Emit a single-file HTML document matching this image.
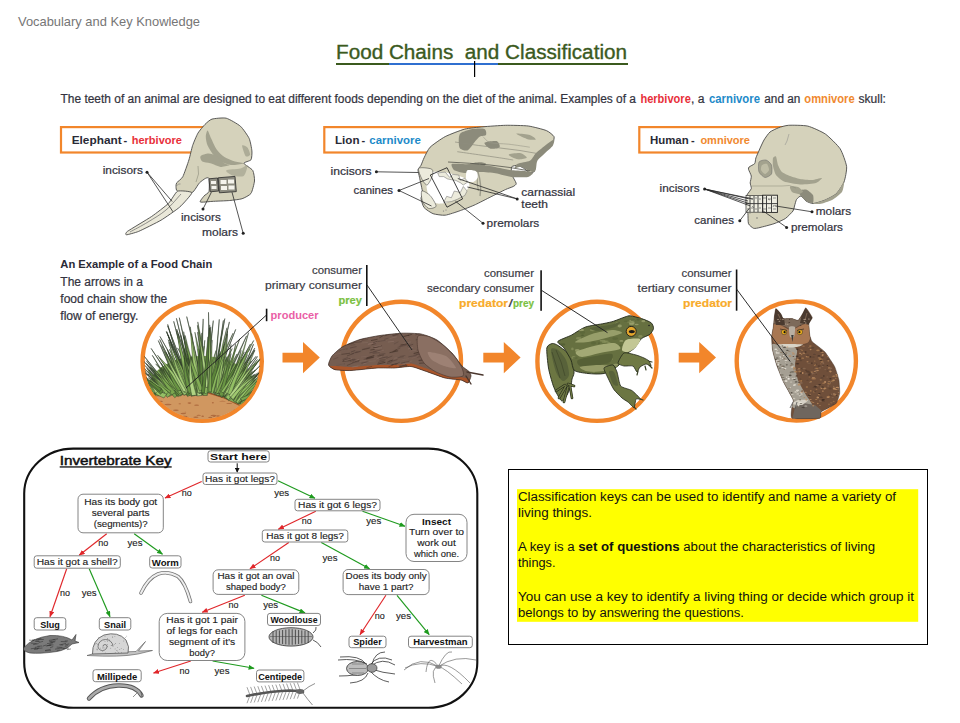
<!DOCTYPE html>
<html><head><meta charset="utf-8">
<style>
html,body{margin:0;padding:0;background:#fff;width:960px;height:723px;overflow:hidden}
svg{display:block}
text{font-family:"Liberation Sans",sans-serif}
.tw{fill:#333340;stroke:#333340;stroke-width:0.22}
.b{font-weight:bold}
.lab{font-size:11.5px;fill:#3a3a44}
.kb{fill:#fff;stroke:#777;stroke-width:0.9}
.kt{font-size:8.6px;fill:#222;stroke:#222;stroke-width:0.12}
.ktb{font-size:9.2px;fill:#111;font-weight:bold}
.red{stroke:#e0262a;stroke-width:1.15;fill:none}
.grn{stroke:#1e9a1e;stroke-width:1.15;fill:none}
.blk{stroke:#111;stroke-width:1;fill:none}
.ring{fill:none;stroke:#f2862b;stroke-width:4.4}
</style></head><body>
<svg width="960" height="723" viewBox="0 0 960 723">
<defs>
<marker id="ar" markerWidth="6" markerHeight="5" refX="5.5" refY="2.5" orient="auto" markerUnits="userSpaceOnUse"><path d="M0,0 L6,2.5 L0,5z" fill="#e0262a"/></marker>
<marker id="ag" markerWidth="6" markerHeight="5" refX="5.5" refY="2.5" orient="auto" markerUnits="userSpaceOnUse"><path d="M0,0 L6,2.5 L0,5z" fill="#1e9a1e"/></marker>
<marker id="ak" markerWidth="5" markerHeight="5" refX="4" refY="2.5" orient="auto" markerUnits="userSpaceOnUse"><path d="M0,0 L5,2.5 L0,5z" fill="#111"/></marker>
</defs>

<!-- header -->
<text x="18" y="25.5" font-size="13" fill="#767676" textLength="182" lengthAdjust="spacingAndGlyphs">Vocabulary and Key Knowledge</text>

<!-- title -->
<text x="336" y="59.2" font-size="20" fill="#3b5a1e" stroke="#3b5a1e" stroke-width="0.35" textLength="291" lengthAdjust="spacingAndGlyphs" xml:space="preserve">Food Chains  and Classification</text>
<rect x="336" y="63" width="292" height="2" fill="#3b5a1e"/>
<rect x="389" y="63" width="109" height="2" fill="#2f6fd0"/>
<rect x="474" y="61" width="1.2" height="16" fill="#000"/>

<!-- intro -->
<g font-size="12">
<text class="tw" x="60.5" y="102.5" textLength="575.5" lengthAdjust="spacingAndGlyphs">The teeth of an animal are designed to eat different foods depending on the diet of the animal. Examples of a</text>
<text class="b" fill="#e8303a" x="640.4" y="102.5" textLength="50.4" lengthAdjust="spacingAndGlyphs">herbivore</text>
<text class="tw" x="691" y="102.5" textLength="13.5" lengthAdjust="spacingAndGlyphs">, a</text>
<text class="b" fill="#1d8ac9" x="709" y="102.5" textLength="51" lengthAdjust="spacingAndGlyphs">carnivore</text>
<text class="tw" x="764.3" y="102.5" textLength="36" lengthAdjust="spacingAndGlyphs">and an</text>
<text class="b" fill="#f0892f" x="804.3" y="102.5" textLength="50.4" lengthAdjust="spacingAndGlyphs">omnivore</text>
<text class="tw" x="858.5" y="102.5" textLength="27.4" lengthAdjust="spacingAndGlyphs">skull:</text>
</g>

<!-- label boxes -->
<g fill="none" stroke="#f2862b" stroke-width="2.2">
<rect x="61" y="127.1" width="160" height="25.4"/>
<rect x="324.3" y="127.1" width="160" height="25.4"/>
<rect x="639.3" y="127.1" width="160" height="25.4"/>
</g>
<g font-size="11" font-weight="bold">
<text x="71.7" y="143.7" fill="#2a2a36" textLength="50" lengthAdjust="spacingAndGlyphs">Elephant</text>
<text x="123.5" y="143.7" fill="#2a2a36">-</text>
<text x="131.7" y="143.7" fill="#e8303a" textLength="50.3" lengthAdjust="spacingAndGlyphs">herbivore</text>
<text x="335" y="143.5" fill="#2a2a36" textLength="24.5" lengthAdjust="spacingAndGlyphs">Lion</text>
<text x="361.5" y="143.5" fill="#2a2a36">-</text>
<text x="369.3" y="143.5" fill="#1d8ac9" textLength="51.5" lengthAdjust="spacingAndGlyphs">carnivore</text>
<text x="650" y="143.7" fill="#2a2a36" textLength="38.7" lengthAdjust="spacingAndGlyphs">Human</text>
<text x="691" y="143.7" fill="#2a2a36">-</text>
<text x="700.4" y="143.7" fill="#f0892f" textLength="49.6" lengthAdjust="spacingAndGlyphs">omnivore</text>
</g>

<!-- SKULLS -->
<g id="skullsg"><path d="M212.0,119.1 C214.1,118.5 223.4,117.5 226.2,118.2 C229.0,118.9 238.1,124.2 240.4,126.2 C242.7,128.2 248.0,136.0 249.2,138.5 C250.3,141.0 251.7,148.8 251.9,150.9 C252.1,153.0 251.8,158.6 251.0,159.8 C250.2,161.0 243.7,162.2 243.9,163.3 C244.1,164.4 251.6,168.6 252.7,170.4 C253.8,172.2 254.7,178.7 254.5,181.0 C254.3,183.3 252.2,191.6 251.0,193.4 C249.8,195.2 244.2,198.0 242.1,198.7 C240.0,199.4 232.7,200.2 229.7,200.5 C226.7,200.8 214.9,201.2 212.0,201.4 C209.1,201.6 201.1,202.5 200.3,202.0 C199.5,201.5 203.1,197.1 204.0,196.0 C204.9,194.9 208.5,193.2 209.0,191.5 C209.5,189.8 209.3,179.8 209.0,178.5 C208.7,177.2 206.5,177.9 205.6,178.3 C204.7,178.7 200.9,181.4 199.5,182.8 C198.1,184.2 194.1,191.9 191.9,192.7 C189.7,193.5 179.1,191.8 177.5,191.2 C175.9,190.6 176.1,187.4 176.0,186.6 C175.9,185.8 176.0,183.8 176.7,182.8 C177.4,181.8 181.6,179.0 182.8,176.7 C184.0,174.4 187.9,163.1 188.9,160.0 C189.9,156.9 191.7,148.3 192.6,145.6 C193.5,142.9 196.7,135.3 197.9,133.2 C199.1,131.1 203.6,125.8 205.0,124.4 C206.4,123.0 209.9,119.7 212.0,119.1Z" fill="#d5d2bb" stroke="#4a4a48" stroke-width="0.9"/>
<path d="M207.6,130.6 C208.3,130.8 210.0,136.1 211.2,138.5 C212.3,141.0 214.7,146.7 216.5,149.2 C218.2,151.6 221.9,155.5 224.4,157.1 C226.9,158.8 232.4,160.7 235.0,161.6 C237.6,162.4 244.1,162.9 243.9,163.3 C243.7,163.8 236.1,165.2 233.3,165.1 C230.4,165.0 225.3,163.7 222.7,162.4 C220.1,161.1 215.8,157.6 213.8,155.4 C211.8,153.1 208.7,148.1 207.6,145.6 C206.5,143.2 205.8,138.8 205.8,136.8 C205.8,134.8 206.9,130.3 207.6,130.6Z" fill="#a3a28e"/>
<path d="M200.5,156.2 C201.4,155.2 206.4,153.6 208.5,153.6 C210.6,153.6 214.3,154.9 216.5,156.2 C218.6,157.5 222.7,162.1 224.4,163.3 C226.2,164.5 230.2,164.6 229.7,165.1 C229.3,165.6 223.5,167.1 220.9,166.9 C218.3,166.6 212.7,164.0 210.3,163.3 C207.8,162.6 203.6,162.5 202.3,161.6 C201.0,160.6 199.7,157.3 200.5,156.2Z" fill="#a3a28e"/>
<path d="M226.2,170.4 C227.1,169.5 237.5,169.3 240.4,168.6 C243.2,167.9 247.0,164.2 247.4,165.1 C247.9,166.0 245.8,174.3 243.9,175.7 C242.0,177.1 235.6,176.4 233.3,175.7 C230.9,175.0 225.3,171.4 226.2,170.4Z" fill="#a3a28e" opacity="0.7"/>
<path d="M242.1,145.6 C242.4,144.4 246.4,146.2 247.4,147.4 C248.5,148.6 250.3,153.3 250.1,154.5 C249.9,155.7 246.7,157.4 245.7,156.2 C244.6,155.1 241.9,146.8 242.1,145.6Z" fill="#a3a28e" opacity="0.8"/>
<path d="M177.5,191.2 C175.6,192.1 170.7,201.3 168.5,203.4 C166.3,205.5 155.0,214.2 151.6,216.5 C148.2,218.8 129.5,229.9 127.4,231.4 C125.3,232.9 125.5,234.8 126.4,234.8 C127.3,234.8 135.7,232.6 138.6,231.4 C141.5,230.2 157.6,222.2 161.0,220.2 C164.4,218.2 177.1,209.4 179.7,207.1 C182.3,204.8 192.1,194.0 191.9,192.7 C191.7,191.4 179.4,190.3 177.5,191.2Z" fill="#eae8d9" stroke="#4a4a48" stroke-width="0.9"/>
<path d="M181.0,194.0 C178.5,196.7 171.5,205.3 166.0,210.0 C160.5,214.7 154.0,218.3 148.0,222.0 C142.0,225.7 133.0,230.3 130.0,232.0" fill="none" stroke="#666" stroke-width="0.7"/>
<path d="M176.5,186 q2,-3 4,-2" fill="none" stroke="#777" stroke-width="0.6"/>
<path d="M198,166 q2,8 -2,16" fill="none" stroke="#8a8978" stroke-width="0.6"/>
<path d="M209,178.8 L217.5,178 L218.8,191 L210.2,191.8Z" fill="#8d8c80" stroke="#2a2a2a" stroke-width="0.8"/>
<path d="M218.2,177.8 L235,176.4 L236.3,191.6 L219.4,192.8Z" fill="#8d8c80" stroke="#2a2a2a" stroke-width="0.8"/>
<path d="M211,181 h5 v3 h-5z M211.5,186 h5 v3 h-5z M220.5,180 h6 v4 h-6z M228,179.5 h6 v4 h-6z M221,186 h6 v4 h-6z M228.5,185.5 h6 v4 h-6z" fill="#f4f3ec"/>
<path d="M430.1,147.2 C432.2,145.1 441.7,138.4 445.2,136.6 C448.7,134.8 461.1,130.0 464.8,129.1 C468.6,128.1 478.9,127.2 483.0,126.8 C487.1,126.4 501.1,125.4 505.6,125.3 C510.2,125.2 524.2,125.5 528.3,126.0 C532.4,126.6 543.9,129.5 546.4,130.6 C549.0,131.6 553.4,135.4 554.0,136.6 C554.6,137.8 553.5,141.5 552.5,142.7 C551.4,143.9 545.1,147.5 543.4,148.7 C541.7,149.9 536.9,153.4 535.8,154.7 C534.8,156.1 533.0,160.6 532.8,162.3 C532.7,164.0 534.6,170.3 534.3,171.4 C534.0,172.4 530.9,173.2 529.8,172.9 C528.7,172.6 525.0,169.1 523.8,168.3 C522.6,167.6 518.9,165.5 517.7,165.3 C516.5,165.2 512.3,165.9 511.7,166.8 C511.1,167.7 511.2,172.7 511.7,174.4 C512.1,176.0 516.1,182.2 516.2,183.4 C516.4,184.7 514.2,185.9 513.2,186.5 C512.1,187.1 507.9,188.4 505.6,189.5 C503.4,190.5 493.5,195.5 490.5,197.0 C487.5,198.5 478.4,203.2 475.4,204.6 C472.4,206.0 463.3,209.6 460.3,210.6 C457.3,211.7 447.9,214.9 445.2,215.2 C442.5,215.5 435.2,214.4 433.1,213.7 C431.0,212.9 425.3,209.1 424.1,207.6 C422.9,206.1 421.2,200.1 421.0,198.5 C420.9,197.0 422.7,194.6 422.6,192.5 C422.4,190.4 420.0,179.7 419.5,177.4 C419.1,175.1 417.9,171.1 418.0,169.8 C418.2,168.6 420.4,166.5 421.0,165.3 C421.6,164.1 423.2,159.6 424.1,157.8 C425.0,156.0 428.0,149.3 430.1,147.2Z" fill="#d5d2bb" stroke="#4a4a48" stroke-width="0.9"/>
<path d="M460.3,133.6 C462.1,131.8 469.2,129.7 472.4,129.1 C475.6,128.5 482.7,128.3 484.5,129.1 C486.3,129.9 486.6,134.1 486.0,135.1 C485.4,136.1 481.4,135.8 480.0,136.6 C478.5,137.4 477.0,139.3 475.4,141.1 C473.8,143.0 469.9,149.2 467.9,150.2 C465.9,151.2 461.5,149.7 460.3,148.7 C459.1,147.7 458.8,144.7 458.8,142.7 C458.8,140.6 458.5,135.4 460.3,133.6Z" fill="#8c8b7b"/>
<path d="M484.5,142.7 C485.3,141.7 494.6,140.5 496.6,141.1 C498.6,141.8 500.4,146.2 499.6,147.2 C498.8,148.2 492.5,149.3 490.5,148.7 C488.5,148.1 483.7,143.7 484.5,142.7Z" fill="#8c8b7b"/>
<path d="M554.0,139.6 C554.9,139.6 553.8,144.1 552.8,145.7 C551.7,147.3 546.7,151.5 544.9,153.2 C543.1,155.0 538.4,158.8 537.4,160.8 C536.3,162.7 536.4,168.5 535.8,169.8 C535.3,171.2 533.9,172.1 532.8,172.1 C531.8,172.1 528.2,170.5 526.8,169.8 C525.4,169.2 522.2,167.0 520.7,166.8 C519.3,166.7 515.1,168.7 514.7,168.3 C514.3,168.0 516.0,164.7 517.7,163.8 C519.5,162.9 527.7,162.0 529.8,160.8 C531.9,159.6 534.1,155.0 535.8,153.2 C537.6,151.5 542.8,147.3 544.9,145.7 C547.0,144.1 553.1,139.6 554.0,139.6Z" fill="#8c8b7b"/>
<path d="M516.2,133.6 C516.6,133.1 527.2,134.3 529.8,135.1 C532.4,135.9 536.2,139.1 535.8,139.6 C535.4,140.1 529.4,139.7 526.8,138.9 C524.2,138.1 515.8,134.1 516.2,133.6Z" fill="#a3a28e"/>
<path d="M508.7,154.7 C509.1,153.9 518.3,152.8 520.7,153.2 C523.2,153.6 527.2,157.0 526.8,157.8 C526.4,158.6 520.1,159.7 517.7,159.3 C515.3,158.9 508.3,155.5 508.7,154.7Z" fill="#a3a28e"/>
<path d="M466.4,165.3 C467.2,163.9 475.8,162.5 478.4,162.3 C481.1,162.1 485.8,162.8 486.0,163.8 C486.2,164.8 481.8,168.6 480.0,169.8 C478.1,171.1 474.2,173.5 472.4,172.9 C470.6,172.3 465.6,166.7 466.4,165.3Z" fill="#8c8b7b"/>
<path d="M480.0,163.8 Q475.4,177.4 478.4,191.0" fill="none" stroke="#a3a28e" stroke-width="1.2"/>
<path d="M452.0,164.0 C453.6,163.4 466.2,164.3 470.0,164.5 C473.8,164.7 486.0,165.4 490.0,166.0 C494.0,166.6 506.5,169.5 510.0,170.0 C513.5,170.5 522.7,170.7 525.0,171.0 C527.3,171.3 532.7,172.4 533.0,173.0 C533.3,173.6 530.1,176.6 528.0,177.0 C525.9,177.4 515.4,177.4 512.0,177.0 C508.6,176.6 497.4,173.5 494.0,173.0 C490.6,172.5 481.0,172.0 478.0,172.0 C475.0,172.0 466.4,173.2 464.0,173.0 C461.6,172.8 455.2,170.9 454.0,170.0 C452.8,169.1 450.4,164.6 452.0,164.0Z" fill="#8c8b7b"/>
<path d="M448,162 Q470,163 490,165 Q510,167 530,171" fill="none" stroke="#55554c" stroke-width="0.8"/>
<path d="M455,142 Q480,146 500,148 Q520,150 540,154" fill="none" stroke="#8e8d7e" stroke-width="0.7"/>
<path d="M478,172 Q482,185 480,196" fill="none" stroke="#9c9b8b" stroke-width="1.4"/>
<path d="M467.1,170.6 C468.4,169.4 474.8,170.5 476.2,171.4 C477.6,172.3 478.1,176.0 477.7,177.4 C477.3,178.8 474.7,181.5 473.2,181.9 C471.6,182.3 467.2,181.9 466.4,180.4 C465.6,178.9 465.8,171.8 467.1,170.6Z" fill="#fff"/>
<path d="M428.6,172.9 C430.7,171.4 438.8,171.9 442.2,172.1 C445.6,172.3 451.3,173.6 454.3,174.4 C457.3,175.2 462.8,176.7 464.8,178.2 C466.9,179.6 469.4,183.0 469.4,185.0 C469.4,186.9 466.7,190.7 464.8,192.5 C463.0,194.3 458.4,197.1 455.8,198.5 C453.2,200.0 448.0,202.5 445.2,203.1 C442.4,203.7 436.9,204.1 434.6,203.1 C432.4,202.1 429.7,198.1 428.6,195.5 C427.5,192.9 426.3,186.5 426.3,183.4 C426.3,180.4 426.5,174.4 428.6,172.9Z" fill="#fff"/>
<path d="M418.8,168.3 C420.1,167.0 429.8,168.1 431.6,169.1 C433.4,170.1 433.0,173.8 432.4,175.9 C431.8,178.0 428.5,184.6 427.1,185.0 C425.7,185.4 422.9,181.1 421.8,178.9 C420.7,176.7 417.5,169.6 418.8,168.3Z" fill="#ecebdc" stroke="#4a4a48" stroke-width="0.6"/>
<path d="M421.8,191.0 C422.8,190.2 428.2,193.5 430.1,195.5 C432.0,197.5 436.3,204.4 436.1,206.1 C435.9,207.8 430.4,209.0 428.6,208.4 C426.8,207.8 423.5,203.9 422.6,201.6 C421.6,199.3 420.8,191.8 421.8,191.0Z" fill="#ecebdc" stroke="#4a4a48" stroke-width="0.6"/>
<path d="M437.7,172.9 L445.2,172.1 L449.7,177.4 L452.8,174.4 L458.8,175.1 L460.3,180.4 L464.8,178.2 L467.9,181.9 L463.3,185.0 L460.3,182.7 L455.8,180.4 L451.3,179.7 L447.5,178.9 L443.7,176.6 L439.2,176.6Z" fill="#ecebdc" stroke="#666" stroke-width="0.5"/>
<path d="M443.7,202.3 L446.7,196.3 L451.3,197.8 L454.3,191.0 L460.3,192.5 L463.3,186.5 L467.1,191.0 L464.8,195.5 L457.3,199.3 L451.3,201.6Z" fill="#ecebdc" stroke="#666" stroke-width="0.5"/>
<path d="M457.3,151.7 C460.8,152.2 471.4,153.7 478.4,154.7 C485.5,155.8 493.8,156.9 499.6,157.8 C505.4,158.6 510.9,159.7 513.2,160.0" fill="none" stroke="#8e8d7e" stroke-width="0.7"/>
<path d="M483.0,136.6 C484.2,137.6 486.2,141.4 490.5,142.7 C494.8,143.9 502.1,143.4 508.7,144.2 C515.2,144.9 526.3,146.7 529.8,147.2" fill="none" stroke="#9a998a" stroke-width="0.6"/>
<circle cx="443.5" cy="211" r="0.6" fill="#777"/><circle cx="446" cy="210" r="0.6" fill="#777"/>
<path d="M430.3,175 L447,167.7 L462.6,198.9 L447,207.2 Z" fill="none" stroke="#2a2a2a" stroke-width="0.9"/>
<path d="M788.4,125.3 C791.3,125.1 804.1,125.2 807.8,126.1 C811.5,127.0 822.4,131.9 825.6,134.2 C828.8,136.5 838.0,145.5 840.1,148.7 C842.2,151.9 846.2,163.2 846.6,166.5 C847.0,169.8 845.1,179.2 844.0,182.0 C842.9,184.8 838.0,192.2 836.0,194.0 C834.0,195.8 826.3,199.6 824.0,200.5 C821.7,201.4 815.0,203.4 813.2,203.5 C811.4,203.6 807.2,201.8 806.0,201.0 C804.8,200.2 802.0,196.2 801.0,196.0 C800.0,195.8 797.1,198.5 796.5,199.5 C795.9,200.5 794.9,204.8 794.5,206.0 C794.1,207.2 793.9,209.8 793.0,211.0 C792.1,212.2 787.3,217.2 785.4,218.5 C783.5,219.8 776.5,222.8 774.0,223.7 C771.5,224.6 762.0,227.0 760.0,227.5 C758.0,228.0 754.8,228.7 753.6,228.3 C752.5,227.9 749.1,225.2 748.5,223.7 C747.9,222.2 748.1,215.4 747.9,213.5 C747.7,211.6 746.3,206.2 746.2,204.4 C746.1,202.6 746.3,197.0 746.8,195.4 C747.3,193.8 751.0,189.8 751.3,188.6 C751.6,187.3 750.2,184.2 750.2,182.9 C750.2,181.7 751.5,177.5 751.3,176.1 C751.1,174.7 748.7,170.2 748.5,169.3 C748.3,168.4 748.5,167.6 749.1,167.0 C749.7,166.4 754.0,164.5 754.7,163.6 C755.4,162.7 755.4,159.3 755.9,157.9 C756.4,156.5 758.5,151.8 759.3,150.0 C760.1,148.2 762.9,141.8 764.0,140.0 C765.1,138.2 768.5,133.2 770.0,132.0 C771.5,130.8 776.9,128.4 778.7,127.7 C780.5,127.0 785.5,125.5 788.4,125.3Z" fill="#d5d2bb" stroke="#4a4a48" stroke-width="0.9"/>
<path d="M759.0,162.0 C759.8,160.6 764.5,159.7 766.0,160.0 C767.5,160.3 770.9,163.4 771.5,165.0 C772.1,166.6 772.3,172.5 771.5,174.0 C770.7,175.5 766.5,177.7 765.0,177.5 C763.5,177.3 759.7,173.8 759.0,172.0 C758.3,170.2 758.2,163.4 759.0,162.0Z" fill="#a3a28e" stroke="#666" stroke-width="0.5"/>
<path d="M762.0,165.0 C762.7,164.3 766.2,163.4 767.0,164.0 C767.8,164.6 769.2,168.8 769.0,170.0 C768.8,171.2 765.9,174.0 765.0,174.0 C764.1,174.0 761.4,171.1 761.0,170.0 C760.6,168.9 761.3,165.7 762.0,165.0Z" fill="#bfbda6"/>
<path d="M773.0,158.0 C773.3,157.1 775.5,155.8 776.0,156.5 C776.5,157.2 777.4,163.4 778.0,165.0 C778.6,166.6 780.8,170.9 782.0,172.0 C783.2,173.1 788.2,175.3 790.0,176.0 C791.8,176.7 797.8,178.6 800.0,179.0 C802.2,179.4 809.8,180.1 812.0,180.0 C814.2,179.9 821.6,177.7 822.0,178.0 C822.4,178.3 818.2,182.3 816.0,183.0 C813.8,183.7 803.2,184.7 800.0,184.5 C796.8,184.3 786.4,182.4 784.0,181.5 C781.6,180.6 777.1,176.6 776.0,175.0 C774.9,173.4 773.3,167.7 773.0,166.0 C772.7,164.3 772.7,158.9 773.0,158.0Z" fill="#a3a28e"/>
<path d="M798.0,191.0 C798.5,190.3 804.5,189.1 806.0,189.5 C807.5,189.9 812.3,193.7 813.0,195.0 C813.7,196.3 813.7,202.4 813.0,203.0 C812.3,203.6 807.2,201.7 806.0,201.0 C804.8,200.3 801.8,197.0 801.0,196.0 C800.2,195.0 797.5,191.7 798.0,191.0Z" fill="#8c8b7b"/>
<path d="M790.0,186.5 C790.6,186.0 796.7,186.5 798.0,187.0 C799.3,187.5 802.9,190.8 803.0,191.5 C803.1,192.2 800.1,193.9 799.0,194.0 C797.9,194.1 792.9,192.8 792.0,192.0 C791.1,191.2 789.4,187.0 790.0,186.5Z" fill="#a3a28e"/>
<path d="M813.0,203.5 C813.4,203.2 821.7,201.4 824.0,200.5 C826.3,199.6 834.0,195.8 836.0,194.0 C838.0,192.2 843.4,182.2 844.0,182.0 C844.6,181.8 843.2,190.2 842.0,192.0 C840.8,193.8 834.2,198.8 832.0,200.0 C829.8,201.2 821.9,203.7 820.0,204.0 C818.1,204.3 812.6,203.8 813.0,203.5Z" fill="#a3a28e"/>
<path d="M789,134 l-2,7 -2,4" fill="none" stroke="#888" stroke-width="0.5"/>
<path d="M752,186 h30 M782,186 q8,-2 14,2" fill="none" stroke="#8a8a7a" stroke-width="0.5"/>
<rect x="746" y="195.6" width="31.4" height="16.6" fill="#efeee2"/>
<path d="M746,203.6h31.4 M750,196v16 M754,196v16 M758,196v16 M766.5,196v16 M771.5,196v16" fill="none" stroke="#333" stroke-width="0.9"/>
<path d="M747,198 h2 M751,199 h2 M755,198 h2 M759,199 h2 M763,198 h3 M768,199 h3 M773,198 h3 M747,209 h2 M751,208 h2 M755,209 h2 M759,208 h2 M763,209 h3 M768,208 h3 M773,209 h3" fill="none" stroke="#666" stroke-width="0.7"/>
<path d="M748,199 l2,-1 M752,206 l2,2 M768,199 l2,1 M773,207 l1,-2" stroke="#555" stroke-width="0.6"/>
<rect x="746" y="195.6" width="16.7" height="16.6" fill="none" stroke="#333" stroke-width="0.7"/>
<rect x="762.7" y="195.2" width="14.7" height="17.2" fill="none" stroke="#222" stroke-width="0.9"/>
<circle cx="757" cy="218" r="0.7" fill="#666"/><circle cx="750" cy="213" r="0.5" fill="#666"/>
<path d="M147,172.2 L172.2,201.5" stroke="#2a2a2a" stroke-width="0.8" fill="none"/>
<path d="M147,172.2 L173,211.8" stroke="#2a2a2a" stroke-width="0.8" fill="none"/>
<path d="M203,209 L211.4,192.2" stroke="#2a2a2a" stroke-width="0.8" fill="none"/>
<path d="M243.2,233.3 L232,192.2" stroke="#2a2a2a" stroke-width="0.8" fill="none"/>
<path d="M376.4,171.8 L418.3,172.5" stroke="#2a2a2a" stroke-width="0.8" fill="none"/>
<path d="M399,190.5 L429,178.5" stroke="#2a2a2a" stroke-width="0.8" fill="none"/>
<path d="M399,190.5 L431.5,206" stroke="#2a2a2a" stroke-width="0.8" fill="none"/>
<path d="M517.2,198.9 L457.8,178.5" stroke="#2a2a2a" stroke-width="0.8" fill="none"/>
<path d="M517.2,198.9 L467.4,187" stroke="#2a2a2a" stroke-width="0.8" fill="none"/>
<path d="M483,223.3 L455.4,201.2" stroke="#2a2a2a" stroke-width="0.8" fill="none"/>
<path d="M704.6,189 L748,198.6" stroke="#2a2a2a" stroke-width="0.8" fill="none"/>
<path d="M704.6,189 L748,201" stroke="#2a2a2a" stroke-width="0.8" fill="none"/>
<path d="M704.6,189 L749,203.5" stroke="#2a2a2a" stroke-width="0.8" fill="none"/>
<path d="M704.6,189 L750,205.8" stroke="#2a2a2a" stroke-width="0.8" fill="none"/>
<path d="M704.6,189 L753,199" stroke="#2a2a2a" stroke-width="0.8" fill="none"/>
<path d="M739.8,220.7 L749.4,208.2" stroke="#2a2a2a" stroke-width="0.8" fill="none"/>
<path d="M812,211.8 L774.6,205.8" stroke="#2a2a2a" stroke-width="0.8" fill="none"/>
<path d="M786.6,227.4 L762.6,210.6" stroke="#2a2a2a" stroke-width="0.8" fill="none"/>
<circle cx="147" cy="172.2" r="1.5" fill="#222"/>
<circle cx="203" cy="209" r="1.5" fill="#222"/>
<circle cx="243.2" cy="233.3" r="1.5" fill="#222"/>
<circle cx="376.4" cy="171.8" r="1.5" fill="#222"/>
<circle cx="399" cy="190.5" r="1.5" fill="#222"/>
<circle cx="517.2" cy="198.9" r="1.5" fill="#222"/>
<circle cx="483" cy="223.3" r="1.5" fill="#222"/>
<circle cx="704.6" cy="189" r="1.5" fill="#222"/>
<circle cx="739.8" cy="220.7" r="1.5" fill="#222"/>
<circle cx="812" cy="211.8" r="1.5" fill="#222"/>
<circle cx="786.6" cy="227.4" r="1.5" fill="#222"/>
<text class="tw" x="102.7" y="174.3" font-size="11.5" textLength="40.2" lengthAdjust="spacingAndGlyphs">incisors</text>
<text class="tw" x="181" y="220.5" font-size="11.5" textLength="39.8" lengthAdjust="spacingAndGlyphs">incisors</text>
<text class="tw" x="202" y="236.0" font-size="11.5" textLength="36.0" lengthAdjust="spacingAndGlyphs">molars</text>
<text class="tw" x="330.5" y="175.4" font-size="11.5" textLength="41.1" lengthAdjust="spacingAndGlyphs">incisors</text>
<text class="tw" x="353.6" y="194.1" font-size="11.5" textLength="39.4" lengthAdjust="spacingAndGlyphs">canines</text>
<text class="tw" x="521.3" y="195.6" font-size="11.5" textLength="53.9" lengthAdjust="spacingAndGlyphs">carnassial</text>
<text class="tw" x="521.3" y="208.4" font-size="11.5" textLength="26.7" lengthAdjust="spacingAndGlyphs">teeth</text>
<text class="tw" x="486.6" y="226.9" font-size="11.5" textLength="52.7" lengthAdjust="spacingAndGlyphs">premolars</text>
<text class="tw" x="659.6" y="191.5" font-size="11.5" textLength="40.0" lengthAdjust="spacingAndGlyphs">incisors</text>
<text class="tw" x="694.3" y="223.8" font-size="11.5" textLength="39.6" lengthAdjust="spacingAndGlyphs">canines</text>
<text class="tw" x="815.8" y="215.4" font-size="11.5" textLength="35.4" lengthAdjust="spacingAndGlyphs">molars</text>
<text class="tw" x="790.9" y="231.0" font-size="11.5" textLength="52.0" lengthAdjust="spacingAndGlyphs">premolars</text></g>

<!-- food chain text -->
<text class="b" x="60.3" y="268.2" font-size="11.5" fill="#2a2a36" textLength="152" lengthAdjust="spacingAndGlyphs">An Example of a Food Chain</text>
<g font-size="12" class="tw">
<text x="60.3" y="285.6" textLength="82.7" lengthAdjust="spacingAndGlyphs">The arrows in a</text>
<text x="60.3" y="302.6" textLength="107" lengthAdjust="spacingAndGlyphs">food chain show the</text>
<text x="60.3" y="319.6" textLength="78" lengthAdjust="spacingAndGlyphs">flow of energy.</text>
</g>

<!-- rings -->
<circle class="ring" cx="202.2" cy="361.2" r="59.6"/>
<circle class="ring" cx="401.4" cy="361.3" r="59.6"/>
<circle class="ring" cx="597" cy="361.3" r="59.6"/>
<circle class="ring" cx="796.3" cy="361" r="59.6"/>

<!-- arrows -->
<g fill="#f2862b">
<path d="M282.5,352.8H303V341.9L319.8,357.6L303,373.2V362.4H282.5Z"/>
<path d="M283,352.8H303.5V341.9L320.3,357.6L303.5,373.2V362.4H283Z" transform="translate(200.3,0)"/>
<path d="M282.5,352.8H303V341.9L319.8,357.6L303,373.2V362.4H282.5Z" transform="translate(396.2,0)"/>
</g>

<!-- ANIMALS -->
<g id="animalsg"><clipPath id="c1"><circle cx="202.2" cy="361.2" r="58"/></clipPath>
<g clip-path="url(#c1)">
<path d="M140.0,396.0 L157.6,395.5 L180.0,394.0 L206.7,392.3 L225.0,398.0 L238.3,404.5 L255.0,410.0 L265.0,414.0 L265.0,430.0 L140.0,430.0Z" fill="#d09760"/>
<ellipse cx="213.5" cy="415.6" rx="3.0" ry="0.8" fill="#a9643a" opacity="0.85"/>
<ellipse cx="226.4" cy="419.4" rx="1.1" ry="0.6" fill="#a9643a" opacity="0.85"/>
<ellipse cx="248.8" cy="413.6" rx="3.3" ry="0.4" fill="#a9643a" opacity="0.85"/>
<ellipse cx="196.6" cy="405.2" rx="2.4" ry="0.6" fill="#a9643a" opacity="0.85"/>
<ellipse cx="146.4" cy="404.6" rx="1.7" ry="0.8" fill="#a9643a" opacity="0.85"/>
<ellipse cx="229.2" cy="403.4" rx="3.0" ry="0.5" fill="#a9643a" opacity="0.85"/>
<ellipse cx="212.9" cy="402.7" rx="1.0" ry="0.7" fill="#a9643a" opacity="0.85"/>
<ellipse cx="168.0" cy="404.5" rx="3.5" ry="0.7" fill="#a9643a" opacity="0.85"/>
<ellipse cx="176.8" cy="420.2" rx="2.3" ry="0.7" fill="#a9643a" opacity="0.85"/>
<ellipse cx="167.5" cy="419.8" rx="2.7" ry="0.8" fill="#a9643a" opacity="0.85"/>
<ellipse cx="243.3" cy="406.3" rx="1.9" ry="0.5" fill="#a9643a" opacity="0.85"/>
<ellipse cx="161.0" cy="401.4" rx="1.8" ry="0.6" fill="#a9643a" opacity="0.85"/>
<ellipse cx="145.4" cy="414.2" rx="1.8" ry="0.5" fill="#a9643a" opacity="0.85"/>
<ellipse cx="235.0" cy="410.1" rx="1.8" ry="0.6" fill="#a9643a" opacity="0.85"/>
<ellipse cx="222.5" cy="401.2" rx="3.4" ry="0.4" fill="#a9643a" opacity="0.85"/>
<ellipse cx="227.5" cy="417.7" rx="1.0" ry="0.7" fill="#a9643a" opacity="0.85"/>
<ellipse cx="185.3" cy="412.1" rx="1.0" ry="0.4" fill="#a9643a" opacity="0.85"/>
<ellipse cx="164.9" cy="420.1" rx="1.5" ry="0.7" fill="#a9643a" opacity="0.85"/>
<ellipse cx="247.3" cy="419.8" rx="1.9" ry="0.5" fill="#a9643a" opacity="0.85"/>
<ellipse cx="202.7" cy="416.3" rx="1.3" ry="0.7" fill="#a9643a" opacity="0.85"/>
<ellipse cx="232.7" cy="418.1" rx="1.1" ry="0.8" fill="#a9643a" opacity="0.85"/>
<ellipse cx="155.0" cy="407.2" rx="2.5" ry="0.8" fill="#a9643a" opacity="0.85"/>
<ellipse cx="182.4" cy="419.4" rx="2.4" ry="0.5" fill="#a9643a" opacity="0.85"/>
<ellipse cx="179.8" cy="403.7" rx="1.2" ry="0.5" fill="#a9643a" opacity="0.85"/>
<ellipse cx="220.8" cy="420.9" rx="1.4" ry="0.4" fill="#a9643a" opacity="0.85"/>
<ellipse cx="253.5" cy="411.2" rx="2.0" ry="0.5" fill="#a9643a" opacity="0.85"/>
<ellipse cx="210.3" cy="417.4" rx="2.1" ry="0.6" fill="#a9643a" opacity="0.85"/>
<ellipse cx="151.1" cy="419.2" rx="1.1" ry="0.6" fill="#a9643a" opacity="0.85"/>
<ellipse cx="237.2" cy="402.7" rx="2.8" ry="0.8" fill="#a9643a" opacity="0.85"/>
<ellipse cx="214.3" cy="416.5" rx="1.3" ry="0.6" fill="#a9643a" opacity="0.85"/>
<ellipse cx="161.4" cy="417.7" rx="1.7" ry="0.6" fill="#a9643a" opacity="0.85"/>
<ellipse cx="254.9" cy="417.9" rx="3.4" ry="0.6" fill="#a9643a" opacity="0.85"/>
<ellipse cx="198.7" cy="415.3" rx="2.2" ry="0.5" fill="#a9643a" opacity="0.85"/>
<ellipse cx="189.4" cy="403.1" rx="1.9" ry="0.8" fill="#a9643a" opacity="0.85"/>
<ellipse cx="250.6" cy="413.2" rx="2.2" ry="0.5" fill="#a9643a" opacity="0.85"/>
<ellipse cx="154.8" cy="405.7" rx="3.0" ry="0.7" fill="#a9643a" opacity="0.85"/>
<ellipse cx="184.7" cy="416.5" rx="2.9" ry="0.7" fill="#a9643a" opacity="0.85"/>
<ellipse cx="218.0" cy="416.0" rx="1.9" ry="0.7" fill="#a9643a" opacity="0.85"/>
<ellipse cx="175.9" cy="410.2" rx="2.9" ry="0.7" fill="#a9643a" opacity="0.85"/>
<ellipse cx="177.3" cy="419.9" rx="2.6" ry="0.6" fill="#a9643a" opacity="0.85"/>
<ellipse cx="146.3" cy="411.5" rx="1.6" ry="0.7" fill="#a9643a" opacity="0.85"/>
<ellipse cx="195.9" cy="417.2" rx="2.6" ry="0.7" fill="#a9643a" opacity="0.85"/>
<ellipse cx="183.3" cy="413.5" rx="2.8" ry="0.7" fill="#a9643a" opacity="0.85"/>
<ellipse cx="183.5" cy="417.7" rx="3.2" ry="0.7" fill="#a9643a" opacity="0.85"/>
<ellipse cx="252.4" cy="420.1" rx="2.3" ry="0.6" fill="#a9643a" opacity="0.85"/>
<path d="M140,396 L157.6,395.5 L180,394 L206.7,392.3 L225,398 L238.3,404.5 L255,410 L265,414" fill="none" stroke="#9a5428" stroke-width="1.6"/>
<path d="M145.0,398.0 C143.0,396.2 145.8,388.7 148.0,384.0 C150.2,379.3 153.3,374.0 158.0,370.0 C162.7,366.0 168.2,362.3 176.0,360.0 C183.8,357.7 195.7,355.7 205.0,356.0 C214.3,356.3 224.5,359.0 232.0,362.0 C239.5,365.0 245.5,369.3 250.0,374.0 C254.5,378.7 256.8,383.7 259.0,390.0 C261.2,396.3 266.5,409.7 263.0,412.0 C259.5,414.3 247.3,407.3 238.0,404.0 C228.7,400.7 220.0,393.5 207.0,392.0 C194.0,390.5 170.3,394.0 160.0,395.0 C149.7,396.0 147.0,399.8 145.0,398.0Z" fill="#7da653"/>
<path d="M190.5,392.2 Q175.4,364.3 160.0,336.5 Q175.9,364.0 191.3,391.8Z" fill="#6b8a55" stroke="#2b3626" stroke-width="0.5"/>
<path d="M211.2,391.8 Q222.9,360.4 235.7,329.4 Q223.5,360.6 212.0,392.2Z" fill="#55704a" stroke="#2b3626" stroke-width="0.5"/>
<path d="M171.9,392.3 Q156.6,378.0 143.8,361.2 Q157.1,377.5 172.6,391.7Z" fill="#4a5e40" stroke="#2b3626" stroke-width="0.5"/>
<path d="M211.2,392.0 Q208.1,352.3 208.5,312.3 Q208.7,352.2 212.1,392.0Z" fill="#4a5e40" stroke="#2b3626" stroke-width="0.5"/>
<path d="M233.3,391.7 Q244.4,373.5 257.5,356.5 Q244.9,373.8 234.1,392.3Z" fill="#4a5e40" stroke="#2b3626" stroke-width="0.5"/>
<path d="M179.0,392.3 Q165.2,370.3 151.1,348.4 Q165.9,369.8 179.9,391.7Z" fill="#55704a" stroke="#2b3626" stroke-width="0.5"/>
<path d="M209.5,391.9 Q218.6,355.5 224.8,318.6 Q219.5,355.7 210.8,392.1Z" fill="#6b8a55" stroke="#2b3626" stroke-width="0.5"/>
<path d="M211.1,391.9 Q218.3,356.3 223.4,320.4 Q219.4,356.5 212.6,392.1Z" fill="#55704a" stroke="#2b3626" stroke-width="0.5"/>
<path d="M171.1,392.4 Q157.6,379.1 144.7,365.3 Q158.2,378.6 172.0,391.6Z" fill="#4a5e40" stroke="#2b3626" stroke-width="0.5"/>
<path d="M242.8,391.5 Q251.5,378.5 263.5,368.3 Q252.3,379.2 244.0,392.5Z" fill="#6b8a55" stroke="#2b3626" stroke-width="0.5"/>
<path d="M198.1,392.0 Q202.2,355.5 203.2,318.9 Q203.2,355.6 199.4,392.0Z" fill="#6b8a55" stroke="#2b3626" stroke-width="0.5"/>
<path d="M191.5,392.3 Q176.6,363.0 166.7,331.5 Q177.6,362.5 192.9,391.7Z" fill="#55704a" stroke="#2b3626" stroke-width="0.5"/>
<path d="M240.3,391.7 Q253.0,380.2 264.1,367.2 Q253.4,380.7 240.9,392.3Z" fill="#4a5e40" stroke="#2b3626" stroke-width="0.5"/>
<path d="M210.5,391.8 Q222.1,357.4 229.4,321.9 Q223.1,357.7 212.0,392.2Z" fill="#6b8a55" stroke="#2b3626" stroke-width="0.5"/>
<path d="M166.5,392.3 Q153.3,383.3 144.0,370.3 Q153.8,382.8 167.1,391.7Z" fill="#6b8a55" stroke="#2b3626" stroke-width="0.5"/>
<path d="M174.7,392.6 Q158.5,378.5 146.3,360.7 Q159.4,377.7 176.0,391.4Z" fill="#6b8a55" stroke="#2b3626" stroke-width="0.5"/>
<path d="M196.5,392.2 Q186.8,360.6 176.7,329.1 Q187.6,360.3 197.7,391.8Z" fill="#4a5e40" stroke="#2b3626" stroke-width="0.5"/>
<path d="M197.4,392.2 Q186.2,355.5 179.3,317.7 Q187.4,355.2 199.1,391.8Z" fill="#55704a" stroke="#2b3626" stroke-width="0.5"/>
<path d="M176.4,392.5 Q162.6,375.0 152.3,355.3 Q163.6,374.4 177.8,391.5Z" fill="#6b8a55" stroke="#2b3626" stroke-width="0.5"/>
<path d="M164.9,392.5 Q155.4,380.1 142.4,371.4 Q156.0,379.3 165.8,391.5Z" fill="#4a5e40" stroke="#2b3626" stroke-width="0.5"/>
<path d="M233.2,391.5 Q247.6,377.0 262.6,363.2 Q248.4,377.8 234.3,392.5Z" fill="#4a5e40" stroke="#2b3626" stroke-width="0.5"/>
<path d="M228.4,391.8 Q242.2,370.3 254.8,348.1 Q242.8,370.6 229.2,392.2Z" fill="#55704a" stroke="#2b3626" stroke-width="0.5"/>
<path d="M179.8,392.2 Q169.5,366.2 158.3,340.6 Q170.1,365.9 180.7,391.8Z" fill="#55704a" stroke="#2b3626" stroke-width="0.5"/>
<path d="M164.7,392.5 Q151.8,385.7 142.7,374.2 Q152.3,385.0 165.4,391.5Z" fill="#55704a" stroke="#2b3626" stroke-width="0.5"/>
<path d="M213.6,392.0 Q215.5,355.6 219.3,319.4 Q216.3,355.7 214.7,392.0Z" fill="#55704a" stroke="#2b3626" stroke-width="0.5"/>
<path d="M173.7,392.4 Q158.0,375.1 144.1,356.1 Q158.6,374.5 174.7,391.6Z" fill="#55704a" stroke="#2b3626" stroke-width="0.5"/>
<path d="M172.6,392.6 Q157.9,379.5 146.4,363.5 Q158.7,378.7 173.8,391.4Z" fill="#55704a" stroke="#2b3626" stroke-width="0.5"/>
<path d="M180.7,392.3 Q172.4,364.9 159.7,339.3 Q173.3,364.5 182.1,391.7Z" fill="#4a5e40" stroke="#2b3626" stroke-width="0.5"/>
<path d="M188.1,392.3 Q178.0,363.8 168.1,335.2 Q179.1,363.4 189.6,391.7Z" fill="#55704a" stroke="#2b3626" stroke-width="0.5"/>
<path d="M192.9,392.3 Q180.2,361.7 166.3,331.7 Q181.0,361.3 194.0,391.7Z" fill="#4a5e40" stroke="#2b3626" stroke-width="0.5"/>
<path d="M229.3,391.5 Q247.1,375.3 262.3,356.7 Q247.9,376.0 230.5,392.5Z" fill="#4a5e40" stroke="#2b3626" stroke-width="0.5"/>
<path d="M228.6,391.7 Q243.5,369.2 253.5,344.2 Q244.5,369.7 229.9,392.3Z" fill="#6b8a55" stroke="#2b3626" stroke-width="0.5"/>
<path d="M202.2,392.1 Q196.2,354.0 186.7,316.6 Q196.9,353.8 203.3,391.9Z" fill="#4a5e40" stroke="#2b3626" stroke-width="0.5"/>
<path d="M243.7,391.6 Q253.5,382.1 265.5,375.3 Q254.0,382.7 244.4,392.4Z" fill="#55704a" stroke="#2b3626" stroke-width="0.5"/>
<path d="M191.4,392.2 Q176.6,359.4 167.7,324.4 Q177.5,359.1 192.7,391.8Z" fill="#4a5e40" stroke="#2b3626" stroke-width="0.5"/>
<path d="M192.1,392.1 Q182.1,356.9 173.7,321.3 Q182.8,356.8 193.0,391.9Z" fill="#4a5e40" stroke="#2b3626" stroke-width="0.5"/>
<path d="M224.3,391.6 Q236.4,367.3 250.5,344.0 Q237.4,367.8 225.7,392.4Z" fill="#4a5e40" stroke="#2b3626" stroke-width="0.5"/>
<path d="M195.9,392.2 Q184.1,355.8 176.4,318.3 Q185.1,355.6 197.4,391.8Z" fill="#55704a" stroke="#2b3626" stroke-width="0.5"/>
<path d="M166.7,392.5 Q155.4,379.7 143.4,367.7 Q156.1,379.0 167.7,391.5Z" fill="#4a5e40" stroke="#2b3626" stroke-width="0.5"/>
<path d="M243.0,391.5 Q252.4,380.4 265.0,372.8 Q253.0,381.1 243.9,392.5Z" fill="#55704a" stroke="#2b3626" stroke-width="0.5"/>
<path d="M228.3,391.5 Q240.4,372.5 256.2,356.2 Q241.3,373.1 229.6,392.5Z" fill="#55704a" stroke="#2b3626" stroke-width="0.5"/>
<path d="M230.6,391.7 Q241.1,370.2 254.6,350.2 Q241.8,370.5 231.6,392.3Z" fill="#4a5e40" stroke="#2b3626" stroke-width="0.5"/>
<path d="M190.7,392.1 Q180.4,358.5 167.6,325.8 Q181.0,358.3 191.5,391.9Z" fill="#6b8a55" stroke="#2b3626" stroke-width="0.5"/>
<path d="M217.3,391.6 Q233.8,364.7 246.6,335.8 Q234.8,365.2 218.7,392.4Z" fill="#55704a" stroke="#2b3626" stroke-width="0.5"/>
<path d="M206.9,392.0 Q208.1,356.1 213.3,320.6 Q209.0,356.2 208.2,392.0Z" fill="#55704a" stroke="#2b3626" stroke-width="0.5"/>
<path d="M233.5,400.3 Q240.7,384.3 255.2,373.9 Q242.0,385.3 235.4,401.8Z" fill="#94c065" stroke="#2b3626" stroke-width="0.45"/>
<path d="M234.4,400.6 Q245.4,394.6 253.1,385.1 Q246.8,396.1 236.4,402.7Z" fill="#94c065" stroke="#2b3626" stroke-width="0.45"/>
<path d="M208.2,388.2 Q216.0,366.1 224.4,344.1 Q218.6,366.9 211.9,389.5Z" fill="#6a9644" stroke="#2b3626" stroke-width="0.45"/>
<path d="M222.8,394.6 Q235.5,379.1 245.6,361.9 Q238.5,380.9 227.1,397.2Z" fill="#b0d483" stroke="#2b3626" stroke-width="0.45"/>
<path d="M250.2,401.1 Q255.0,397.0 261.5,395.2 Q256.4,398.9 252.2,403.8Z" fill="#82ad55" stroke="#2b3626" stroke-width="0.45"/>
<path d="M153.1,396.5 Q149.9,389.2 143.2,387.9 Q151.6,386.5 155.4,392.6Z" fill="#9fc870" stroke="#2b3626" stroke-width="0.45"/>
<path d="M252.5,403.6 Q256.5,401.2 261.2,399.8 Q257.4,402.7 253.7,405.7Z" fill="#8ab85c" stroke="#2b3626" stroke-width="0.45"/>
<path d="M190.2,393.2 Q186.0,362.6 183.7,331.7 Q187.7,362.4 192.6,392.9Z" fill="#5c853a" stroke="#2b3626" stroke-width="0.45"/>
<path d="M183.8,395.4 Q171.8,376.3 159.3,357.6 Q173.0,375.5 185.5,394.2Z" fill="#94c065" stroke="#2b3626" stroke-width="0.45"/>
<path d="M224.0,395.4 Q230.7,379.4 244.7,368.1 Q233.6,381.3 228.3,398.1Z" fill="#6a9644" stroke="#2b3626" stroke-width="0.45"/>
<path d="M255.8,407.1 Q257.5,404.4 261.8,406.6 Q258.9,407.2 257.8,411.2Z" fill="#9fc870" stroke="#2b3626" stroke-width="0.45"/>
<path d="M238.4,397.4 Q250.7,388.1 262.9,378.8 Q252.1,389.9 240.5,399.9Z" fill="#94c065" stroke="#2b3626" stroke-width="0.45"/>
<path d="M224.3,397.8 Q230.0,373.1 244.3,351.9 Q232.2,374.0 227.4,399.0Z" fill="#7aa64e" stroke="#2b3626" stroke-width="0.45"/>
<path d="M217.2,391.3 Q225.7,361.8 227.5,331.2 Q227.2,362.0 219.4,391.7Z" fill="#94c065" stroke="#2b3626" stroke-width="0.45"/>
<path d="M146.2,391.7 Q140.3,392.6 139.8,385.1 Q141.8,390.2 148.4,388.4Z" fill="#6a9644" stroke="#2b3626" stroke-width="0.45"/>
<path d="M251.6,400.5 Q256.6,399.6 260.8,397.4 Q258.5,402.6 254.3,404.7Z" fill="#6a9644" stroke="#2b3626" stroke-width="0.45"/>
<path d="M178.3,393.7 Q166.5,383.6 158.8,370.0 Q167.6,382.7 179.8,392.3Z" fill="#7aa64e" stroke="#2b3626" stroke-width="0.45"/>
<path d="M147.3,394.1 Q144.1,391.8 141.8,388.2 Q145.2,390.2 148.9,391.9Z" fill="#5c853a" stroke="#2b3626" stroke-width="0.45"/>
<path d="M219.6,393.1 Q232.2,369.3 250.1,348.9 Q233.9,370.4 222.1,394.7Z" fill="#6a9644" stroke="#2b3626" stroke-width="0.45"/>
<path d="M183.6,391.7 Q173.7,371.3 167.3,349.6 Q175.9,370.4 186.6,390.4Z" fill="#7aa64e" stroke="#2b3626" stroke-width="0.45"/>
<path d="M240.4,402.9 Q248.6,392.3 262.4,389.5 Q250.0,394.2 242.4,405.7Z" fill="#5c853a" stroke="#2b3626" stroke-width="0.45"/>
<path d="M244.3,400.6 Q250.5,395.6 257.5,391.7 Q251.8,397.2 246.2,402.9Z" fill="#9fc870" stroke="#2b3626" stroke-width="0.45"/>
<path d="M174.8,397.7 Q164.2,387.6 157.1,374.5 Q166.9,385.2 178.6,394.2Z" fill="#7aa64e" stroke="#2b3626" stroke-width="0.45"/>
<path d="M255.4,406.2 Q258.1,405.1 261.3,405.0 Q259.1,407.1 256.8,409.1Z" fill="#6a9644" stroke="#2b3626" stroke-width="0.45"/>
<path d="M173.4,392.2 Q162.1,379.4 149.9,367.4 Q163.3,378.2 175.2,390.5Z" fill="#5c853a" stroke="#2b3626" stroke-width="0.45"/>
<path d="M147.6,395.8 Q145.6,391.1 141.4,390.1 Q146.9,388.8 149.5,392.6Z" fill="#5c853a" stroke="#2b3626" stroke-width="0.45"/>
<path d="M231.6,395.9 Q238.1,383.7 250.7,376.6 Q240.3,385.5 234.6,398.5Z" fill="#5c853a" stroke="#2b3626" stroke-width="0.45"/>
<path d="M228.1,394.6 Q240.5,379.1 247.7,361.0 Q242.8,380.3 231.3,396.2Z" fill="#7aa64e" stroke="#2b3626" stroke-width="0.45"/>
<path d="M239.0,398.8 Q247.8,389.9 260.2,386.2 Q249.5,392.3 241.4,402.2Z" fill="#7aa64e" stroke="#2b3626" stroke-width="0.45"/>
<path d="M149.7,393.5 Q143.5,393.6 143.3,386.2 Q145.0,391.7 151.9,390.8Z" fill="#7aa64e" stroke="#2b3626" stroke-width="0.45"/>
<path d="M215.2,391.2 Q223.4,376.5 227.7,360.6 Q226.4,377.5 219.6,392.6Z" fill="#8ab85c" stroke="#2b3626" stroke-width="0.45"/>
<path d="M220.2,396.3 Q228.1,379.8 240.3,366.0 Q229.4,380.6 222.1,397.5Z" fill="#6a9644" stroke="#2b3626" stroke-width="0.45"/>
<path d="M171.5,392.9 Q163.4,377.3 149.5,367.0 Q164.5,376.3 173.1,391.3Z" fill="#b0d483" stroke="#2b3626" stroke-width="0.45"/>
<path d="M232.5,397.0 Q238.7,387.6 248.8,381.9 Q239.9,388.8 234.3,398.8Z" fill="#b0d483" stroke="#2b3626" stroke-width="0.45"/>
<path d="M214.4,394.2 Q219.0,369.9 232.2,348.5 Q222.4,371.0 219.2,395.8Z" fill="#6a9644" stroke="#2b3626" stroke-width="0.45"/>
<path d="M221.5,395.4 Q228.6,375.4 243.1,359.4 Q230.8,376.5 224.6,397.1Z" fill="#6a9644" stroke="#2b3626" stroke-width="0.45"/>
<path d="M180.6,396.1 Q171.5,382.5 162.7,368.6 Q172.8,381.6 182.5,394.8Z" fill="#94c065" stroke="#2b3626" stroke-width="0.45"/>
<path d="M258.9,407.3 Q261.0,402.4 266.2,405.6 Q261.5,403.9 259.7,409.4Z" fill="#b0d483" stroke="#2b3626" stroke-width="0.45"/>
<path d="M253.6,406.0 Q258.9,406.7 263.0,404.5 Q260.3,409.8 255.6,410.4Z" fill="#6a9644" stroke="#2b3626" stroke-width="0.45"/>
<path d="M200.3,391.0 Q200.5,369.8 198.1,348.9 Q204.0,369.4 205.3,390.5Z" fill="#5c853a" stroke="#2b3626" stroke-width="0.45"/>
<path d="M178.6,396.6 Q165.2,386.7 160.3,369.9 Q167.8,384.6 182.3,393.7Z" fill="#82ad55" stroke="#2b3626" stroke-width="0.45"/>
<path d="M240.4,401.7 Q249.3,394.5 261.0,391.7 Q251.1,397.4 243.0,405.8Z" fill="#82ad55" stroke="#2b3626" stroke-width="0.45"/>
<path d="M151.9,395.6 Q150.3,390.2 146.3,388.0 Q152.5,387.5 155.0,391.7Z" fill="#7aa64e" stroke="#2b3626" stroke-width="0.45"/>
<path d="M177.0,396.4 Q170.0,377.7 155.7,364.0 Q171.4,376.7 179.0,395.0Z" fill="#5c853a" stroke="#2b3626" stroke-width="0.45"/>
<path d="M201.8,395.1 Q202.4,358.2 197.8,321.9 Q205.8,358.0 206.7,394.6Z" fill="#5c853a" stroke="#2b3626" stroke-width="0.45"/>
<path d="M249.5,400.9 Q257.5,399.0 263.2,393.5 Q258.3,400.2 250.7,402.7Z" fill="#94c065" stroke="#2b3626" stroke-width="0.45"/>
<path d="M213.9,393.6 Q225.5,373.8 237.0,354.0 Q228.5,375.4 218.3,395.8Z" fill="#9fc870" stroke="#2b3626" stroke-width="0.45"/>
<path d="M197.3,394.6 Q188.4,365.7 185.1,335.4 Q191.9,364.8 202.3,393.3Z" fill="#6a9644" stroke="#2b3626" stroke-width="0.45"/>
<path d="M179.3,393.4 Q168.8,383.4 163.5,369.7 Q170.3,382.4 181.3,391.9Z" fill="#94c065" stroke="#2b3626" stroke-width="0.45"/>
<path d="M207.1,390.2 Q208.6,359.0 209.8,327.7 Q210.9,359.0 210.4,390.3Z" fill="#6a9644" stroke="#2b3626" stroke-width="0.45"/>
<path d="M155.6,395.1 Q151.3,391.1 146.6,387.8 Q152.4,389.5 157.1,392.8Z" fill="#7aa64e" stroke="#2b3626" stroke-width="0.45"/>
<path d="M230.2,397.5 Q239.8,383.2 252.5,371.4 Q241.6,384.6 232.7,399.4Z" fill="#7aa64e" stroke="#2b3626" stroke-width="0.45"/>
<path d="M201.0,392.8 Q200.4,362.2 194.9,332.2 Q203.0,361.8 204.6,392.3Z" fill="#6a9644" stroke="#2b3626" stroke-width="0.45"/>
<path d="M155.5,392.0 Q148.2,388.2 143.5,380.8 Q149.6,386.3 157.6,389.3Z" fill="#7aa64e" stroke="#2b3626" stroke-width="0.45"/>
<path d="M158.8,395.3 Q150.9,387.3 143.9,378.4 Q153.3,384.7 162.2,391.6Z" fill="#8ab85c" stroke="#2b3626" stroke-width="0.45"/>
<path d="M188.1,391.0 Q180.2,363.1 178.3,334.0 Q183.7,362.4 193.1,389.9Z" fill="#8ab85c" stroke="#2b3626" stroke-width="0.45"/>
<path d="M169.6,396.4 Q165.1,385.4 158.0,376.2 Q167.7,383.5 173.4,393.7Z" fill="#94c065" stroke="#2b3626" stroke-width="0.45"/>
<path d="M154.7,392.9 Q148.1,393.5 146.8,385.7 Q149.5,391.3 156.7,389.7Z" fill="#b0d483" stroke="#2b3626" stroke-width="0.45"/>
<path d="M254.7,403.7 Q256.8,398.8 262.9,401.9 Q258.2,401.6 256.7,407.6Z" fill="#b0d483" stroke="#2b3626" stroke-width="0.45"/>
<path d="M203.8,392.6 Q198.7,369.5 204.2,346.1 Q201.5,369.4 207.7,392.4Z" fill="#b0d483" stroke="#2b3626" stroke-width="0.45"/>
<path d="M259.0,407.8 Q262.5,407.0 266.0,406.1 Q263.3,408.7 260.2,410.3Z" fill="#6a9644" stroke="#2b3626" stroke-width="0.45"/>
<path d="M148.6,394.6 Q148.4,389.4 144.3,390.1 Q149.5,387.9 150.1,392.4Z" fill="#5c853a" stroke="#2b3626" stroke-width="0.45"/>
<path d="M154.2,396.1 Q150.7,390.7 145.4,387.9 Q152.1,388.6 156.3,393.2Z" fill="#5c853a" stroke="#2b3626" stroke-width="0.45"/>
<path d="M185.4,395.0 Q172.0,383.2 166.2,365.5 Q174.6,381.2 189.2,392.2Z" fill="#94c065" stroke="#2b3626" stroke-width="0.45"/>
<path d="M256.0,406.6 Q260.2,408.1 262.5,405.3 Q261.0,409.8 257.1,409.1Z" fill="#b0d483" stroke="#2b3626" stroke-width="0.45"/>
<path d="M157.3,393.6 Q152.1,383.4 142.2,378.9 Q153.7,381.4 159.6,390.9Z" fill="#7aa64e" stroke="#2b3626" stroke-width="0.45"/>
<path d="M253.0,405.7 Q255.2,401.4 261.3,404.3 Q256.9,404.5 255.3,410.2Z" fill="#7aa64e" stroke="#2b3626" stroke-width="0.45"/>
<path d="M225.7,397.4 Q234.9,377.1 251.0,361.3 Q236.6,378.2 228.2,399.0Z" fill="#8ab85c" stroke="#2b3626" stroke-width="0.45"/>
<path d="M251.0,404.3 Q255.2,397.0 264.8,398.3 Q256.8,399.6 253.4,408.1Z" fill="#5c853a" stroke="#2b3626" stroke-width="0.45"/>
<path d="M240.9,397.7 Q244.8,389.1 254.5,387.0 Q245.8,390.3 242.4,399.4Z" fill="#5c853a" stroke="#2b3626" stroke-width="0.45"/>
<path d="M254.3,406.9 Q259.2,408.9 261.8,405.5 Q260.0,410.9 255.5,409.8Z" fill="#5c853a" stroke="#2b3626" stroke-width="0.45"/>
<path d="M155.0,393.2 Q148.5,390.3 144.4,383.9 Q149.9,388.3 157.0,390.4Z" fill="#94c065" stroke="#2b3626" stroke-width="0.45"/>
<path d="M148.8,394.4 Q142.0,394.8 140.8,387.4 Q142.9,393.6 150.1,392.7Z" fill="#8ab85c" stroke="#2b3626" stroke-width="0.45"/>
<path d="M236.1,401.3 Q242.6,393.4 251.6,387.8 Q244.6,395.2 239.0,404.0Z" fill="#82ad55" stroke="#2b3626" stroke-width="0.45"/>
<path d="M254.4,404.2 Q258.0,400.1 264.1,400.3 Q259.0,401.9 255.9,406.8Z" fill="#7aa64e" stroke="#2b3626" stroke-width="0.45"/>
<path d="M227.4,395.5 Q244.4,381.2 256.9,362.9 Q245.6,382.2 229.1,396.9Z" fill="#8ab85c" stroke="#2b3626" stroke-width="0.45"/>
<path d="M198.8,390.1 Q200.8,365.1 204.8,340.3 Q202.8,365.3 201.6,390.4Z" fill="#94c065" stroke="#2b3626" stroke-width="0.45"/>
<path d="M160.3,394.2 Q152.1,385.8 142.1,380.0 Q153.3,384.1 162.0,391.8Z" fill="#9fc870" stroke="#2b3626" stroke-width="0.45"/>
<path d="M213.0,392.8 Q214.0,368.8 224.2,346.5 Q217.1,369.4 217.4,393.7Z" fill="#6a9644" stroke="#2b3626" stroke-width="0.45"/>
<path d="M189.0,395.8 Q179.3,372.5 169.4,349.3 Q181.6,371.5 192.3,394.3Z" fill="#9fc870" stroke="#2b3626" stroke-width="0.45"/>
<path d="M257.3,403.8 Q258.6,399.2 263.4,402.4 Q259.2,400.6 258.2,405.9Z" fill="#94c065" stroke="#2b3626" stroke-width="0.45"/>
<path d="M257.8,403.1 Q262.2,405.7 263.1,402.1 Q263.4,407.8 259.5,406.1Z" fill="#6a9644" stroke="#2b3626" stroke-width="0.45"/>
<path d="M229.5,394.2 Q236.4,384.1 247.2,377.3 Q238.9,386.2 233.0,397.3Z" fill="#b0d483" stroke="#2b3626" stroke-width="0.45"/>
<path d="M187.3,392.3 Q175.6,378.5 170.4,360.9 Q177.3,377.5 189.7,390.9Z" fill="#6a9644" stroke="#2b3626" stroke-width="0.45"/>
<path d="M181.9,394.1 Q177.9,372.3 168.5,352.4 Q179.7,371.7 184.5,393.2Z" fill="#94c065" stroke="#2b3626" stroke-width="0.45"/>
<path d="M258.0,407.8 Q263.2,410.8 265.4,407.1 Q264.5,413.8 259.9,412.1Z" fill="#7aa64e" stroke="#2b3626" stroke-width="0.45"/>
<path d="M244.5,402.8 Q250.4,394.8 260.8,392.2 Q252.5,397.3 247.5,406.4Z" fill="#8ab85c" stroke="#2b3626" stroke-width="0.45"/>
<path d="M186.4,391.7 Q183.4,373.0 173.1,357.6 Q186.2,371.7 190.5,389.9Z" fill="#8ab85c" stroke="#2b3626" stroke-width="0.45"/>
<path d="M217.2,391.7 Q218.1,374.3 228.3,359.6 Q220.2,374.9 220.2,392.6Z" fill="#b0d483" stroke="#2b3626" stroke-width="0.45"/>
<path d="M148.9,393.4 Q144.2,390.0 141.2,384.4 Q146.2,387.4 151.8,389.8Z" fill="#82ad55" stroke="#2b3626" stroke-width="0.45"/>
<path d="M165.9,395.6 Q152.8,389.8 145.7,376.7 Q154.5,387.8 168.3,392.7Z" fill="#8ab85c" stroke="#2b3626" stroke-width="0.45"/>
<path d="M235.1,397.5 Q244.1,385.6 255.4,375.4 Q246.4,387.4 238.3,400.0Z" fill="#b0d483" stroke="#2b3626" stroke-width="0.45"/>
<path d="M191.3,394.9 Q180.1,367.2 168.1,339.7 Q182.0,366.3 194.1,393.7Z" fill="#82ad55" stroke="#2b3626" stroke-width="0.45"/>
<path d="M191.2,396.3 Q184.6,366.2 181.0,335.4 Q187.4,365.6 195.2,395.5Z" fill="#5c853a" stroke="#2b3626" stroke-width="0.45"/>
<path d="M167.4,397.4 Q158.9,387.6 152.5,376.0 Q161.4,385.6 171.0,394.5Z" fill="#82ad55" stroke="#2b3626" stroke-width="0.45"/>
<path d="M196.7,395.8 Q190.5,370.3 177.5,347.9 Q193.1,369.2 200.4,394.2Z" fill="#8ab85c" stroke="#2b3626" stroke-width="0.45"/>
<path d="M209.8,387.9 Q212.0,368.3 221.4,350.7 Q214.1,368.9 212.8,388.7Z" fill="#9fc870" stroke="#2b3626" stroke-width="0.45"/>
<path d="M250.3,405.0 Q255.3,399.7 263.7,400.6 Q257.0,402.9 252.7,409.5Z" fill="#9fc870" stroke="#2b3626" stroke-width="0.45"/>
<path d="M240.4,402.5 Q249.0,399.4 256.6,394.7 Q250.5,401.7 242.5,405.8Z" fill="#8ab85c" stroke="#2b3626" stroke-width="0.45"/>
<path d="M248.0,401.4 Q251.6,396.9 258.5,398.1 Q253.2,399.7 250.2,405.3Z" fill="#5c853a" stroke="#2b3626" stroke-width="0.45"/>
<path d="M215.1,394.0 Q227.1,370.5 231.1,344.5 Q228.5,370.9 217.1,394.7Z" fill="#9fc870" stroke="#2b3626" stroke-width="0.45"/>
<path d="M187.6,396.5 Q171.7,376.6 164.5,351.7 Q174.6,374.9 191.8,394.0Z" fill="#7aa64e" stroke="#2b3626" stroke-width="0.45"/>
<path d="M220.0,394.7 Q232.0,376.2 239.8,355.8 Q235.0,377.6 224.3,396.7Z" fill="#5c853a" stroke="#2b3626" stroke-width="0.45"/>
<path d="M179.7,395.6 Q167.4,383.5 160.9,367.2 Q169.4,382.0 182.6,393.4Z" fill="#7aa64e" stroke="#2b3626" stroke-width="0.45"/>
<path d="M214.3,392.4 Q220.0,363.0 227.3,334.1 Q223.1,363.6 218.8,393.2Z" fill="#9fc870" stroke="#2b3626" stroke-width="0.45"/>
<path d="M237.2,399.9 Q248.1,392.4 254.9,381.5 Q249.8,393.9 239.6,402.0Z" fill="#7aa64e" stroke="#2b3626" stroke-width="0.45"/>
<path d="M149.4,396.9 Q143.8,397.2 143.7,390.1 Q145.6,394.8 151.9,393.5Z" fill="#5c853a" stroke="#2b3626" stroke-width="0.45"/>
<path d="M218.5,392.0 Q224.2,374.6 226.9,356.7 Q226.9,375.1 222.4,392.7Z" fill="#8ab85c" stroke="#2b3626" stroke-width="0.45"/>
<path d="M166.3,391.8 Q153.7,382.6 146.7,368.0 Q156.2,380.2 169.9,388.4Z" fill="#6a9644" stroke="#2b3626" stroke-width="0.45"/>
<path d="M152.0,395.8 Q147.2,394.1 145.7,388.0 Q149.3,391.4 154.9,392.0Z" fill="#94c065" stroke="#2b3626" stroke-width="0.45"/>
<path d="M161.3,394.0 Q155.8,387.5 150.5,380.7 Q157.2,386.1 163.4,392.0Z" fill="#82ad55" stroke="#2b3626" stroke-width="0.45"/>
<path d="M187.2,395.5 Q174.8,374.9 166.1,352.4 Q176.6,373.9 189.7,394.1Z" fill="#5c853a" stroke="#2b3626" stroke-width="0.45"/>
<path d="M164.0,392.9 Q154.9,386.7 148.2,377.6 Q156.7,384.5 166.5,389.7Z" fill="#94c065" stroke="#2b3626" stroke-width="0.45"/>
<path d="M206.8,388.9 Q214.1,371.4 219.9,353.3 Q217.6,372.4 211.8,390.4Z" fill="#5c853a" stroke="#2b3626" stroke-width="0.45"/>
<path d="M229.1,397.5 Q237.6,383.3 249.2,371.4 Q239.0,384.3 231.1,398.9Z" fill="#8ab85c" stroke="#2b3626" stroke-width="0.45"/>
<path d="M194.1,395.2 Q190.1,375.8 191.8,355.8 Q193.3,375.5 198.7,394.7Z" fill="#82ad55" stroke="#2b3626" stroke-width="0.45"/>
<path d="M227.8,394.8 Q235.8,380.4 245.9,367.2 Q238.2,381.8 231.3,396.8Z" fill="#82ad55" stroke="#2b3626" stroke-width="0.45"/>
<path d="M247.5,405.1 Q251.9,396.4 262.2,396.3 Q252.7,397.6 248.7,406.8Z" fill="#82ad55" stroke="#2b3626" stroke-width="0.45"/>
<path d="M179.4,393.7 Q167.1,380.8 161.4,363.5 Q168.8,379.6 181.9,392.0Z" fill="#82ad55" stroke="#2b3626" stroke-width="0.45"/>
<path d="M215.8,392.8 Q217.6,359.8 226.9,327.8 Q219.5,360.0 218.5,393.3Z" fill="#8ab85c" stroke="#2b3626" stroke-width="0.45"/>
<path d="M151.9,397.0 Q150.9,389.7 145.1,389.3 Q152.8,387.1 154.6,393.3Z" fill="#7aa64e" stroke="#2b3626" stroke-width="0.45"/>
<path d="M217.9,392.8 Q230.6,369.8 235.6,344.2 Q232.9,370.5 221.1,393.9Z" fill="#94c065" stroke="#2b3626" stroke-width="0.45"/>
<path d="M173.2,391.8 Q161.2,383.1 153.4,370.3 Q162.9,381.5 175.5,389.4Z" fill="#7aa64e" stroke="#2b3626" stroke-width="0.45"/>
<path d="M249.3,405.6 Q255.3,401.8 262.5,399.9 Q256.2,403.4 250.6,407.9Z" fill="#5c853a" stroke="#2b3626" stroke-width="0.45"/>
<path d="M238.0,401.6 Q249.1,396.8 255.2,386.6 Q250.2,397.9 239.5,403.2Z" fill="#94c065" stroke="#2b3626" stroke-width="0.45"/>
<path d="M226.3,398.3 Q242.2,385.5 255.0,369.9 Q244.0,387.2 228.8,400.7Z" fill="#94c065" stroke="#2b3626" stroke-width="0.45"/>
<path d="M165.2,390.9 Q159.0,379.7 148.0,374.1 Q160.1,378.5 166.8,389.1Z" fill="#b0d483" stroke="#2b3626" stroke-width="0.45"/>
<path d="M225.3,396.5 Q236.5,382.3 248.1,368.3 Q239.1,384.1 229.0,399.1Z" fill="#b0d483" stroke="#2b3626" stroke-width="0.45"/>
<path d="M178.1,391.2 Q169.5,379.5 167.5,364.6 Q171.8,378.4 181.3,389.7Z" fill="#6a9644" stroke="#2b3626" stroke-width="0.45"/>
<path d="M241.1,402.4 Q251.1,392.2 263.0,384.0 Q252.3,393.6 242.8,404.3Z" fill="#6a9644" stroke="#2b3626" stroke-width="0.45"/>
<path d="M187.0,391.4 Q181.7,361.1 176.6,330.7 Q184.9,360.4 191.6,390.4Z" fill="#94c065" stroke="#2b3626" stroke-width="0.45"/>
<path d="M240.5,398.6 Q249.4,393.9 258.1,388.8 Q251.2,396.4 243.0,402.1Z" fill="#b0d483" stroke="#2b3626" stroke-width="0.45"/>
<path d="M235.1,399.2 Q242.7,386.1 257.1,380.2 Q244.0,387.4 236.8,401.1Z" fill="#8ab85c" stroke="#2b3626" stroke-width="0.45"/>
<path d="M157.5,391.3 Q149.9,390.8 148.1,382.7 Q150.8,389.6 158.8,389.6Z" fill="#7aa64e" stroke="#2b3626" stroke-width="0.45"/>
<path d="M224.0,393.9 Q235.2,373.1 241.1,350.4 Q237.3,373.8 226.9,394.9Z" fill="#8ab85c" stroke="#2b3626" stroke-width="0.45"/>
<path d="M245.5,400.4 Q250.4,394.1 258.9,393.3 Q251.5,395.8 247.1,402.7Z" fill="#7aa64e" stroke="#2b3626" stroke-width="0.45"/>
<path d="M148.5,392.8 Q145.5,388.0 141.5,384.5 Q147.5,385.4 151.3,389.1Z" fill="#b0d483" stroke="#2b3626" stroke-width="0.45"/>
<path d="M198.9,395.2 Q198.4,364.0 201.8,332.9 Q200.5,364.0 201.9,395.2Z" fill="#b0d483" stroke="#2b3626" stroke-width="0.45"/>
<path d="M147.6,395.8 Q143.4,394.9 141.4,390.4 Q144.5,393.0 149.2,393.1Z" fill="#94c065" stroke="#2b3626" stroke-width="0.45"/>
<path d="M241.8,400.1 Q251.7,394.7 258.2,385.9 Q253.4,396.3 244.3,402.5Z" fill="#82ad55" stroke="#2b3626" stroke-width="0.45"/>
<path d="M197.2,396.0 Q194.7,364.8 191.6,333.7 Q197.9,364.4 201.8,395.4Z" fill="#b0d483" stroke="#2b3626" stroke-width="0.45"/>
<path d="M163.9,398.0 Q151.1,393.7 144.9,380.6 Q153.3,390.8 167.0,393.9Z" fill="#94c065" stroke="#2b3626" stroke-width="0.45"/>
<path d="M155.6,393.3 Q151.5,382.8 141.8,378.6 Q153.3,380.7 158.2,390.4Z" fill="#b0d483" stroke="#2b3626" stroke-width="0.45"/>
<path d="M210.6,392.7 Q218.4,361.7 233.0,333.2 Q220.2,362.3 213.2,393.6Z" fill="#8ab85c" stroke="#2b3626" stroke-width="0.45"/>
<path d="M200.4,390.1 Q195.7,369.9 199.8,349.3 Q197.9,369.8 203.4,390.0Z" fill="#5c853a" stroke="#2b3626" stroke-width="0.45"/>
<path d="M246.7,400.8 Q252.8,394.7 261.6,392.3 Q254.1,396.5 248.6,403.4Z" fill="#5c853a" stroke="#2b3626" stroke-width="0.45"/>
<path d="M248.0,402.8 Q255.7,397.7 264.1,393.7 Q256.7,399.3 249.5,405.1Z" fill="#7aa64e" stroke="#2b3626" stroke-width="0.45"/>
<path d="M184.1,395.2 Q172.4,374.0 157.5,355.2 Q174.8,372.3 187.4,392.8Z" fill="#9fc870" stroke="#2b3626" stroke-width="0.45"/>
<path d="M197.3,392.3 Q193.3,371.4 187.1,351.2 Q195.3,370.8 200.3,391.4Z" fill="#6a9644" stroke="#2b3626" stroke-width="0.45"/>
<path d="M201.9,394.2 Q208.2,360.7 210.8,326.8 Q210.9,361.0 205.9,394.6Z" fill="#6a9644" stroke="#2b3626" stroke-width="0.45"/>
<path d="M226.3,394.9 Q233.1,380.6 245.0,369.3 Q236.1,382.4 230.6,397.6Z" fill="#8ab85c" stroke="#2b3626" stroke-width="0.45"/>
<path d="M164.0,393.0 Q156.6,389.2 152.0,381.8 Q157.7,387.8 165.5,391.1Z" fill="#b0d483" stroke="#2b3626" stroke-width="0.45"/>
<path d="M194.3,395.1 Q189.7,375.6 187.8,355.7 Q191.5,375.3 196.9,394.6Z" fill="#7aa64e" stroke="#2b3626" stroke-width="0.45"/>
<path d="M146.0,393.0 Q142.9,392.5 142.5,387.7 Q144.8,389.5 148.8,388.7Z" fill="#7aa64e" stroke="#2b3626" stroke-width="0.45"/>
<path d="M160.6,394.3 Q152.0,387.1 144.9,378.2 Q154.2,384.5 163.7,390.5Z" fill="#5c853a" stroke="#2b3626" stroke-width="0.45"/>
<path d="M241.2,399.1 Q252.0,392.8 262.3,385.8 Q253.7,395.1 243.7,402.4Z" fill="#6a9644" stroke="#2b3626" stroke-width="0.45"/>
<path d="M221.7,393.4 Q227.0,375.1 240.2,360.8 Q229.5,376.4 225.3,395.2Z" fill="#5c853a" stroke="#2b3626" stroke-width="0.45"/>
<path d="M171.8,395.0 Q164.7,385.0 158.6,374.1 Q167.3,382.9 175.5,392.2Z" fill="#7aa64e" stroke="#2b3626" stroke-width="0.45"/>
<path d="M215.7,392.8 Q228.9,366.3 239.8,338.8 Q230.6,367.0 218.1,393.8Z" fill="#7aa64e" stroke="#2b3626" stroke-width="0.45"/>
<path d="M188.5,393.4 Q182.8,376.1 184.5,357.7 Q185.4,375.7 192.2,392.8Z" fill="#6a9644" stroke="#2b3626" stroke-width="0.45"/>
<path d="M203.0,395.3 Q205.1,366.0 207.9,336.8 Q208.2,366.2 207.3,395.5Z" fill="#82ad55" stroke="#2b3626" stroke-width="0.45"/>
<path d="M203.4,393.0 Q208.3,371.4 216.0,350.5 Q211.1,372.1 207.5,394.0Z" fill="#8ab85c" stroke="#2b3626" stroke-width="0.45"/>
<path d="M227.9,395.4 Q233.9,381.5 247.3,373.5 Q235.7,383.0 230.4,397.4Z" fill="#8ab85c" stroke="#2b3626" stroke-width="0.45"/>
<path d="M192.3,393.8 Q185.2,371.7 184.1,348.4 Q187.2,371.3 195.1,393.2Z" fill="#5c853a" stroke="#2b3626" stroke-width="0.45"/>
<path d="M252.3,404.0 Q256.6,398.5 264.3,398.4 Q257.8,400.4 254.0,406.7Z" fill="#9fc870" stroke="#2b3626" stroke-width="0.45"/>
<path d="M251.1,405.8 Q256.3,406.5 260.1,403.8 Q257.6,409.0 252.8,409.5Z" fill="#9fc870" stroke="#2b3626" stroke-width="0.45"/>
<path d="M184.6,392.7 Q174.5,368.3 168.8,342.3 Q176.8,367.5 187.9,391.6Z" fill="#9fc870" stroke="#2b3626" stroke-width="0.45"/>
<path d="M233.5,397.7 Q243.9,391.8 252.3,383.8 Q245.8,394.1 236.3,400.9Z" fill="#5c853a" stroke="#2b3626" stroke-width="0.45"/>
<path d="M222.1,394.3 Q237.2,376.2 250.2,356.7 Q239.0,377.5 224.7,396.1Z" fill="#82ad55" stroke="#2b3626" stroke-width="0.45"/>
<path d="M199.1,393.5 Q202.3,362.6 197.6,332.1 Q204.5,362.5 202.2,393.3Z" fill="#5c853a" stroke="#2b3626" stroke-width="0.45"/>
<path d="M151.7,392.0 Q148.8,384.7 142.0,382.2 Q149.9,383.4 153.3,390.1Z" fill="#7aa64e" stroke="#2b3626" stroke-width="0.45"/>
<path d="M219.0,395.5 Q225.4,374.6 231.0,353.5 Q228.1,375.2 222.9,396.4Z" fill="#6a9644" stroke="#2b3626" stroke-width="0.45"/>
<path d="M165.9,394.4 Q159.8,386.3 153.6,378.3 Q161.5,384.8 168.4,392.2Z" fill="#8ab85c" stroke="#2b3626" stroke-width="0.45"/>
<path d="M221.1,391.6 Q235.8,372.1 247.7,350.8 Q237.4,373.0 223.3,393.0Z" fill="#8ab85c" stroke="#2b3626" stroke-width="0.45"/>
<path d="M229.6,397.0 Q239.7,383.8 254.0,374.8 Q241.1,385.2 231.6,399.0Z" fill="#9fc870" stroke="#2b3626" stroke-width="0.45"/>
<path d="M197.9,393.0 Q191.1,360.3 190.3,326.8 Q194.1,359.9 202.0,392.3Z" fill="#9fc870" stroke="#2b3626" stroke-width="0.45"/>
<path d="M205.8,387.6 Q201.9,356.4 197.4,325.3 Q204.3,356.0 209.2,387.1Z" fill="#b0d483" stroke="#2b3626" stroke-width="0.45"/>
<path d="M241.1,401.4 Q252.8,394.0 263.1,384.8 Q253.8,395.2 242.5,403.2Z" fill="#7aa64e" stroke="#2b3626" stroke-width="0.45"/>
<path d="M147.1,397.6 Q141.0,397.7 139.8,390.2 Q142.7,395.0 149.6,393.8Z" fill="#94c065" stroke="#2b3626" stroke-width="0.45"/>
<path d="M199.4,391.2 Q189.6,364.6 183.7,336.6 Q192.3,363.7 203.2,390.0Z" fill="#82ad55" stroke="#2b3626" stroke-width="0.45"/>
<path d="M183.6,392.0 Q170.9,369.6 161.6,345.6 Q172.7,368.7 186.2,390.7Z" fill="#b0d483" stroke="#2b3626" stroke-width="0.45"/>
<path d="M207.5,388.1 Q208.3,356.5 209.7,324.9 Q210.6,356.5 210.8,388.2Z" fill="#b0d483" stroke="#2b3626" stroke-width="0.45"/>
<path d="M244.8,402.8 Q250.2,395.1 259.7,392.5 Q251.2,396.4 246.3,404.7Z" fill="#b0d483" stroke="#2b3626" stroke-width="0.45"/>
<path d="M159.6,391.5 Q151.0,383.9 142.1,376.6 Q152.3,382.0 161.5,388.8Z" fill="#5c853a" stroke="#2b3626" stroke-width="0.45"/>
<path d="M206.9,392.5 Q211.2,373.2 207.6,354.0 Q213.0,373.2 209.5,392.4Z" fill="#7aa64e" stroke="#2b3626" stroke-width="0.45"/>
<path d="M234.5,395.6 Q246.9,386.8 257.1,375.8 Q248.9,388.8 237.4,398.4Z" fill="#8ab85c" stroke="#2b3626" stroke-width="0.45"/>
<path d="M169.4,392.8 Q156.9,383.9 149.3,370.2 Q158.0,382.8 171.1,391.2Z" fill="#7aa64e" stroke="#2b3626" stroke-width="0.45"/>
<path d="M191.7,395.6 Q187.1,376.8 190.7,357.3 Q190.5,376.5 196.4,395.2Z" fill="#b0d483" stroke="#2b3626" stroke-width="0.45"/>
<path d="M208.6,391.8 Q209.3,365.8 212.1,339.9 Q211.4,365.9 211.6,391.9Z" fill="#7aa64e" stroke="#2b3626" stroke-width="0.45"/>
<path d="M201.1,392.7 Q206.9,360.5 209.4,327.9 Q209.2,360.7 204.4,393.0Z" fill="#5c853a" stroke="#2b3626" stroke-width="0.45"/>
<path d="M240.1,402.5 Q254.8,397.8 264.2,386.3 Q256.9,400.4 243.0,406.2Z" fill="#94c065" stroke="#2b3626" stroke-width="0.45"/>
<path d="M252.3,403.4 Q259.3,401.2 265.5,397.5 Q261.0,403.8 254.7,407.2Z" fill="#5c853a" stroke="#2b3626" stroke-width="0.45"/>
<path d="M224.1,394.2 Q239.6,364.6 248.6,332.6 Q241.1,365.2 226.2,395.0Z" fill="#9fc870" stroke="#2b3626" stroke-width="0.45"/>
<path d="M241.3,401.5 Q254.6,397.7 263.4,387.8 Q256.3,400.0 243.7,404.8Z" fill="#82ad55" stroke="#2b3626" stroke-width="0.45"/>
<path d="M253.1,403.4 Q260.4,401.6 266.8,397.9 Q261.1,403.0 254.1,405.4Z" fill="#94c065" stroke="#2b3626" stroke-width="0.45"/>
<path d="M240.6,397.6 Q250.4,382.1 267.6,374.2 Q252.4,384.1 243.4,400.5Z" fill="#7aa64e" stroke="#2b3626" stroke-width="0.45"/>
<path d="M257.1,404.7 Q261.7,404.0 265.8,402.1 Q262.6,405.8 258.3,407.3Z" fill="#94c065" stroke="#2b3626" stroke-width="0.45"/>
<path d="M246.7,403.2 Q254.7,395.7 266.2,394.7 Q255.8,397.7 248.3,406.1Z" fill="#8ab85c" stroke="#2b3626" stroke-width="0.45"/>
<path d="M237.4,398.3 Q251.8,390.3 262.7,378.4 Q253.2,391.9 239.5,400.6Z" fill="#b0d483" stroke="#2b3626" stroke-width="0.45"/>
<path d="M252.8,403.4 Q259.2,402.8 263.9,399.6 Q260.9,405.7 255.2,407.4Z" fill="#82ad55" stroke="#2b3626" stroke-width="0.45"/>
<path d="M256.0,403.7 Q260.6,402.6 264.8,400.9 Q262.2,405.2 258.3,407.4Z" fill="#6a9644" stroke="#2b3626" stroke-width="0.45"/>
<path d="M237.5,397.8 Q250.4,384.6 266.7,375.2 Q252.4,386.8 240.3,401.0Z" fill="#7aa64e" stroke="#2b3626" stroke-width="0.45"/>
<path d="M235.3,399.9 Q252.2,385.4 265.5,367.8 Q254.4,387.3 238.5,402.6Z" fill="#b0d483" stroke="#2b3626" stroke-width="0.45"/>
<path d="M255.2,403.3 Q262.0,404.4 266.1,399.7 Q262.9,406.2 256.4,405.8Z" fill="#94c065" stroke="#2b3626" stroke-width="0.45"/>
<path d="M237.0,401.7 Q252.8,392.0 265.7,378.9 Q254.0,393.4 238.7,403.6Z" fill="#6a9644" stroke="#2b3626" stroke-width="0.45"/>
<path d="M234.8,400.7 Q250.3,387.7 265.1,374.2 Q252.5,390.0 238.1,404.0Z" fill="#7aa64e" stroke="#2b3626" stroke-width="0.45"/>
<path d="M253.2,404.4 Q258.5,398.6 267.1,398.2 Q260.0,401.1 255.4,407.9Z" fill="#b0d483" stroke="#2b3626" stroke-width="0.45"/>
<path d="M257.2,405.8 Q260.4,401.3 266.4,402.8 Q261.1,402.9 258.3,408.1Z" fill="#9fc870" stroke="#2b3626" stroke-width="0.45"/>
<path d="M253.9,405.5 Q260.8,406.7 265.0,402.4 Q262.1,409.4 255.7,409.2Z" fill="#6a9644" stroke="#2b3626" stroke-width="0.45"/>
<path d="M225.0,392.4 Q238.4,374.6 247.4,354.6 Q240.7,375.9 228.3,394.1Z" fill="#9fc870" stroke="#2b3626" stroke-width="0.45"/>
<path d="M235.9,401.8 Q247.4,386.0 263.6,374.5 Q248.6,387.1 237.5,403.3Z" fill="#94c065" stroke="#2b3626" stroke-width="0.45"/>
<path d="M246.2,404.0 Q254.3,399.3 263.2,396.0 Q255.1,400.7 247.3,406.0Z" fill="#9fc870" stroke="#2b3626" stroke-width="0.45"/>
<path d="M233.5,401.0 Q241.9,384.0 257.7,373.0 Q243.2,385.0 235.3,402.4Z" fill="#82ad55" stroke="#2b3626" stroke-width="0.45"/>
<path d="M256.8,406.2 Q262.2,405.3 267.1,403.1 Q262.8,406.7 257.6,408.2Z" fill="#5c853a" stroke="#2b3626" stroke-width="0.45"/>
<path d="M258.5,405.2 Q260.2,400.0 266.1,402.5 Q261.1,401.6 259.8,407.5Z" fill="#5c853a" stroke="#2b3626" stroke-width="0.45"/>
<path d="M230.1,394.7 Q239.6,376.9 255.1,363.4 Q241.9,378.6 233.4,397.1Z" fill="#b0d483" stroke="#2b3626" stroke-width="0.45"/>
<path d="M259.0,408.4 Q260.9,405.7 265.1,408.3 Q262.1,408.7 260.7,412.6Z" fill="#94c065" stroke="#2b3626" stroke-width="0.45"/>
<path d="M225.6,397.3 Q242.1,375.3 262.4,356.4 Q244.2,377.0 228.6,399.8Z" fill="#94c065" stroke="#2b3626" stroke-width="0.45"/>
<path d="M252.5,406.8 Q258.3,403.8 264.6,401.4 Q259.1,405.2 253.6,408.9Z" fill="#9fc870" stroke="#2b3626" stroke-width="0.45"/>
<path d="M240.4,398.2 Q255.7,393.0 266.6,381.6 Q257.0,394.9 242.3,400.9Z" fill="#7aa64e" stroke="#2b3626" stroke-width="0.45"/>
<path d="M229.5,395.0 Q244.1,373.6 254.8,350.3 Q246.0,374.6 232.2,396.4Z" fill="#94c065" stroke="#2b3626" stroke-width="0.45"/>
<path d="M260.0,404.5 Q264.7,407.8 265.5,403.0 Q265.4,409.2 260.9,406.5Z" fill="#82ad55" stroke="#2b3626" stroke-width="0.45"/>
<path d="M254.9,405.3 Q257.4,399.5 264.1,402.2 Q258.2,401.2 256.0,407.6Z" fill="#94c065" stroke="#2b3626" stroke-width="0.45"/>
<path d="M244.7,403.6 Q251.7,396.2 262.4,395.3 Q252.8,398.1 246.3,406.3Z" fill="#b0d483" stroke="#2b3626" stroke-width="0.45"/>
<path d="M245.5,403.3 Q253.9,398.3 262.9,394.4 Q254.7,399.7 246.7,405.3Z" fill="#94c065" stroke="#2b3626" stroke-width="0.45"/>
<path d="M227.5,393.5 Q237.6,365.6 253.7,340.5 Q240.1,366.7 231.0,395.1Z" fill="#94c065" stroke="#2b3626" stroke-width="0.45"/>
<path d="M255.3,407.3 Q260.4,403.0 267.7,403.6 Q261.3,405.0 256.5,410.2Z" fill="#6a9644" stroke="#2b3626" stroke-width="0.45"/>
<path d="M258.8,409.1 Q263.8,409.6 267.2,406.4 Q264.4,411.0 259.7,411.0Z" fill="#b0d483" stroke="#2b3626" stroke-width="0.45"/>
<path d="M229.0,395.7 Q242.5,377.0 257.4,359.5 Q244.4,378.5 231.7,397.7Z" fill="#b0d483" stroke="#2b3626" stroke-width="0.45"/>
<path d="M230.7,397.1 Q241.8,382.6 258.3,374.0 Q243.5,384.5 233.1,399.8Z" fill="#9fc870" stroke="#2b3626" stroke-width="0.45"/>
</g>
<clipPath id="slugc"><path d="M328.5,365.0 C328.2,363.6 330.6,357.9 332.0,356.0 C333.4,354.1 340.2,348.1 343.0,346.5 C345.8,344.9 356.3,340.6 360.0,339.5 C363.7,338.4 375.8,336.1 380.0,335.5 C384.2,334.9 397.9,333.3 402.0,333.2 C406.1,333.1 417.5,333.3 421.0,334.0 C424.5,334.7 433.9,338.1 437.0,340.0 C440.1,341.9 449.5,350.4 452.0,353.0 C454.5,355.6 460.3,364.1 462.0,366.0 C463.7,367.9 468.1,370.5 469.0,371.5 C469.9,372.5 471.1,374.9 471.0,376.0 C470.9,377.1 469.0,382.6 468.0,383.0 C467.0,383.4 463.3,380.5 461.0,380.0 C458.7,379.5 448.6,378.9 445.0,378.0 C441.4,377.1 428.4,372.1 425.0,371.0 C421.6,369.9 414.1,366.8 411.0,366.5 C407.9,366.2 397.4,367.9 394.0,368.0 C390.6,368.1 381.3,367.8 377.0,368.0 C372.7,368.2 355.2,370.3 351.0,370.5 C346.8,370.7 337.2,370.2 335.0,369.7 C332.8,369.1 328.8,366.4 328.5,365.0Z"/></clipPath>
<path d="M328.5,365.0 C328.2,363.6 330.6,357.9 332.0,356.0 C333.4,354.1 340.2,348.1 343.0,346.5 C345.8,344.9 356.3,340.6 360.0,339.5 C363.7,338.4 375.8,336.1 380.0,335.5 C384.2,334.9 397.9,333.3 402.0,333.2 C406.1,333.1 417.5,333.3 421.0,334.0 C424.5,334.7 433.9,338.1 437.0,340.0 C440.1,341.9 449.5,350.4 452.0,353.0 C454.5,355.6 460.3,364.1 462.0,366.0 C463.7,367.9 468.1,370.5 469.0,371.5 C469.9,372.5 471.1,374.9 471.0,376.0 C470.9,377.1 469.0,382.6 468.0,383.0 C467.0,383.4 463.3,380.5 461.0,380.0 C458.7,379.5 448.6,378.9 445.0,378.0 C441.4,377.1 428.4,372.1 425.0,371.0 C421.6,369.9 414.1,366.8 411.0,366.5 C407.9,366.2 397.4,367.9 394.0,368.0 C390.6,368.1 381.3,367.8 377.0,368.0 C372.7,368.2 355.2,370.3 351.0,370.5 C346.8,370.7 337.2,370.2 335.0,369.7 C332.8,369.1 328.8,366.4 328.5,365.0Z" fill="#765d50"/>
<g clip-path="url(#slugc)">
<path d="M326.0,368.0 C327.5,365.6 332.5,366.1 335.0,366.0 C337.5,365.9 346.8,367.1 351.0,367.0 C355.2,366.9 372.7,365.2 377.0,365.0 C381.3,364.8 390.6,365.1 394.0,365.0 C397.4,364.9 407.9,363.2 411.0,363.5 C414.1,363.8 421.6,366.9 425.0,368.0 C428.4,369.1 441.4,374.1 445.0,375.0 C448.6,375.9 458.3,376.5 461.0,377.0 C463.7,377.5 471.1,378.7 472.0,380.0 C472.9,381.3 485.2,389.0 470.0,390.0 C454.8,391.0 334.4,392.2 320.0,390.0 C305.6,387.8 324.5,370.4 326.0,368.0Z" fill="#a9552a"/>
<path d="M355.3,352.5 l5.8,-1.3" stroke="#54413a" stroke-width="0.6" opacity="0.9"/>
<path d="M391.3,364.9 l6.3,-1.4" stroke="#43322a" stroke-width="0.8" opacity="0.9"/>
<path d="M378.1,362.4 l6.4,-1.2" stroke="#43322a" stroke-width="0.5" opacity="0.9"/>
<path d="M346.9,365.5 l5.9,-2.5" stroke="#43322a" stroke-width="0.5" opacity="0.9"/>
<path d="M425.8,335.5 l7.9,-0.9" stroke="#8a7064" stroke-width="0.6" opacity="0.9"/>
<path d="M402.4,363.9 l7.6,-0.7" stroke="#8a7064" stroke-width="0.7" opacity="0.9"/>
<path d="M388.5,366.8 l4.7,-1.8" stroke="#43322a" stroke-width="0.5" opacity="0.9"/>
<path d="M353.3,366.8 l6.2,-1.2" stroke="#8a7064" stroke-width="0.6" opacity="0.9"/>
<path d="M413.7,353.5 l6.7,-1.7" stroke="#43322a" stroke-width="0.8" opacity="0.9"/>
<path d="M398.8,365.6 l8.3,-0.5" stroke="#54413a" stroke-width="0.7" opacity="0.9"/>
<path d="M400.5,345.1 l6.7,-1.4" stroke="#43322a" stroke-width="0.7" opacity="0.9"/>
<path d="M352.7,362.3 l6.9,-1.9" stroke="#43322a" stroke-width="0.6" opacity="0.9"/>
<path d="M394.6,350.4 l5.7,-2.4" stroke="#43322a" stroke-width="0.4" opacity="0.9"/>
<path d="M373.9,348.1 l4.6,-1.3" stroke="#43322a" stroke-width="0.6" opacity="0.9"/>
<path d="M389.5,352.7 l8.6,-1.9" stroke="#43322a" stroke-width="0.8" opacity="0.9"/>
<path d="M362.3,336.6 l7.0,-2.4" stroke="#43322a" stroke-width="0.8" opacity="0.9"/>
<path d="M360.6,343.0 l7.4,-0.5" stroke="#8a7064" stroke-width="0.5" opacity="0.9"/>
<path d="M425.9,364.5 l5.9,-1.6" stroke="#54413a" stroke-width="0.6" opacity="0.9"/>
<path d="M416.9,357.2 l4.5,-0.6" stroke="#54413a" stroke-width="0.5" opacity="0.9"/>
<path d="M394.2,358.3 l8.7,-1.6" stroke="#8a7064" stroke-width="0.6" opacity="0.9"/>
<path d="M385.7,334.4 l6.1,-1.3" stroke="#43322a" stroke-width="0.6" opacity="0.9"/>
<path d="M389.7,338.5 l7.2,-1.8" stroke="#8a7064" stroke-width="0.7" opacity="0.9"/>
<path d="M366.6,358.0 l7.7,-2.5" stroke="#43322a" stroke-width="0.8" opacity="0.9"/>
<path d="M334.1,346.6 l7.1,-1.9" stroke="#54413a" stroke-width="0.5" opacity="0.9"/>
<path d="M367.7,344.6 l5.8,-1.3" stroke="#8a7064" stroke-width="0.7" opacity="0.9"/>
<path d="M342.3,361.6 l8.9,-1.1" stroke="#43322a" stroke-width="0.5" opacity="0.9"/>
<path d="M353.8,361.3 l5.2,-2.1" stroke="#8a7064" stroke-width="0.7" opacity="0.9"/>
<path d="M341.5,354.4 l8.7,-1.2" stroke="#43322a" stroke-width="0.6" opacity="0.9"/>
<path d="M415.8,339.8 l5.7,-1.2" stroke="#54413a" stroke-width="0.6" opacity="0.9"/>
<path d="M354.1,338.1 l6.6,-2.1" stroke="#54413a" stroke-width="0.5" opacity="0.9"/>
<path d="M359.3,361.4 l7.2,-0.9" stroke="#8a7064" stroke-width="0.6" opacity="0.9"/>
<path d="M373.3,351.6 l8.2,-1.6" stroke="#54413a" stroke-width="0.6" opacity="0.9"/>
<path d="M373.1,347.9 l8.6,-2.2" stroke="#43322a" stroke-width="0.6" opacity="0.9"/>
<path d="M413.6,355.2 l6.6,-1.4" stroke="#54413a" stroke-width="0.5" opacity="0.9"/>
<path d="M405.1,362.4 l7.3,-1.5" stroke="#8a7064" stroke-width="0.6" opacity="0.9"/>
<path d="M419.2,363.3 l8.3,-0.6" stroke="#43322a" stroke-width="0.7" opacity="0.9"/>
<path d="M336.4,364.7 l7.5,-0.7" stroke="#8a7064" stroke-width="0.6" opacity="0.9"/>
<path d="M333.3,359.3 l4.9,-1.9" stroke="#54413a" stroke-width="0.4" opacity="0.9"/>
<path d="M384.6,335.8 l8.6,-2.3" stroke="#43322a" stroke-width="0.5" opacity="0.9"/>
<path d="M416.4,350.2 l7.9,-1.8" stroke="#43322a" stroke-width="0.4" opacity="0.9"/>
<path d="M419.0,338.1 l5.2,-2.0" stroke="#43322a" stroke-width="0.7" opacity="0.9"/>
<path d="M332.7,355.4 l8.3,-2.4" stroke="#8a7064" stroke-width="0.5" opacity="0.9"/>
<path d="M392.6,351.7 l4.3,-1.9" stroke="#43322a" stroke-width="0.7" opacity="0.9"/>
<path d="M408.0,335.6 l4.2,-1.5" stroke="#43322a" stroke-width="0.7" opacity="0.9"/>
<path d="M340.4,351.1 l5.6,-1.9" stroke="#8a7064" stroke-width="0.6" opacity="0.9"/>
<path d="M370.2,344.3 l5.3,-0.5" stroke="#8a7064" stroke-width="0.4" opacity="0.9"/>
<path d="M386.4,358.3 l5.9,-2.3" stroke="#43322a" stroke-width="0.4" opacity="0.9"/>
<path d="M377.2,356.1 l6.7,-1.2" stroke="#43322a" stroke-width="0.6" opacity="0.9"/>
<path d="M374.3,346.7 l6.5,-1.1" stroke="#8a7064" stroke-width="0.8" opacity="0.9"/>
<path d="M373.0,334.6 l5.1,-2.0" stroke="#54413a" stroke-width="0.4" opacity="0.9"/>
<path d="M373.6,348.5 l8.4,-0.6" stroke="#8a7064" stroke-width="0.8" opacity="0.9"/>
<path d="M386.8,363.6 l4.6,-1.1" stroke="#54413a" stroke-width="0.7" opacity="0.9"/>
<path d="M419.0,360.9 l7.3,-1.0" stroke="#54413a" stroke-width="0.6" opacity="0.9"/>
<path d="M411.5,358.4 l6.4,-2.0" stroke="#8a7064" stroke-width="0.4" opacity="0.9"/>
<path d="M341.0,337.4 l8.4,-2.1" stroke="#43322a" stroke-width="0.5" opacity="0.9"/>
<path d="M415.5,334.9 l4.6,-1.5" stroke="#54413a" stroke-width="0.8" opacity="0.9"/>
<path d="M388.7,361.2 l4.2,-1.0" stroke="#54413a" stroke-width="0.6" opacity="0.9"/>
<path d="M355.4,352.9 l4.5,-1.4" stroke="#54413a" stroke-width="0.5" opacity="0.9"/>
<path d="M387.3,362.2 l5.2,-2.1" stroke="#43322a" stroke-width="0.6" opacity="0.9"/>
<path d="M400.6,366.0 l5.3,-1.3" stroke="#8a7064" stroke-width="0.6" opacity="0.9"/>
<path d="M426.7,346.8 l5.2,-0.6" stroke="#54413a" stroke-width="0.8" opacity="0.9"/>
<path d="M372.7,353.3 l6.9,-0.7" stroke="#54413a" stroke-width="0.6" opacity="0.9"/>
<path d="M395.0,364.5 l4.7,-2.3" stroke="#54413a" stroke-width="0.6" opacity="0.9"/>
<path d="M400.5,366.3 l6.9,-0.8" stroke="#43322a" stroke-width="0.5" opacity="0.9"/>
<path d="M351.5,353.9 l5.6,-2.0" stroke="#54413a" stroke-width="0.6" opacity="0.9"/>
<path d="M408.4,356.8 l8.3,-1.3" stroke="#54413a" stroke-width="0.6" opacity="0.9"/>
<path d="M358.2,341.4 l4.1,-1.5" stroke="#8a7064" stroke-width="0.5" opacity="0.9"/>
<path d="M387.8,342.1 l6.4,-0.8" stroke="#8a7064" stroke-width="0.8" opacity="0.9"/>
<path d="M379.0,354.4 l6.3,-0.8" stroke="#54413a" stroke-width="0.6" opacity="0.9"/>
<path d="M379.2,358.5 l8.3,-1.7" stroke="#54413a" stroke-width="0.8" opacity="0.9"/>
<path d="M336.5,365.0 l8.5,-1.2" stroke="#54413a" stroke-width="0.4" opacity="0.9"/>
<path d="M353.3,342.6 l8.5,-0.9" stroke="#43322a" stroke-width="0.5" opacity="0.9"/>
<path d="M401.1,363.2 l8.5,-2.0" stroke="#43322a" stroke-width="0.5" opacity="0.9"/>
<path d="M373.5,358.8 l4.4,-2.3" stroke="#8a7064" stroke-width="0.4" opacity="0.9"/>
<path d="M376.3,359.0 l5.7,-2.4" stroke="#8a7064" stroke-width="0.6" opacity="0.9"/>
<path d="M379.6,341.1 l6.9,-0.6" stroke="#8a7064" stroke-width="0.5" opacity="0.9"/>
<path d="M363.2,364.0 l4.4,-1.6" stroke="#8a7064" stroke-width="0.8" opacity="0.9"/>
<path d="M421.1,337.3 l8.7,-1.8" stroke="#8a7064" stroke-width="0.7" opacity="0.9"/>
<path d="M361.0,357.0 l7.3,-0.9" stroke="#8a7064" stroke-width="0.4" opacity="0.9"/>
<path d="M424.6,345.5 l6.8,-1.4" stroke="#54413a" stroke-width="0.6" opacity="0.9"/>
<path d="M366.5,358.4 l7.4,-1.4" stroke="#43322a" stroke-width="0.7" opacity="0.9"/>
<path d="M403.6,339.1 l5.9,-0.7" stroke="#8a7064" stroke-width="0.4" opacity="0.9"/>
<path d="M423.3,338.8 l5.7,-1.1" stroke="#54413a" stroke-width="0.6" opacity="0.9"/>
<path d="M361.5,340.4 l6.4,-0.9" stroke="#54413a" stroke-width="0.4" opacity="0.9"/>
<path d="M402.2,359.7 l6.7,-1.0" stroke="#8a7064" stroke-width="0.4" opacity="0.9"/>
<path d="M358.5,335.8 l4.7,-1.5" stroke="#8a7064" stroke-width="0.5" opacity="0.9"/>
<path d="M407.4,346.0 l5.7,-1.7" stroke="#54413a" stroke-width="0.7" opacity="0.9"/>
<path d="M338.8,350.9 l9.0,-2.2" stroke="#54413a" stroke-width="0.4" opacity="0.9"/>
<path d="M343.0,360.5 l7.6,-2.1" stroke="#43322a" stroke-width="0.6" opacity="0.9"/>
<path d="M397.7,347.3 l8.9,-2.2" stroke="#54413a" stroke-width="0.5" opacity="0.9"/>
<path d="M371.0,340.6 l6.6,-1.4" stroke="#43322a" stroke-width="0.7" opacity="0.9"/>
<path d="M368.2,344.0 l8.2,-1.6" stroke="#8a7064" stroke-width="0.8" opacity="0.9"/>
<path d="M369.5,352.8 l6.9,-1.2" stroke="#54413a" stroke-width="0.7" opacity="0.9"/>
<path d="M361.3,363.2 l6.4,-1.3" stroke="#54413a" stroke-width="0.7" opacity="0.9"/>
<path d="M342.5,359.7 l5.2,-2.2" stroke="#54413a" stroke-width="0.6" opacity="0.9"/>
<path d="M351.0,352.0 l4.2,-1.5" stroke="#54413a" stroke-width="0.8" opacity="0.9"/>
<path d="M342.9,343.6 l7.3,-2.2" stroke="#8a7064" stroke-width="0.7" opacity="0.9"/>
<path d="M393.1,335.7 l5.8,-2.0" stroke="#43322a" stroke-width="0.6" opacity="0.9"/>
<path d="M333.9,345.5 l5.6,-1.8" stroke="#54413a" stroke-width="0.5" opacity="0.9"/>
<path d="M416.1,354.4 l8.6,-1.1" stroke="#54413a" stroke-width="0.8" opacity="0.9"/>
<path d="M429.8,341.0 l4.3,-2.1" stroke="#54413a" stroke-width="0.7" opacity="0.9"/>
<path d="M379.5,337.7 l4.2,-2.3" stroke="#43322a" stroke-width="0.7" opacity="0.9"/>
<path d="M370.4,350.1 l4.3,-0.8" stroke="#43322a" stroke-width="0.7" opacity="0.9"/>
<path d="M361.9,349.8 l7.8,-1.7" stroke="#43322a" stroke-width="0.6" opacity="0.9"/>
<path d="M335.6,342.7 l8.2,-1.6" stroke="#8a7064" stroke-width="0.6" opacity="0.9"/>
<path d="M353.9,334.1 l5.0,-0.9" stroke="#43322a" stroke-width="0.7" opacity="0.9"/>
<path d="M384.3,339.4 l4.1,-1.3" stroke="#54413a" stroke-width="0.5" opacity="0.9"/>
<path d="M334.7,337.7 l4.8,-1.5" stroke="#43322a" stroke-width="0.7" opacity="0.9"/>
<path d="M371.5,344.8 l4.2,-1.1" stroke="#43322a" stroke-width="0.6" opacity="0.9"/>
<path d="M370.9,334.9 l8.8,-2.1" stroke="#43322a" stroke-width="0.6" opacity="0.9"/>
<path d="M350.7,345.3 l4.6,-0.7" stroke="#54413a" stroke-width="0.4" opacity="0.9"/>
<path d="M403.3,343.4 l7.9,-1.6" stroke="#8a7064" stroke-width="0.6" opacity="0.9"/>
<path d="M387.0,335.0 l5.7,-0.5" stroke="#8a7064" stroke-width="0.4" opacity="0.9"/>
<path d="M398.9,367.0 l7.0,-2.5" stroke="#43322a" stroke-width="0.7" opacity="0.9"/>
<path d="M333.9,351.1 l6.4,-2.1" stroke="#54413a" stroke-width="0.8" opacity="0.9"/>
<path d="M351.7,367.1 l6.4,-0.9" stroke="#8a7064" stroke-width="0.8" opacity="0.9"/>
<path d="M335.4,344.4 l7.0,-0.6" stroke="#43322a" stroke-width="0.8" opacity="0.9"/>
<path d="M350.0,348.0 l6.5,-1.4" stroke="#54413a" stroke-width="0.7" opacity="0.9"/>
<path d="M423.0,339.9 l7.7,-1.0" stroke="#54413a" stroke-width="0.5" opacity="0.9"/>
<path d="M350.0,361.3 l6.2,-1.6" stroke="#54413a" stroke-width="0.6" opacity="0.9"/>
<path d="M358.4,339.8 l7.6,-1.3" stroke="#54413a" stroke-width="0.7" opacity="0.9"/>
<path d="M425.0,335.5 l4.9,-1.0" stroke="#8a7064" stroke-width="0.4" opacity="0.9"/>
<path d="M399.8,356.5 l5.6,-1.3" stroke="#54413a" stroke-width="0.4" opacity="0.9"/>
<path d="M392.0,335.6 l6.3,-0.8" stroke="#54413a" stroke-width="0.5" opacity="0.9"/>
<path d="M368.3,336.4 l6.0,-0.6" stroke="#43322a" stroke-width="0.5" opacity="0.9"/>
<path d="M362.5,349.3 l8.1,-2.1" stroke="#54413a" stroke-width="0.4" opacity="0.9"/>
<path d="M347.0,355.9 l6.9,-2.5" stroke="#43322a" stroke-width="0.5" opacity="0.9"/>
<path d="M352.5,362.9 l6.6,-1.5" stroke="#54413a" stroke-width="0.5" opacity="0.9"/>
<path d="M418.5,360.6 l6.3,-1.3" stroke="#43322a" stroke-width="0.7" opacity="0.9"/>
<path d="M343.0,334.8 l8.8,-2.1" stroke="#8a7064" stroke-width="0.4" opacity="0.9"/>
<path d="M377.6,341.6 l8.1,-1.3" stroke="#54413a" stroke-width="0.6" opacity="0.9"/>
<path d="M397.5,357.8 l6.0,-1.2" stroke="#43322a" stroke-width="0.5" opacity="0.9"/>
<path d="M424.6,349.1 l5.9,-2.3" stroke="#43322a" stroke-width="0.6" opacity="0.9"/>
<path d="M403.3,336.6 l5.7,-1.5" stroke="#43322a" stroke-width="0.8" opacity="0.9"/>
<path d="M399.3,346.4 l7.9,-2.4" stroke="#54413a" stroke-width="0.5" opacity="0.9"/>
<path d="M366.4,367.9 l5.7,-1.6" stroke="#43322a" stroke-width="0.5" opacity="0.9"/>
<path d="M363.7,359.5 l5.0,-2.1" stroke="#54413a" stroke-width="0.6" opacity="0.9"/>
<path d="M423.3,352.2 l6.1,-0.6" stroke="#54413a" stroke-width="0.8" opacity="0.9"/>
<path d="M379.5,360.3 l6.0,-0.5" stroke="#43322a" stroke-width="0.5" opacity="0.9"/>
<path d="M423.6,340.3 l4.5,-1.1" stroke="#8a7064" stroke-width="0.6" opacity="0.9"/>
<path d="M338.0,350.1 l5.0,-2.1" stroke="#8a7064" stroke-width="0.6" opacity="0.9"/>
<path d="M365.8,359.2 l7.7,-1.9" stroke="#43322a" stroke-width="0.6" opacity="0.9"/>
<path d="M421.0,349.1 l5.0,-1.5" stroke="#54413a" stroke-width="0.5" opacity="0.9"/>
<path d="M368.8,361.4 l7.2,-0.6" stroke="#8a7064" stroke-width="0.5" opacity="0.9"/>
<path d="M377.4,351.9 l6.7,-1.8" stroke="#8a7064" stroke-width="0.5" opacity="0.9"/>
<path d="M377.4,364.2 l8.0,-1.9" stroke="#43322a" stroke-width="0.8" opacity="0.9"/>
<path d="M382.9,334.5 l7.1,-2.2" stroke="#43322a" stroke-width="0.5" opacity="0.9"/>
<path d="M336.9,340.9 l7.8,-1.6" stroke="#8a7064" stroke-width="0.8" opacity="0.9"/>
<path d="M335.4,340.3 l4.1,-1.6" stroke="#8a7064" stroke-width="0.7" opacity="0.9"/>
<path d="M391.1,361.6 l6.3,-2.0" stroke="#54413a" stroke-width="0.7" opacity="0.9"/>
<path d="M373.0,342.9 l4.2,-1.6" stroke="#54413a" stroke-width="0.8" opacity="0.9"/>
<path d="M348.2,359.9 l6.8,-0.6" stroke="#54413a" stroke-width="0.7" opacity="0.9"/>
<path d="M409.4,351.3 l8.2,-1.4" stroke="#8a7064" stroke-width="0.4" opacity="0.9"/>
<path d="M336.4,350.5 l4.3,-0.9" stroke="#8a7064" stroke-width="0.6" opacity="0.9"/>
<path d="M397.2,365.6 l8.1,-1.3" stroke="#8a7064" stroke-width="0.5" opacity="0.9"/>
<path d="M394.0,344.0 l4.4,-2.2" stroke="#54413a" stroke-width="0.4" opacity="0.9"/>
<path d="M407.9,349.1 l5.4,-2.0" stroke="#8a7064" stroke-width="0.8" opacity="0.9"/>
<path d="M347.2,344.7 l6.6,-1.7" stroke="#43322a" stroke-width="0.7" opacity="0.9"/>
<path d="M423.3,354.8 l4.2,-1.4" stroke="#54413a" stroke-width="0.4" opacity="0.9"/>
<path d="M344.3,360.7 l7.8,-2.0" stroke="#8a7064" stroke-width="0.7" opacity="0.9"/>
</g>
<path d="M328.5,365.0 C328.2,363.6 330.6,357.9 332.0,356.0 C333.4,354.1 340.2,348.1 343.0,346.5 C345.8,344.9 356.3,340.6 360.0,339.5 C363.7,338.4 375.8,336.1 380.0,335.5 C384.2,334.9 397.9,333.3 402.0,333.2 C406.1,333.1 417.5,333.3 421.0,334.0 C424.5,334.7 433.9,338.1 437.0,340.0 C440.1,341.9 449.5,350.4 452.0,353.0 C454.5,355.6 460.3,364.1 462.0,366.0 C463.7,367.9 468.1,370.5 469.0,371.5 C469.9,372.5 471.1,374.9 471.0,376.0 C470.9,377.1 469.0,382.6 468.0,383.0 C467.0,383.4 463.3,380.5 461.0,380.0 C458.7,379.5 448.6,378.9 445.0,378.0 C441.4,377.1 428.4,372.1 425.0,371.0 C421.6,369.9 414.1,366.8 411.0,366.5 C407.9,366.2 397.4,367.9 394.0,368.0 C390.6,368.1 381.3,367.8 377.0,368.0 C372.7,368.2 355.2,370.3 351.0,370.5 C346.8,370.7 337.2,370.2 335.0,369.7 C332.8,369.1 328.8,366.4 328.5,365.0Z" fill="none" stroke="#3a2a22" stroke-width="0.7"/>
<path d="M418.0,336.0 C419.4,334.5 427.1,335.9 430.0,337.0 C432.9,338.1 440.1,342.7 443.0,345.0 C445.9,347.3 452.8,354.3 455.0,357.0 C457.2,359.7 461.1,365.8 462.0,368.0 C462.9,370.2 464.4,374.9 463.0,376.0 C461.6,377.1 453.1,377.5 450.0,377.0 C446.9,376.5 439.0,373.6 436.0,372.0 C433.0,370.4 426.1,365.6 424.0,363.0 C421.9,360.4 418.7,353.1 418.0,350.0 C417.3,346.9 416.6,337.5 418.0,336.0Z" fill="#8a6f62" stroke="#4a362d" stroke-width="0.6"/>
<path d="M428.0,352.0 C429.6,351.5 442.7,354.1 446.0,356.0 C449.3,357.9 456.2,366.8 456.0,368.0 C455.8,369.2 446.8,366.9 444.0,366.0 C441.2,365.1 433.9,361.6 432.0,360.0 C430.1,358.4 426.4,352.5 428.0,352.0Z" fill="#a18679" opacity="0.8"/>
<path d="M467,372 L483,375 M466,376 L471,384" stroke="#4a362d" stroke-width="1.4" stroke-linecap="round"/>
<path d="M546.8,348.0 C547.2,345.1 551.0,343.8 552.3,343.5 C553.6,343.2 556.2,344.4 558.0,345.5 C559.8,346.6 565.8,351.0 567.5,353.0 C569.2,355.0 572.2,360.7 573.0,363.0 C573.8,365.3 574.1,371.1 574.0,373.0 C573.9,374.9 572.4,377.5 572.0,379.0 C571.6,380.5 571.6,384.1 571.0,386.0 C570.4,387.9 568.0,393.2 567.0,395.0 C566.0,396.8 563.2,401.1 562.0,401.0 C560.8,400.9 558.0,395.9 557.0,394.0 C556.0,392.1 554.0,388.0 553.0,385.0 C552.0,382.0 549.2,372.3 548.5,368.0 C547.8,363.7 546.4,350.9 546.8,348.0Z" fill="#6c7642" stroke="#23281a" stroke-width="0.9"/>
<path d="M551.0,350.0 C551.3,347.1 556.0,348.7 558.0,350.0 C560.0,351.3 564.5,356.7 566.0,360.0 C567.5,363.3 569.4,372.2 569.0,375.0 C568.6,377.8 564.7,381.4 563.0,381.0 C561.3,380.6 557.6,376.1 556.0,372.0 C554.4,367.9 550.7,352.9 551.0,350.0Z" fill="#58623a"/>
<path d="M552,352 Q556,365 560,378 M556,350 Q562,362 565,376" fill="none" stroke="#3b4226" stroke-width="0.6"/>
<path d="M568,384 L574,386 M566,386 L559,398 M568,387 L564,402 M570,386 L572,398 M565,385 L556,391" fill="none" stroke="#23281a" stroke-width="2.6" stroke-linecap="round"/>
<path d="M568,384 L574,386 M566,386 L559,398 M568,387 L564,402 M570,386 L572,398 M565,385 L556,391" fill="none" stroke="#6c7642" stroke-width="1.5" stroke-linecap="round"/>
<path d="M648,361 l4,1 M649,365 l3,3 M645,366 l1,4 M638,371 l-1,4 M634,407 l2,2 M640,399 l3,1" fill="none" stroke="#3a4226" stroke-width="1.2" stroke-linecap="round"/>
<path d="M557.8,341.5 C558.7,340.0 568.5,336.7 571.7,335.0 C574.9,333.3 581.7,328.3 585.5,327.0 C589.3,325.7 600.7,324.2 604.0,323.5 C607.3,322.8 611.4,322.0 613.8,321.2 C616.2,320.4 623.0,317.6 624.9,317.0 C626.8,316.4 628.5,315.6 630.4,315.8 C632.3,316.0 639.1,317.8 641.5,318.6 C643.9,319.4 649.8,321.6 651.2,322.8 C652.6,324.0 653.7,327.2 653.5,328.6 C653.3,330.0 651.2,333.2 649.8,334.4 C648.4,335.6 643.3,337.0 641.5,338.6 C639.7,340.2 636.2,346.3 634.6,348.0 C633.0,349.7 629.6,351.4 627.7,353.5 C625.8,355.6 620.8,363.6 618.0,365.9 C615.2,368.2 607.5,372.6 604.0,373.5 C600.5,374.4 591.5,373.9 588.0,373.5 C584.5,373.1 576.4,372.1 574.4,370.5 C572.4,368.9 572.2,362.6 571.0,360.0 C569.8,357.4 565.5,350.2 564.0,348.0 C562.5,345.8 556.9,343.0 557.8,341.5Z" fill="#667040" stroke="#23281a" stroke-width="0.9"/>
<clipPath id="frogc"><path d="M557.8,341.5 C558.7,340.0 568.5,336.7 571.7,335.0 C574.9,333.3 581.7,328.3 585.5,327.0 C589.3,325.7 600.7,324.2 604.0,323.5 C607.3,322.8 611.4,322.0 613.8,321.2 C616.2,320.4 623.0,317.6 624.9,317.0 C626.8,316.4 628.5,315.6 630.4,315.8 C632.3,316.0 639.1,317.8 641.5,318.6 C643.9,319.4 649.8,321.6 651.2,322.8 C652.6,324.0 653.7,327.2 653.5,328.6 C653.3,330.0 651.2,333.2 649.8,334.4 C648.4,335.6 643.3,337.0 641.5,338.6 C639.7,340.2 636.2,346.3 634.6,348.0 C633.0,349.7 629.6,351.4 627.7,353.5 C625.8,355.6 620.8,363.6 618.0,365.9 C615.2,368.2 607.5,372.6 604.0,373.5 C600.5,374.4 591.5,373.9 588.0,373.5 C584.5,373.1 576.4,372.1 574.4,370.5 C572.4,368.9 572.2,362.6 571.0,360.0 C569.8,357.4 565.5,350.2 564.0,348.0 C562.5,345.8 556.9,343.0 557.8,341.5Z"/></clipPath>
<g clip-path="url(#frogc)">
<ellipse cx="607.0" cy="363.2" rx="2.9" ry="0.9" fill="#5a6538" opacity="0.7"/>
<ellipse cx="569.9" cy="319.5" rx="1.8" ry="1.3" fill="#5a6538" opacity="0.7"/>
<ellipse cx="637.4" cy="362.9" rx="2.3" ry="1.2" fill="#a2a874" opacity="0.7"/>
<ellipse cx="572.4" cy="348.9" rx="1.3" ry="1.3" fill="#8c9460" opacity="0.7"/>
<ellipse cx="573.6" cy="357.5" rx="2.1" ry="1.5" fill="#8c9460" opacity="0.7"/>
<ellipse cx="589.8" cy="324.9" rx="2.4" ry="0.7" fill="#a2a874" opacity="0.7"/>
<ellipse cx="567.4" cy="370.6" rx="1.9" ry="1.5" fill="#8c9460" opacity="0.7"/>
<ellipse cx="621.4" cy="340.9" rx="2.0" ry="0.9" fill="#a2a874" opacity="0.7"/>
<ellipse cx="593.5" cy="320.9" rx="2.5" ry="0.9" fill="#a2a874" opacity="0.7"/>
<ellipse cx="593.7" cy="361.4" rx="2.7" ry="0.8" fill="#8c9460" opacity="0.7"/>
<ellipse cx="646.2" cy="347.5" rx="1.7" ry="0.8" fill="#5a6538" opacity="0.7"/>
<ellipse cx="577.3" cy="351.8" rx="2.1" ry="1.1" fill="#8c9460" opacity="0.7"/>
<ellipse cx="582.5" cy="335.2" rx="1.7" ry="0.8" fill="#4f5a31" opacity="0.7"/>
<ellipse cx="641.8" cy="350.4" rx="1.5" ry="0.6" fill="#5a6538" opacity="0.7"/>
<ellipse cx="561.7" cy="359.7" rx="1.9" ry="0.6" fill="#8c9460" opacity="0.7"/>
<ellipse cx="587.9" cy="322.2" rx="3.0" ry="1.4" fill="#4f5a31" opacity="0.7"/>
<ellipse cx="615.9" cy="347.4" rx="1.3" ry="1.0" fill="#a2a874" opacity="0.7"/>
<ellipse cx="576.5" cy="373.7" rx="2.9" ry="1.2" fill="#8c9460" opacity="0.7"/>
<ellipse cx="564.5" cy="372.5" rx="1.6" ry="1.4" fill="#5a6538" opacity="0.7"/>
<ellipse cx="633.0" cy="320.8" rx="2.9" ry="0.7" fill="#5a6538" opacity="0.7"/>
<ellipse cx="635.5" cy="354.8" rx="1.8" ry="0.7" fill="#4f5a31" opacity="0.7"/>
<ellipse cx="608.9" cy="372.8" rx="1.4" ry="1.5" fill="#8c9460" opacity="0.7"/>
<ellipse cx="632.1" cy="320.8" rx="2.8" ry="1.1" fill="#a2a874" opacity="0.7"/>
<ellipse cx="580.0" cy="340.8" rx="2.3" ry="0.7" fill="#a2a874" opacity="0.7"/>
<ellipse cx="627.7" cy="330.8" rx="1.6" ry="0.8" fill="#5a6538" opacity="0.7"/>
<ellipse cx="613.8" cy="371.8" rx="2.2" ry="1.1" fill="#4f5a31" opacity="0.7"/>
<ellipse cx="640.4" cy="336.4" rx="2.2" ry="1.4" fill="#8c9460" opacity="0.7"/>
<ellipse cx="615.2" cy="338.6" rx="3.0" ry="1.3" fill="#5a6538" opacity="0.7"/>
<ellipse cx="599.0" cy="343.1" rx="1.2" ry="0.7" fill="#4f5a31" opacity="0.7"/>
<ellipse cx="577.3" cy="350.2" rx="2.4" ry="1.3" fill="#a2a874" opacity="0.7"/>
<ellipse cx="601.7" cy="365.9" rx="1.3" ry="1.1" fill="#a2a874" opacity="0.7"/>
<ellipse cx="561.1" cy="332.8" rx="3.0" ry="1.3" fill="#a2a874" opacity="0.7"/>
<ellipse cx="590.4" cy="336.4" rx="1.1" ry="0.7" fill="#4f5a31" opacity="0.7"/>
<ellipse cx="562.5" cy="344.4" rx="2.8" ry="1.2" fill="#4f5a31" opacity="0.7"/>
<ellipse cx="630.0" cy="363.9" rx="3.0" ry="1.0" fill="#8c9460" opacity="0.7"/>
<ellipse cx="638.1" cy="319.7" rx="1.8" ry="0.7" fill="#4f5a31" opacity="0.7"/>
<ellipse cx="626.5" cy="321.3" rx="2.9" ry="0.8" fill="#5a6538" opacity="0.7"/>
<ellipse cx="591.3" cy="348.4" rx="2.6" ry="1.5" fill="#a2a874" opacity="0.7"/>
<ellipse cx="642.2" cy="347.4" rx="3.0" ry="0.7" fill="#4f5a31" opacity="0.7"/>
<ellipse cx="616.4" cy="366.4" rx="1.7" ry="0.7" fill="#8c9460" opacity="0.7"/>
<ellipse cx="608.5" cy="331.6" rx="2.0" ry="0.9" fill="#4f5a31" opacity="0.7"/>
<ellipse cx="582.9" cy="322.1" rx="1.8" ry="1.2" fill="#a2a874" opacity="0.7"/>
<ellipse cx="592.9" cy="330.0" rx="3.0" ry="1.3" fill="#8c9460" opacity="0.7"/>
<ellipse cx="630.6" cy="322.7" rx="1.9" ry="1.4" fill="#8c9460" opacity="0.7"/>
<ellipse cx="619.7" cy="326.0" rx="2.2" ry="1.4" fill="#a2a874" opacity="0.7"/>
<ellipse cx="632.3" cy="367.3" rx="2.9" ry="1.0" fill="#8c9460" opacity="0.7"/>
<ellipse cx="575.2" cy="357.9" rx="2.6" ry="1.0" fill="#5a6538" opacity="0.7"/>
<ellipse cx="608.6" cy="342.8" rx="2.0" ry="0.7" fill="#8c9460" opacity="0.7"/>
<ellipse cx="604.6" cy="346.1" rx="1.7" ry="1.2" fill="#5a6538" opacity="0.7"/>
<ellipse cx="604.3" cy="342.1" rx="2.8" ry="0.9" fill="#8c9460" opacity="0.7"/>
<ellipse cx="566.4" cy="334.6" rx="1.6" ry="1.4" fill="#a2a874" opacity="0.7"/>
<ellipse cx="588.9" cy="372.0" rx="2.5" ry="0.9" fill="#5a6538" opacity="0.7"/>
<ellipse cx="643.0" cy="346.8" rx="1.3" ry="0.7" fill="#5a6538" opacity="0.7"/>
<ellipse cx="581.3" cy="329.9" rx="2.7" ry="1.4" fill="#a2a874" opacity="0.7"/>
<ellipse cx="593.8" cy="370.9" rx="1.6" ry="1.5" fill="#8c9460" opacity="0.7"/>
<ellipse cx="639.3" cy="318.7" rx="2.7" ry="1.1" fill="#5a6538" opacity="0.7"/>
<ellipse cx="620.7" cy="345.6" rx="1.8" ry="0.8" fill="#5a6538" opacity="0.7"/>
<ellipse cx="600.4" cy="361.2" rx="1.3" ry="1.0" fill="#8c9460" opacity="0.7"/>
<ellipse cx="578.7" cy="338.3" rx="2.8" ry="1.4" fill="#8c9460" opacity="0.7"/>
<ellipse cx="628.8" cy="365.2" rx="1.1" ry="1.2" fill="#5a6538" opacity="0.7"/>
<ellipse cx="624.9" cy="361.8" rx="2.9" ry="1.0" fill="#a2a874" opacity="0.7"/>
<ellipse cx="633.3" cy="322.9" rx="1.5" ry="1.0" fill="#a2a874" opacity="0.7"/>
<ellipse cx="580.5" cy="340.5" rx="2.0" ry="1.4" fill="#8c9460" opacity="0.7"/>
<ellipse cx="589.4" cy="339.6" rx="1.4" ry="0.8" fill="#4f5a31" opacity="0.7"/>
<ellipse cx="602.6" cy="340.8" rx="3.0" ry="1.0" fill="#8c9460" opacity="0.7"/>
<ellipse cx="604.7" cy="332.8" rx="1.3" ry="0.7" fill="#8c9460" opacity="0.7"/>
<ellipse cx="563.2" cy="325.0" rx="1.9" ry="0.7" fill="#5a6538" opacity="0.7"/>
<ellipse cx="636.4" cy="354.2" rx="2.1" ry="1.2" fill="#5a6538" opacity="0.7"/>
<ellipse cx="632.8" cy="319.9" rx="2.3" ry="1.2" fill="#5a6538" opacity="0.7"/>
<ellipse cx="608.1" cy="369.4" rx="2.4" ry="0.8" fill="#5a6538" opacity="0.7"/>
<ellipse cx="641.1" cy="371.3" rx="2.5" ry="0.7" fill="#5a6538" opacity="0.7"/>
<ellipse cx="593.5" cy="343.0" rx="2.6" ry="1.5" fill="#5a6538" opacity="0.7"/>
<ellipse cx="648.1" cy="318.4" rx="2.6" ry="0.7" fill="#8c9460" opacity="0.7"/>
<ellipse cx="636.6" cy="324.5" rx="2.1" ry="0.7" fill="#a2a874" opacity="0.7"/>
<ellipse cx="644.5" cy="355.9" rx="1.9" ry="1.2" fill="#a2a874" opacity="0.7"/>
<ellipse cx="564.2" cy="367.6" rx="1.5" ry="1.5" fill="#4f5a31" opacity="0.7"/>
<ellipse cx="629.6" cy="325.9" rx="1.4" ry="1.3" fill="#5a6538" opacity="0.7"/>
<ellipse cx="587.3" cy="336.5" rx="1.0" ry="0.7" fill="#4f5a31" opacity="0.7"/>
<ellipse cx="617.1" cy="323.8" rx="1.7" ry="1.3" fill="#a2a874" opacity="0.7"/>
<ellipse cx="643.4" cy="321.2" rx="2.0" ry="1.1" fill="#a2a874" opacity="0.7"/>
<ellipse cx="586.7" cy="370.0" rx="2.4" ry="1.1" fill="#8c9460" opacity="0.7"/>
<ellipse cx="628.6" cy="322.0" rx="1.6" ry="0.6" fill="#8c9460" opacity="0.7"/>
<ellipse cx="635.8" cy="371.4" rx="2.4" ry="1.4" fill="#a2a874" opacity="0.7"/>
<ellipse cx="631.5" cy="324.0" rx="2.5" ry="1.3" fill="#a2a874" opacity="0.7"/>
<ellipse cx="606.3" cy="341.2" rx="2.5" ry="0.8" fill="#8c9460" opacity="0.7"/>
<ellipse cx="610.6" cy="359.1" rx="2.2" ry="1.3" fill="#8c9460" opacity="0.7"/>
<ellipse cx="637.9" cy="364.5" rx="2.3" ry="1.0" fill="#8c9460" opacity="0.7"/>
<ellipse cx="615.8" cy="364.7" rx="2.5" ry="1.0" fill="#a2a874" opacity="0.7"/>
<ellipse cx="599.2" cy="363.5" rx="2.2" ry="0.8" fill="#4f5a31" opacity="0.7"/>
<ellipse cx="582.4" cy="332.5" rx="2.8" ry="1.4" fill="#5a6538" opacity="0.7"/>
</g>
<path d="M575.0,342.0 C575.5,340.9 587.1,335.6 592.0,334.0 C596.9,332.4 608.0,330.1 612.0,330.0 C616.0,329.9 622.8,331.9 622.0,333.0 C621.2,334.1 610.5,336.8 606.0,338.0 C601.5,339.2 592.1,341.5 588.0,342.0 C583.9,342.5 574.5,343.1 575.0,342.0Z" fill="#979e6a"/>
<path d="M576.0,352.0 C577.6,350.5 588.9,347.2 594.0,346.0 C599.1,344.8 610.5,342.6 614.0,343.0 C617.5,343.4 621.9,347.7 620.0,349.0 C618.1,350.3 605.1,351.9 600.0,353.0 C594.9,354.1 585.2,357.1 582.0,357.0 C578.8,356.9 574.4,353.5 576.0,352.0Z" fill="#a3a975"/>
<path d="M578.0,360.0 C580.1,358.7 591.5,356.8 596.0,356.0 C600.5,355.2 610.1,353.2 612.0,354.0 C613.9,354.8 612.4,360.4 610.0,362.0 C607.6,363.6 598.0,365.5 594.0,366.0 C590.0,366.5 582.1,366.8 580.0,366.0 C577.9,365.2 575.9,361.3 578.0,360.0Z" fill="#566036"/>
<path d="M580.0,367.0 C581.3,366.1 594.0,365.1 598.0,365.0 C602.0,364.9 609.2,365.2 610.0,366.0 C610.8,366.8 606.9,370.3 604.0,371.0 C601.1,371.7 591.2,372.0 588.0,371.5 C584.8,371.0 578.7,367.9 580.0,367.0Z" fill="#969c68"/>
<path d="M590.0,328.0 C591.6,327.2 606.0,325.8 610.0,325.0 C614.0,324.2 619.3,321.7 620.0,322.0 C620.7,322.3 617.9,325.8 615.0,327.0 C612.1,328.2 601.3,330.9 598.0,331.0 C594.7,331.1 588.4,328.8 590.0,328.0Z" fill="#59633a"/>
<path d="M626.0,340.0 C628.4,338.5 638.7,338.1 640.0,339.0 C641.3,339.9 637.6,345.3 636.0,347.0 C634.4,348.7 629.9,351.6 628.0,352.0 C626.1,352.4 622.3,351.6 622.0,350.0 C621.7,348.4 623.6,341.5 626.0,340.0Z" fill="#c3c795"/>
<path d="M624.0,353.0 C625.8,352.2 634.0,354.5 636.0,355.0 C638.0,355.5 642.7,357.4 644.0,358.0 C645.3,358.6 648.3,360.2 649.0,361.0 C649.7,361.8 651.3,365.7 651.0,366.0 C650.7,366.3 647.1,363.9 646.0,364.0 C644.9,364.1 640.9,366.2 640.0,367.0 C639.1,367.8 637.7,372.1 637.0,372.0 C636.3,371.9 634.3,366.6 633.0,366.0 C631.7,365.4 625.5,366.3 624.0,366.0 C622.5,365.7 618.0,364.3 618.0,363.0 C618.0,361.7 622.2,353.8 624.0,353.0Z" fill="#6f7944" stroke="#23281a" stroke-width="0.8"/>
<path d="M604.0,368.0 C604.5,366.7 611.7,364.6 613.0,365.0 C614.3,365.4 616.2,369.9 617.0,372.0 C617.8,374.1 619.2,384.1 620.7,386.0 C622.2,387.9 629.8,389.2 631.8,390.5 C633.8,391.8 640.1,398.1 640.5,399.0 C640.9,399.9 636.6,398.1 636.0,399.0 C635.4,399.9 634.8,407.2 634.0,407.5 C633.2,407.8 629.2,402.9 628.0,402.0 C626.8,401.1 623.4,399.3 622.0,398.0 C620.6,396.7 615.2,391.4 613.8,389.4 C612.4,387.4 609.0,380.1 608.0,378.0 C607.0,375.9 603.5,369.3 604.0,368.0Z" fill="#6c7642" stroke="#23281a" stroke-width="0.8"/>
<path d="M609.0,372.0 C609.1,370.4 612.8,370.3 614.0,372.0 C615.2,373.7 618.1,383.4 618.0,385.0 C617.9,386.6 614.2,385.7 613.0,384.0 C611.8,382.3 608.9,373.6 609.0,372.0Z" fill="#58623a"/>
<circle cx="631.2" cy="331.4" r="5" fill="#e3a62c" stroke="#1a1a1a" stroke-width="0.9"/>
<ellipse cx="631.8" cy="331.6" rx="3" ry="1.6" fill="#1a1a1a"/>
<circle cx="649" cy="325.5" r="0.8" fill="#222"/>
<clipPath id="owlc"><path d="M775.8,308.6 C776.3,308.3 780.5,313.3 781.0,314.0 C781.5,314.7 782.6,318.3 783.3,318.6 C784.0,318.9 790.6,318.5 791.6,318.6 C792.6,318.7 797.4,320.7 798.2,320.3 C799.0,319.9 802.5,313.8 803.0,313.0 C803.5,312.2 805.3,307.9 805.7,307.8 C806.1,307.7 808.6,311.3 809.0,312.0 C809.4,312.7 812.3,317.0 812.3,317.8 C812.3,318.6 809.2,322.4 809.0,323.6 C808.8,324.8 809.6,334.0 809.8,335.2 C810.0,336.4 811.3,340.7 812.3,341.8 C813.3,342.9 823.3,350.1 824.8,351.8 C826.3,353.5 833.8,364.8 834.7,366.7 C835.6,368.6 838.6,378.2 838.9,380.0 C839.2,381.8 839.9,391.8 839.7,393.3 C839.5,394.8 837.2,402.2 836.4,403.2 C835.6,404.2 829.1,407.6 828.1,408.2 C827.1,408.8 821.6,411.3 821.0,412.0 C820.4,412.7 821.7,417.8 819.8,418.2 C817.9,418.6 793.9,419.0 792.0,418.2 C790.1,417.4 791.9,407.2 792.0,406.0 C792.1,404.8 793.8,401.5 793.2,399.9 C792.6,398.3 784.4,384.0 783.3,381.7 C782.2,379.4 777.3,367.2 776.6,365.1 C775.9,363.0 772.8,352.0 772.5,350.1 C772.2,348.2 771.5,338.4 771.6,336.9 C771.7,335.4 773.1,328.1 773.3,326.9 C773.5,325.7 773.9,319.8 774.1,318.6 C774.3,317.4 775.3,308.9 775.8,308.6Z"/></clipPath>
<path d="M775.8,308.6 C776.3,308.3 780.5,313.3 781.0,314.0 C781.5,314.7 782.6,318.3 783.3,318.6 C784.0,318.9 790.6,318.5 791.6,318.6 C792.6,318.7 797.4,320.7 798.2,320.3 C799.0,319.9 802.5,313.8 803.0,313.0 C803.5,312.2 805.3,307.9 805.7,307.8 C806.1,307.7 808.6,311.3 809.0,312.0 C809.4,312.7 812.3,317.0 812.3,317.8 C812.3,318.6 809.2,322.4 809.0,323.6 C808.8,324.8 809.6,334.0 809.8,335.2 C810.0,336.4 811.3,340.7 812.3,341.8 C813.3,342.9 823.3,350.1 824.8,351.8 C826.3,353.5 833.8,364.8 834.7,366.7 C835.6,368.6 838.6,378.2 838.9,380.0 C839.2,381.8 839.9,391.8 839.7,393.3 C839.5,394.8 837.2,402.2 836.4,403.2 C835.6,404.2 829.1,407.6 828.1,408.2 C827.1,408.8 821.6,411.3 821.0,412.0 C820.4,412.7 821.7,417.8 819.8,418.2 C817.9,418.6 793.9,419.0 792.0,418.2 C790.1,417.4 791.9,407.2 792.0,406.0 C792.1,404.8 793.8,401.5 793.2,399.9 C792.6,398.3 784.4,384.0 783.3,381.7 C782.2,379.4 777.3,367.2 776.6,365.1 C775.9,363.0 772.8,352.0 772.5,350.1 C772.2,348.2 771.5,338.4 771.6,336.9 C771.7,335.4 773.1,328.1 773.3,326.9 C773.5,325.7 773.9,319.8 774.1,318.6 C774.3,317.4 775.3,308.9 775.8,308.6Z" fill="#6f4f3a"/>
<g clip-path="url(#owlc)">
<path d="M770.0,345.0 C771.4,342.9 785.3,343.5 788.0,344.0 C790.7,344.5 796.3,347.9 797.0,350.0 C797.7,352.1 794.9,362.0 795.0,365.0 C795.1,368.0 796.9,377.0 798.0,380.0 C799.1,383.0 804.6,392.5 806.0,395.0 C807.4,397.5 812.6,403.5 812.0,405.0 C811.4,406.5 802.4,410.1 800.0,410.0 C797.6,409.9 790.0,406.5 788.0,404.0 C786.0,401.5 781.4,388.9 780.0,385.0 C778.6,381.1 775.0,369.0 774.0,365.0 C773.0,361.0 768.6,347.1 770.0,345.0Z" fill="#a59f93"/>
<path d="M776.0,318.0 C777.6,317.1 787.0,317.0 790.0,317.0 C793.0,317.0 804.0,317.1 806.0,318.0 C808.0,318.9 810.6,325.2 810.0,326.0 C809.4,326.8 801.8,325.6 800.0,326.0 C798.2,326.4 793.6,330.0 792.0,330.0 C790.4,330.0 785.8,326.4 784.0,326.0 C782.2,325.6 774.8,326.8 774.0,326.0 C773.2,325.2 774.4,318.9 776.0,318.0Z" fill="#7d6a5a"/>
<path d="M771.0,324.0 C772.0,323.1 779.0,324.4 781.0,325.0 C783.0,325.6 789.0,330.0 791.0,330.0 C793.0,330.0 799.1,325.7 801.0,325.0 C802.9,324.3 809.0,321.9 810.0,323.0 C811.0,324.1 811.2,334.0 811.0,336.0 C810.8,338.0 809.5,342.0 808.0,343.0 C806.5,344.0 798.4,345.7 796.0,346.0 C793.6,346.3 786.2,346.3 784.0,346.0 C781.8,345.7 775.3,344.2 774.0,343.0 C772.7,341.8 771.3,335.9 771.0,334.0 C770.7,332.1 770.0,324.9 771.0,324.0Z" fill="#a87752" stroke="#5a4030" stroke-width="0.6"/>
<path d="M789.0,327.0 C789.5,326.0 794.5,326.0 795.0,327.0 C795.5,328.0 794.5,336.0 794.0,337.0 C793.5,338.0 790.5,338.0 790.0,337.0 C789.5,336.0 788.5,328.0 789.0,327.0Z" fill="#b9afa2"/>
<path d="M775.8,308.6 L779.0,311.0 L784.0,318.0 L785.0,325.0 L776.0,325.0 L774.0,316.0Z" fill="#4a3a2f"/>
<path d="M805.7,307.8 L812.3,317.8 L810.0,325.0 L800.0,323.0 L802.0,314.0Z" fill="#4a3a2f"/>
<path d="M778,314 l3,6 M807,313 l-2,7" stroke="#8a6e58" stroke-width="0.8"/>
<path d="M778.0,344.5 C778.5,344.1 787.5,344.0 790.0,344.0 C792.5,344.0 802.3,344.2 803.0,344.5 C803.7,344.8 798.8,346.7 797.0,347.0 C795.2,347.3 786.9,347.8 785.0,347.5 C783.1,347.2 777.5,344.9 778.0,344.5Z" fill="#d9d4c7"/>
<path d="M792.0,420.0 L795.0,407.0 L803.0,403.0 L815.0,405.0 L822.0,411.0 L820.0,420.0Z" fill="#6f665e"/>
<path d="M792.0,404.0 C791.6,403.5 796.4,400.4 798.0,400.0 C799.6,399.6 807.6,399.5 808.0,400.0 C808.4,400.5 803.6,404.6 802.0,405.0 C800.4,405.4 792.4,404.5 792.0,404.0Z" fill="#d5d0c4"/>
<ellipse cx="789.6" cy="388.5" rx="1.6" ry="0.8" fill="#8a7a68" opacity="0.85"/>
<ellipse cx="816.3" cy="387.3" rx="1.4" ry="0.5" fill="#5b4232" opacity="0.85"/>
<ellipse cx="776.8" cy="398.4" rx="1.0" ry="0.6" fill="#8a7a68" opacity="0.85"/>
<ellipse cx="829.0" cy="383.7" rx="1.8" ry="0.8" fill="#a97b50" opacity="0.85"/>
<ellipse cx="777.8" cy="395.2" rx="1.6" ry="0.8" fill="#6f675a" opacity="0.85"/>
<ellipse cx="836.6" cy="395.2" rx="1.1" ry="0.5" fill="#3e2e25" opacity="0.85"/>
<ellipse cx="833.1" cy="380.1" rx="1.4" ry="0.8" fill="#c29266" opacity="0.85"/>
<ellipse cx="815.4" cy="386.6" rx="1.6" ry="0.8" fill="#3e2e25" opacity="0.85"/>
<ellipse cx="839.0" cy="388.8" rx="1.4" ry="0.9" fill="#8a6a52" opacity="0.85"/>
<ellipse cx="801.9" cy="391.2" rx="0.9" ry="0.5" fill="#8a6a52" opacity="0.85"/>
<ellipse cx="807.5" cy="361.7" rx="1.0" ry="0.5" fill="#c29266" opacity="0.85"/>
<ellipse cx="832.5" cy="381.8" rx="1.0" ry="0.5" fill="#8a6a52" opacity="0.85"/>
<ellipse cx="785.2" cy="368.7" rx="1.2" ry="0.7" fill="#ece8de" opacity="0.85"/>
<ellipse cx="803.5" cy="346.1" rx="1.7" ry="0.4" fill="#c29266" opacity="0.85"/>
<ellipse cx="781.6" cy="396.0" rx="1.4" ry="0.5" fill="#4c453c" opacity="0.85"/>
<ellipse cx="800.1" cy="399.8" rx="0.9" ry="0.8" fill="#6f675a" opacity="0.85"/>
<ellipse cx="797.5" cy="390.4" rx="1.7" ry="0.8" fill="#e0dbd0" opacity="0.85"/>
<ellipse cx="788.2" cy="376.8" rx="0.7" ry="0.8" fill="#d2ccc0" opacity="0.85"/>
<ellipse cx="774.6" cy="382.1" rx="1.1" ry="0.5" fill="#d2ccc0" opacity="0.85"/>
<ellipse cx="783.2" cy="388.4" rx="1.7" ry="0.5" fill="#ece8de" opacity="0.85"/>
<ellipse cx="801.2" cy="382.9" rx="1.5" ry="0.9" fill="#8a6a52" opacity="0.85"/>
<ellipse cx="828.1" cy="386.0" rx="0.7" ry="0.9" fill="#8a6a52" opacity="0.85"/>
<ellipse cx="780.3" cy="364.7" rx="1.3" ry="0.7" fill="#6f675a" opacity="0.85"/>
<ellipse cx="835.8" cy="378.4" rx="0.7" ry="0.6" fill="#a97b50" opacity="0.85"/>
<ellipse cx="805.8" cy="406.1" rx="1.6" ry="0.5" fill="#d2ccc0" opacity="0.85"/>
<ellipse cx="786.1" cy="395.5" rx="1.3" ry="0.9" fill="#4c453c" opacity="0.85"/>
<ellipse cx="822.2" cy="362.0" rx="1.6" ry="0.5" fill="#b98a5e" opacity="0.85"/>
<ellipse cx="800.9" cy="360.6" rx="1.4" ry="0.6" fill="#5b4232" opacity="0.85"/>
<ellipse cx="815.6" cy="372.4" rx="1.1" ry="0.4" fill="#3e2e25" opacity="0.85"/>
<ellipse cx="823.6" cy="383.2" rx="1.4" ry="0.6" fill="#a97b50" opacity="0.85"/>
<ellipse cx="802.6" cy="407.5" rx="1.1" ry="0.5" fill="#4c453c" opacity="0.85"/>
<ellipse cx="801.6" cy="354.5" rx="0.8" ry="0.8" fill="#a97b50" opacity="0.85"/>
<ellipse cx="786.8" cy="364.8" rx="1.0" ry="0.6" fill="#4c453c" opacity="0.85"/>
<ellipse cx="778.8" cy="376.4" rx="1.7" ry="0.9" fill="#d2ccc0" opacity="0.85"/>
<ellipse cx="775.0" cy="379.2" rx="1.8" ry="0.4" fill="#e0dbd0" opacity="0.85"/>
<ellipse cx="783.3" cy="401.0" rx="0.8" ry="0.4" fill="#8a7a68" opacity="0.85"/>
<ellipse cx="788.9" cy="399.8" rx="0.8" ry="0.9" fill="#e0dbd0" opacity="0.85"/>
<ellipse cx="776.8" cy="362.4" rx="0.8" ry="0.5" fill="#e0dbd0" opacity="0.85"/>
<ellipse cx="828.3" cy="360.8" rx="0.9" ry="0.6" fill="#c29266" opacity="0.85"/>
<ellipse cx="775.7" cy="379.9" rx="0.8" ry="0.5" fill="#ece8de" opacity="0.85"/>
<ellipse cx="808.3" cy="396.4" rx="1.1" ry="0.5" fill="#8a6a52" opacity="0.85"/>
<ellipse cx="809.1" cy="362.2" rx="0.8" ry="0.4" fill="#3e2e25" opacity="0.85"/>
<ellipse cx="821.4" cy="352.6" rx="1.0" ry="0.4" fill="#b98a5e" opacity="0.85"/>
<ellipse cx="794.7" cy="384.9" rx="1.4" ry="0.8" fill="#e0dbd0" opacity="0.85"/>
<ellipse cx="820.7" cy="364.0" rx="0.8" ry="0.6" fill="#a97b50" opacity="0.85"/>
<ellipse cx="839.7" cy="375.2" rx="0.9" ry="0.5" fill="#3e2e25" opacity="0.85"/>
<ellipse cx="792.5" cy="378.6" rx="1.0" ry="0.6" fill="#d2ccc0" opacity="0.85"/>
<ellipse cx="835.7" cy="361.3" rx="1.2" ry="0.9" fill="#3e2e25" opacity="0.85"/>
<ellipse cx="823.8" cy="376.0" rx="0.9" ry="0.7" fill="#3e2e25" opacity="0.85"/>
<ellipse cx="837.1" cy="374.7" rx="1.5" ry="0.8" fill="#c29266" opacity="0.85"/>
<ellipse cx="774.0" cy="402.2" rx="1.6" ry="0.5" fill="#4c453c" opacity="0.85"/>
<ellipse cx="779.0" cy="382.5" rx="0.8" ry="0.9" fill="#6f675a" opacity="0.85"/>
<ellipse cx="810.8" cy="390.9" rx="0.9" ry="0.8" fill="#a97b50" opacity="0.85"/>
<ellipse cx="816.1" cy="372.6" rx="0.7" ry="0.8" fill="#8a6a52" opacity="0.85"/>
<ellipse cx="781.8" cy="398.1" rx="1.4" ry="0.8" fill="#e0dbd0" opacity="0.85"/>
<ellipse cx="801.1" cy="392.6" rx="1.2" ry="0.7" fill="#e0dbd0" opacity="0.85"/>
<ellipse cx="788.6" cy="378.9" rx="1.3" ry="0.8" fill="#ece8de" opacity="0.85"/>
<ellipse cx="833.7" cy="386.5" rx="0.8" ry="0.8" fill="#8a6a52" opacity="0.85"/>
<ellipse cx="801.0" cy="402.7" rx="0.7" ry="0.6" fill="#8a7a68" opacity="0.85"/>
<ellipse cx="782.1" cy="374.9" rx="1.6" ry="0.7" fill="#6f675a" opacity="0.85"/>
<ellipse cx="821.0" cy="387.4" rx="0.8" ry="0.8" fill="#8a6a52" opacity="0.85"/>
<ellipse cx="780.5" cy="357.1" rx="0.8" ry="0.7" fill="#ece8de" opacity="0.85"/>
<ellipse cx="813.5" cy="377.7" rx="1.7" ry="0.6" fill="#c29266" opacity="0.85"/>
<ellipse cx="827.4" cy="377.0" rx="1.3" ry="0.4" fill="#8a6a52" opacity="0.85"/>
<ellipse cx="830.4" cy="378.7" rx="1.1" ry="0.7" fill="#3e2e25" opacity="0.85"/>
<ellipse cx="834.1" cy="388.4" rx="1.3" ry="0.8" fill="#c29266" opacity="0.85"/>
<ellipse cx="835.4" cy="364.6" rx="1.8" ry="0.6" fill="#a97b50" opacity="0.85"/>
<ellipse cx="799.9" cy="381.0" rx="0.8" ry="0.5" fill="#b98a5e" opacity="0.85"/>
<ellipse cx="772.2" cy="379.0" rx="1.6" ry="0.7" fill="#6f675a" opacity="0.85"/>
<ellipse cx="801.3" cy="380.8" rx="0.9" ry="0.9" fill="#a97b50" opacity="0.85"/>
<ellipse cx="778.1" cy="353.0" rx="1.8" ry="0.7" fill="#e0dbd0" opacity="0.85"/>
<ellipse cx="814.7" cy="365.4" rx="0.9" ry="0.5" fill="#a97b50" opacity="0.85"/>
<ellipse cx="775.8" cy="373.1" rx="1.4" ry="0.8" fill="#e0dbd0" opacity="0.85"/>
<ellipse cx="819.6" cy="395.4" rx="0.9" ry="0.4" fill="#8a6a52" opacity="0.85"/>
<ellipse cx="814.2" cy="378.2" rx="1.6" ry="0.8" fill="#8a6a52" opacity="0.85"/>
<ellipse cx="778.2" cy="394.1" rx="1.2" ry="0.5" fill="#6f675a" opacity="0.85"/>
<ellipse cx="791.1" cy="381.9" rx="1.2" ry="0.5" fill="#d2ccc0" opacity="0.85"/>
<ellipse cx="822.5" cy="359.1" rx="0.8" ry="0.4" fill="#b98a5e" opacity="0.85"/>
<ellipse cx="780.1" cy="392.7" rx="1.6" ry="0.5" fill="#e0dbd0" opacity="0.85"/>
<ellipse cx="792.8" cy="352.4" rx="1.4" ry="0.4" fill="#c29266" opacity="0.85"/>
<ellipse cx="832.9" cy="379.8" rx="1.5" ry="0.5" fill="#5b4232" opacity="0.85"/>
<ellipse cx="794.6" cy="368.5" rx="1.5" ry="0.6" fill="#a97b50" opacity="0.85"/>
<ellipse cx="819.4" cy="393.7" rx="1.2" ry="0.6" fill="#3e2e25" opacity="0.85"/>
<ellipse cx="781.5" cy="346.1" rx="0.9" ry="0.6" fill="#d2ccc0" opacity="0.85"/>
<ellipse cx="801.1" cy="373.1" rx="1.1" ry="0.8" fill="#3e2e25" opacity="0.85"/>
<ellipse cx="822.8" cy="352.6" rx="0.9" ry="0.5" fill="#b98a5e" opacity="0.85"/>
<ellipse cx="801.1" cy="349.5" rx="1.2" ry="0.5" fill="#8a6a52" opacity="0.85"/>
<ellipse cx="799.9" cy="358.9" rx="1.4" ry="0.6" fill="#5b4232" opacity="0.85"/>
<ellipse cx="773.4" cy="395.0" rx="1.7" ry="0.6" fill="#6f675a" opacity="0.85"/>
<ellipse cx="777.5" cy="361.0" rx="1.6" ry="0.7" fill="#e0dbd0" opacity="0.85"/>
<ellipse cx="810.0" cy="394.5" rx="0.8" ry="0.8" fill="#c29266" opacity="0.85"/>
<ellipse cx="806.8" cy="374.0" rx="1.7" ry="0.7" fill="#5b4232" opacity="0.85"/>
<ellipse cx="809.8" cy="357.7" rx="1.8" ry="0.4" fill="#5b4232" opacity="0.85"/>
<ellipse cx="790.6" cy="372.3" rx="0.9" ry="0.9" fill="#6f675a" opacity="0.85"/>
<ellipse cx="799.2" cy="384.2" rx="1.5" ry="0.6" fill="#c29266" opacity="0.85"/>
<ellipse cx="810.6" cy="349.5" rx="0.9" ry="0.7" fill="#c29266" opacity="0.85"/>
<ellipse cx="785.0" cy="400.5" rx="0.7" ry="0.7" fill="#e0dbd0" opacity="0.85"/>
<ellipse cx="802.4" cy="390.9" rx="1.1" ry="0.9" fill="#8a6a52" opacity="0.85"/>
<ellipse cx="806.3" cy="399.7" rx="0.8" ry="0.9" fill="#c29266" opacity="0.85"/>
<ellipse cx="811.9" cy="373.8" rx="1.3" ry="0.7" fill="#8a6a52" opacity="0.85"/>
<ellipse cx="776.1" cy="395.5" rx="0.9" ry="0.8" fill="#8a7a68" opacity="0.85"/>
<ellipse cx="773.9" cy="389.5" rx="1.7" ry="0.6" fill="#d2ccc0" opacity="0.85"/>
<ellipse cx="774.4" cy="397.4" rx="1.0" ry="0.8" fill="#e0dbd0" opacity="0.85"/>
<ellipse cx="807.8" cy="355.2" rx="1.6" ry="0.8" fill="#5b4232" opacity="0.85"/>
<ellipse cx="773.2" cy="381.1" rx="0.9" ry="0.6" fill="#6f675a" opacity="0.85"/>
<ellipse cx="785.2" cy="407.6" rx="1.4" ry="0.5" fill="#ece8de" opacity="0.85"/>
<ellipse cx="803.8" cy="353.2" rx="1.4" ry="0.6" fill="#b98a5e" opacity="0.85"/>
<ellipse cx="819.4" cy="357.9" rx="1.5" ry="0.6" fill="#a97b50" opacity="0.85"/>
<ellipse cx="786.0" cy="407.9" rx="1.4" ry="0.9" fill="#4c453c" opacity="0.85"/>
<ellipse cx="781.7" cy="385.0" rx="1.5" ry="0.8" fill="#8a7a68" opacity="0.85"/>
<ellipse cx="829.1" cy="381.9" rx="1.5" ry="0.7" fill="#b98a5e" opacity="0.85"/>
<ellipse cx="777.3" cy="390.8" rx="1.6" ry="0.6" fill="#d2ccc0" opacity="0.85"/>
<ellipse cx="800.1" cy="394.2" rx="1.2" ry="0.8" fill="#6f675a" opacity="0.85"/>
<ellipse cx="779.3" cy="373.4" rx="1.5" ry="0.8" fill="#e0dbd0" opacity="0.85"/>
<ellipse cx="784.6" cy="347.3" rx="1.8" ry="0.7" fill="#4c453c" opacity="0.85"/>
<ellipse cx="813.2" cy="402.5" rx="1.4" ry="0.4" fill="#b98a5e" opacity="0.85"/>
<ellipse cx="825.1" cy="382.0" rx="1.1" ry="0.9" fill="#c29266" opacity="0.85"/>
<ellipse cx="773.2" cy="370.8" rx="0.9" ry="0.8" fill="#ece8de" opacity="0.85"/>
<ellipse cx="802.1" cy="350.4" rx="0.8" ry="0.6" fill="#a97b50" opacity="0.85"/>
<ellipse cx="814.1" cy="387.2" rx="1.5" ry="0.6" fill="#5b4232" opacity="0.85"/>
<ellipse cx="810.9" cy="381.7" rx="1.2" ry="0.8" fill="#a97b50" opacity="0.85"/>
<ellipse cx="837.1" cy="367.1" rx="1.8" ry="0.4" fill="#b98a5e" opacity="0.85"/>
<ellipse cx="799.6" cy="371.4" rx="1.4" ry="0.9" fill="#a97b50" opacity="0.85"/>
<ellipse cx="782.6" cy="381.6" rx="1.1" ry="0.5" fill="#ece8de" opacity="0.85"/>
<ellipse cx="805.7" cy="392.2" rx="1.2" ry="0.5" fill="#b98a5e" opacity="0.85"/>
<ellipse cx="785.1" cy="381.8" rx="1.0" ry="0.4" fill="#4c453c" opacity="0.85"/>
<ellipse cx="802.7" cy="358.2" rx="1.5" ry="0.6" fill="#a97b50" opacity="0.85"/>
<ellipse cx="776.8" cy="384.0" rx="1.4" ry="0.7" fill="#e0dbd0" opacity="0.85"/>
<ellipse cx="818.9" cy="366.0" rx="1.7" ry="0.4" fill="#3e2e25" opacity="0.85"/>
<ellipse cx="783.3" cy="366.4" rx="1.5" ry="0.8" fill="#6f675a" opacity="0.85"/>
<ellipse cx="801.2" cy="402.5" rx="1.5" ry="0.6" fill="#e0dbd0" opacity="0.85"/>
<ellipse cx="797.1" cy="356.3" rx="1.5" ry="0.7" fill="#3e2e25" opacity="0.85"/>
<ellipse cx="788.9" cy="399.7" rx="1.2" ry="0.4" fill="#d2ccc0" opacity="0.85"/>
<ellipse cx="793.4" cy="356.5" rx="0.9" ry="0.6" fill="#5b4232" opacity="0.85"/>
<ellipse cx="832.7" cy="397.5" rx="1.4" ry="0.4" fill="#8a6a52" opacity="0.85"/>
<ellipse cx="822.2" cy="357.8" rx="1.8" ry="0.4" fill="#3e2e25" opacity="0.85"/>
<ellipse cx="821.7" cy="361.0" rx="1.2" ry="0.6" fill="#a97b50" opacity="0.85"/>
<ellipse cx="827.4" cy="365.5" rx="0.8" ry="0.6" fill="#3e2e25" opacity="0.85"/>
<ellipse cx="816.2" cy="399.6" rx="1.2" ry="0.5" fill="#a97b50" opacity="0.85"/>
<ellipse cx="776.5" cy="353.3" rx="0.9" ry="0.4" fill="#e0dbd0" opacity="0.85"/>
<ellipse cx="816.6" cy="370.7" rx="1.4" ry="0.6" fill="#5b4232" opacity="0.85"/>
<ellipse cx="777.4" cy="366.3" rx="1.2" ry="0.6" fill="#4c453c" opacity="0.85"/>
<ellipse cx="799.1" cy="368.7" rx="1.3" ry="0.5" fill="#c29266" opacity="0.85"/>
<ellipse cx="825.2" cy="369.3" rx="0.8" ry="0.5" fill="#8a6a52" opacity="0.85"/>
<ellipse cx="829.2" cy="367.9" rx="1.4" ry="0.7" fill="#b98a5e" opacity="0.85"/>
<ellipse cx="796.2" cy="381.9" rx="1.5" ry="0.6" fill="#4c453c" opacity="0.85"/>
<ellipse cx="782.7" cy="386.5" rx="1.7" ry="0.8" fill="#8a7a68" opacity="0.85"/>
<ellipse cx="830.5" cy="352.4" rx="0.9" ry="0.7" fill="#b98a5e" opacity="0.85"/>
<ellipse cx="815.0" cy="371.4" rx="1.3" ry="0.5" fill="#b98a5e" opacity="0.85"/>
<ellipse cx="810.5" cy="399.5" rx="1.5" ry="0.4" fill="#c29266" opacity="0.85"/>
<ellipse cx="828.1" cy="397.1" rx="1.6" ry="0.9" fill="#c29266" opacity="0.85"/>
<ellipse cx="797.5" cy="363.8" rx="1.7" ry="0.8" fill="#3e2e25" opacity="0.85"/>
<ellipse cx="827.9" cy="348.7" rx="1.5" ry="0.9" fill="#a97b50" opacity="0.85"/>
<ellipse cx="823.3" cy="399.7" rx="1.7" ry="0.8" fill="#3e2e25" opacity="0.85"/>
<ellipse cx="796.9" cy="375.6" rx="1.3" ry="0.6" fill="#5b4232" opacity="0.85"/>
<ellipse cx="795.9" cy="371.7" rx="1.7" ry="0.9" fill="#a97b50" opacity="0.85"/>
<ellipse cx="838.4" cy="395.2" rx="0.7" ry="0.6" fill="#a97b50" opacity="0.85"/>
<ellipse cx="783.7" cy="358.6" rx="1.8" ry="0.9" fill="#8a7a68" opacity="0.85"/>
<ellipse cx="794.5" cy="379.6" rx="1.3" ry="0.5" fill="#4c453c" opacity="0.85"/>
<ellipse cx="811.6" cy="401.7" rx="1.2" ry="0.5" fill="#a97b50" opacity="0.85"/>
<ellipse cx="832.9" cy="381.4" rx="0.9" ry="0.5" fill="#3e2e25" opacity="0.85"/>
<ellipse cx="838.7" cy="350.5" rx="1.6" ry="0.8" fill="#a97b50" opacity="0.85"/>
<ellipse cx="802.1" cy="368.6" rx="1.4" ry="0.8" fill="#5b4232" opacity="0.85"/>
<ellipse cx="807.9" cy="371.7" rx="1.6" ry="0.6" fill="#3e2e25" opacity="0.85"/>
<ellipse cx="793.9" cy="385.2" rx="0.8" ry="0.5" fill="#ece8de" opacity="0.85"/>
<ellipse cx="800.8" cy="396.0" rx="1.1" ry="0.7" fill="#6f675a" opacity="0.85"/>
<ellipse cx="785.8" cy="381.2" rx="1.5" ry="0.6" fill="#ece8de" opacity="0.85"/>
<ellipse cx="832.4" cy="381.2" rx="1.5" ry="0.6" fill="#a97b50" opacity="0.85"/>
<ellipse cx="831.3" cy="402.8" rx="1.4" ry="0.4" fill="#a97b50" opacity="0.85"/>
<ellipse cx="775.6" cy="391.6" rx="1.6" ry="0.5" fill="#8a7a68" opacity="0.85"/>
<ellipse cx="809.6" cy="347.2" rx="1.2" ry="0.5" fill="#c29266" opacity="0.85"/>
<ellipse cx="772.8" cy="405.6" rx="1.7" ry="0.7" fill="#e0dbd0" opacity="0.85"/>
<ellipse cx="792.1" cy="364.5" rx="1.6" ry="0.7" fill="#8a7a68" opacity="0.85"/>
<ellipse cx="837.1" cy="373.6" rx="1.1" ry="0.8" fill="#3e2e25" opacity="0.85"/>
<ellipse cx="834.0" cy="376.1" rx="1.7" ry="0.7" fill="#b98a5e" opacity="0.85"/>
<ellipse cx="781.7" cy="352.5" rx="1.7" ry="0.7" fill="#8a7a68" opacity="0.85"/>
<ellipse cx="773.8" cy="362.7" rx="1.0" ry="0.7" fill="#e0dbd0" opacity="0.85"/>
<ellipse cx="814.3" cy="368.1" rx="1.0" ry="0.5" fill="#5b4232" opacity="0.85"/>
<ellipse cx="794.0" cy="369.7" rx="0.8" ry="0.7" fill="#a97b50" opacity="0.85"/>
<ellipse cx="837.3" cy="387.4" rx="1.8" ry="0.6" fill="#c29266" opacity="0.85"/>
<ellipse cx="789.3" cy="351.2" rx="1.4" ry="0.4" fill="#8a6a52" opacity="0.85"/>
<ellipse cx="790.2" cy="375.4" rx="1.4" ry="0.8" fill="#4c453c" opacity="0.85"/>
<ellipse cx="836.0" cy="361.5" rx="0.7" ry="0.7" fill="#8a6a52" opacity="0.85"/>
<ellipse cx="794.3" cy="378.2" rx="1.0" ry="0.5" fill="#e0dbd0" opacity="0.85"/>
<ellipse cx="800.5" cy="379.1" rx="0.9" ry="0.5" fill="#5b4232" opacity="0.85"/>
<ellipse cx="803.8" cy="407.5" rx="0.9" ry="0.7" fill="#4c453c" opacity="0.85"/>
<ellipse cx="782.0" cy="366.2" rx="1.1" ry="0.5" fill="#8a7a68" opacity="0.85"/>
<ellipse cx="810.2" cy="382.4" rx="1.2" ry="0.6" fill="#8a6a52" opacity="0.85"/>
<ellipse cx="810.4" cy="346.1" rx="1.3" ry="0.8" fill="#a97b50" opacity="0.85"/>
<ellipse cx="806.2" cy="370.2" rx="1.3" ry="0.4" fill="#3e2e25" opacity="0.85"/>
<ellipse cx="775.5" cy="371.6" rx="1.1" ry="0.5" fill="#e0dbd0" opacity="0.85"/>
<ellipse cx="775.9" cy="384.3" rx="1.5" ry="0.7" fill="#4c453c" opacity="0.85"/>
<ellipse cx="830.4" cy="371.6" rx="1.3" ry="0.8" fill="#c29266" opacity="0.85"/>
<ellipse cx="786.5" cy="392.2" rx="1.6" ry="0.9" fill="#d2ccc0" opacity="0.85"/>
<ellipse cx="775.1" cy="359.6" rx="1.8" ry="0.8" fill="#4c453c" opacity="0.85"/>
<ellipse cx="823.3" cy="363.3" rx="1.0" ry="0.7" fill="#8a6a52" opacity="0.85"/>
<ellipse cx="776.1" cy="371.6" rx="1.5" ry="0.5" fill="#8a7a68" opacity="0.85"/>
<ellipse cx="779.7" cy="368.1" rx="1.4" ry="0.6" fill="#6f675a" opacity="0.85"/>
<ellipse cx="793.5" cy="353.9" rx="1.6" ry="0.7" fill="#b98a5e" opacity="0.85"/>
<ellipse cx="823.2" cy="365.5" rx="1.1" ry="0.6" fill="#5b4232" opacity="0.85"/>
<ellipse cx="831.7" cy="348.3" rx="1.1" ry="0.6" fill="#c29266" opacity="0.85"/>
<ellipse cx="819.9" cy="400.7" rx="0.8" ry="0.9" fill="#8a6a52" opacity="0.85"/>
<ellipse cx="833.3" cy="376.3" rx="1.8" ry="0.4" fill="#a97b50" opacity="0.85"/>
<ellipse cx="809.5" cy="377.0" rx="1.0" ry="0.4" fill="#a97b50" opacity="0.85"/>
<ellipse cx="837.2" cy="374.3" rx="1.8" ry="0.7" fill="#c29266" opacity="0.85"/>
<ellipse cx="780.3" cy="399.0" rx="1.1" ry="0.7" fill="#e0dbd0" opacity="0.85"/>
<ellipse cx="774.8" cy="379.9" rx="1.1" ry="0.5" fill="#8a7a68" opacity="0.85"/>
<ellipse cx="813.3" cy="357.1" rx="1.6" ry="0.7" fill="#5b4232" opacity="0.85"/>
<ellipse cx="827.4" cy="370.9" rx="0.9" ry="0.7" fill="#5b4232" opacity="0.85"/>
<ellipse cx="819.0" cy="357.1" rx="1.3" ry="0.7" fill="#8a6a52" opacity="0.85"/>
<ellipse cx="785.6" cy="362.2" rx="0.8" ry="0.4" fill="#d2ccc0" opacity="0.85"/>
<ellipse cx="776.0" cy="397.7" rx="0.7" ry="0.7" fill="#e0dbd0" opacity="0.85"/>
<ellipse cx="795.2" cy="359.1" rx="1.6" ry="0.7" fill="#8a6a52" opacity="0.85"/>
<ellipse cx="833.7" cy="401.2" rx="1.0" ry="0.5" fill="#a97b50" opacity="0.85"/>
<ellipse cx="783.8" cy="396.7" rx="0.9" ry="0.7" fill="#4c453c" opacity="0.85"/>
<ellipse cx="836.3" cy="389.5" rx="1.4" ry="0.6" fill="#b98a5e" opacity="0.85"/>
<ellipse cx="838.2" cy="359.4" rx="1.1" ry="0.5" fill="#8a6a52" opacity="0.85"/>
<ellipse cx="775.3" cy="367.8" rx="0.9" ry="0.9" fill="#8a7a68" opacity="0.85"/>
<ellipse cx="772.1" cy="381.9" rx="1.7" ry="0.5" fill="#e0dbd0" opacity="0.85"/>
<ellipse cx="778.3" cy="361.7" rx="1.4" ry="0.6" fill="#6f675a" opacity="0.85"/>
<ellipse cx="792.6" cy="367.1" rx="1.6" ry="0.8" fill="#d2ccc0" opacity="0.85"/>
<ellipse cx="817.2" cy="385.7" rx="1.7" ry="0.6" fill="#8a6a52" opacity="0.85"/>
<ellipse cx="817.8" cy="403.5" rx="0.8" ry="0.7" fill="#b98a5e" opacity="0.85"/>
<ellipse cx="834.0" cy="405.7" rx="1.0" ry="0.7" fill="#c29266" opacity="0.85"/>
<ellipse cx="773.1" cy="361.7" rx="1.5" ry="0.6" fill="#4c453c" opacity="0.85"/>
<ellipse cx="792.2" cy="394.6" rx="1.5" ry="0.5" fill="#d2ccc0" opacity="0.85"/>
<ellipse cx="782.2" cy="384.6" rx="1.8" ry="0.9" fill="#6f675a" opacity="0.85"/>
<ellipse cx="787.4" cy="400.8" rx="1.1" ry="0.9" fill="#ece8de" opacity="0.85"/>
<ellipse cx="780.6" cy="359.0" rx="0.8" ry="0.5" fill="#d2ccc0" opacity="0.85"/>
<ellipse cx="834.7" cy="394.7" rx="1.8" ry="0.7" fill="#b98a5e" opacity="0.85"/>
<ellipse cx="829.4" cy="382.6" rx="0.9" ry="0.6" fill="#3e2e25" opacity="0.85"/>
<ellipse cx="820.5" cy="364.8" rx="0.8" ry="0.4" fill="#5b4232" opacity="0.85"/>
<ellipse cx="772.9" cy="380.5" rx="1.4" ry="0.5" fill="#4c453c" opacity="0.85"/>
<ellipse cx="786.1" cy="377.7" rx="0.9" ry="0.5" fill="#4c453c" opacity="0.85"/>
<ellipse cx="828.7" cy="396.3" rx="1.2" ry="0.6" fill="#a97b50" opacity="0.85"/>
<ellipse cx="796.5" cy="376.6" rx="1.3" ry="0.4" fill="#5b4232" opacity="0.85"/>
<ellipse cx="806.6" cy="356.7" rx="0.9" ry="0.6" fill="#b98a5e" opacity="0.85"/>
<ellipse cx="817.8" cy="397.5" rx="1.3" ry="0.9" fill="#c29266" opacity="0.85"/>
<ellipse cx="821.0" cy="360.1" rx="1.3" ry="0.9" fill="#3e2e25" opacity="0.85"/>
<ellipse cx="781.6" cy="396.2" rx="1.0" ry="0.7" fill="#6f675a" opacity="0.85"/>
<ellipse cx="777.3" cy="350.2" rx="0.9" ry="0.5" fill="#d2ccc0" opacity="0.85"/>
<ellipse cx="813.2" cy="405.8" rx="1.0" ry="0.7" fill="#b98a5e" opacity="0.85"/>
<ellipse cx="822.0" cy="377.9" rx="1.6" ry="0.7" fill="#5b4232" opacity="0.85"/>
<ellipse cx="832.1" cy="407.8" rx="1.3" ry="0.6" fill="#c29266" opacity="0.85"/>
<ellipse cx="791.6" cy="392.7" rx="1.0" ry="0.7" fill="#4c453c" opacity="0.85"/>
<ellipse cx="821.5" cy="388.2" rx="1.0" ry="0.8" fill="#c29266" opacity="0.85"/>
<ellipse cx="813.1" cy="373.2" rx="1.6" ry="0.5" fill="#8a6a52" opacity="0.85"/>
<ellipse cx="829.9" cy="346.4" rx="0.7" ry="0.7" fill="#8a6a52" opacity="0.85"/>
<ellipse cx="790.6" cy="356.1" rx="0.9" ry="0.5" fill="#b98a5e" opacity="0.85"/>
<ellipse cx="824.5" cy="349.2" rx="1.1" ry="0.7" fill="#a97b50" opacity="0.85"/>
<ellipse cx="816.8" cy="368.3" rx="1.8" ry="0.6" fill="#a97b50" opacity="0.85"/>
<ellipse cx="828.2" cy="356.4" rx="1.1" ry="0.7" fill="#c29266" opacity="0.85"/>
<ellipse cx="818.9" cy="355.9" rx="1.5" ry="0.6" fill="#3e2e25" opacity="0.85"/>
<ellipse cx="798.9" cy="382.5" rx="0.9" ry="0.6" fill="#5b4232" opacity="0.85"/>
<ellipse cx="777.9" cy="393.8" rx="1.5" ry="0.5" fill="#6f675a" opacity="0.85"/>
<ellipse cx="812.0" cy="348.0" rx="1.4" ry="0.4" fill="#5b4232" opacity="0.85"/>
<ellipse cx="784.5" cy="369.4" rx="0.9" ry="0.7" fill="#8a7a68" opacity="0.85"/>
<ellipse cx="822.8" cy="400.1" rx="1.1" ry="0.9" fill="#3e2e25" opacity="0.85"/>
<ellipse cx="835.1" cy="389.0" rx="0.8" ry="0.8" fill="#c29266" opacity="0.85"/>
<ellipse cx="817.9" cy="350.4" rx="1.7" ry="0.8" fill="#a97b50" opacity="0.85"/>
<ellipse cx="839.1" cy="392.6" rx="1.6" ry="0.4" fill="#c29266" opacity="0.85"/>
<ellipse cx="816.2" cy="370.6" rx="1.6" ry="0.9" fill="#8a6a52" opacity="0.85"/>
<ellipse cx="791.5" cy="366.7" rx="1.2" ry="0.8" fill="#d2ccc0" opacity="0.85"/>
<ellipse cx="797.4" cy="349.4" rx="1.0" ry="0.8" fill="#3e2e25" opacity="0.85"/>
<ellipse cx="794.0" cy="367.3" rx="1.3" ry="0.6" fill="#b98a5e" opacity="0.85"/>
<ellipse cx="830.2" cy="382.4" rx="0.9" ry="0.9" fill="#8a6a52" opacity="0.85"/>
<ellipse cx="782.6" cy="367.4" rx="1.2" ry="0.5" fill="#ece8de" opacity="0.85"/>
<ellipse cx="794.0" cy="402.8" rx="1.6" ry="0.7" fill="#e0dbd0" opacity="0.85"/>
<ellipse cx="786.4" cy="392.3" rx="1.7" ry="0.6" fill="#8a7a68" opacity="0.85"/>
<ellipse cx="814.5" cy="378.8" rx="1.7" ry="0.6" fill="#a97b50" opacity="0.85"/>
<ellipse cx="781.4" cy="383.2" rx="1.7" ry="0.8" fill="#4c453c" opacity="0.85"/>
<ellipse cx="804.4" cy="397.3" rx="1.0" ry="0.4" fill="#a97b50" opacity="0.85"/>
<ellipse cx="830.7" cy="395.0" rx="1.4" ry="0.7" fill="#5b4232" opacity="0.85"/>
<ellipse cx="797.4" cy="391.5" rx="0.8" ry="0.5" fill="#d2ccc0" opacity="0.85"/>
<ellipse cx="778.6" cy="361.6" rx="1.0" ry="0.6" fill="#8a7a68" opacity="0.85"/>
<ellipse cx="782.4" cy="346.0" rx="1.0" ry="0.7" fill="#6f675a" opacity="0.85"/>
<ellipse cx="839.4" cy="353.5" rx="1.5" ry="0.6" fill="#c29266" opacity="0.85"/>
<ellipse cx="786.3" cy="377.4" rx="0.8" ry="0.9" fill="#e0dbd0" opacity="0.85"/>
<ellipse cx="777.5" cy="386.0" rx="0.7" ry="0.5" fill="#8a7a68" opacity="0.85"/>
<ellipse cx="813.1" cy="347.8" rx="1.2" ry="0.7" fill="#5b4232" opacity="0.85"/>
<ellipse cx="837.0" cy="376.0" rx="1.4" ry="0.8" fill="#b98a5e" opacity="0.85"/>
<ellipse cx="814.4" cy="354.3" rx="1.6" ry="0.6" fill="#5b4232" opacity="0.85"/>
<ellipse cx="774.1" cy="367.8" rx="1.0" ry="0.8" fill="#6f675a" opacity="0.85"/>
<ellipse cx="800.0" cy="358.0" rx="1.4" ry="0.4" fill="#3e2e25" opacity="0.85"/>
<ellipse cx="781.9" cy="404.5" rx="1.2" ry="0.6" fill="#8a7a68" opacity="0.85"/>
<ellipse cx="782.1" cy="406.4" rx="1.1" ry="0.5" fill="#6f675a" opacity="0.85"/>
<ellipse cx="814.8" cy="361.1" rx="0.7" ry="0.7" fill="#a97b50" opacity="0.85"/>
<ellipse cx="822.6" cy="366.6" rx="0.9" ry="0.5" fill="#8a6a52" opacity="0.85"/>
<ellipse cx="815.5" cy="364.6" rx="0.9" ry="0.7" fill="#a97b50" opacity="0.85"/>
<ellipse cx="779.7" cy="380.9" rx="1.1" ry="0.7" fill="#6f675a" opacity="0.85"/>
<ellipse cx="774.9" cy="375.9" rx="0.7" ry="0.7" fill="#6f675a" opacity="0.85"/>
<ellipse cx="804.1" cy="368.5" rx="1.7" ry="0.8" fill="#8a6a52" opacity="0.85"/>
<ellipse cx="820.0" cy="405.7" rx="0.9" ry="0.4" fill="#c29266" opacity="0.85"/>
<ellipse cx="810.2" cy="373.0" rx="1.7" ry="0.6" fill="#3e2e25" opacity="0.85"/>
<ellipse cx="781.1" cy="402.1" rx="1.0" ry="0.6" fill="#ece8de" opacity="0.85"/>
<ellipse cx="835.3" cy="353.1" rx="0.7" ry="0.5" fill="#3e2e25" opacity="0.85"/>
<ellipse cx="798.9" cy="384.9" rx="1.2" ry="0.7" fill="#b98a5e" opacity="0.85"/>
<ellipse cx="787.3" cy="347.0" rx="1.3" ry="0.4" fill="#c29266" opacity="0.85"/>
<ellipse cx="800.4" cy="402.5" rx="1.7" ry="0.5" fill="#ece8de" opacity="0.85"/>
<ellipse cx="816.5" cy="389.2" rx="0.9" ry="0.5" fill="#a97b50" opacity="0.85"/>
<ellipse cx="784.1" cy="379.3" rx="1.1" ry="0.6" fill="#6f675a" opacity="0.85"/>
<ellipse cx="799.9" cy="352.2" rx="1.0" ry="0.6" fill="#8a6a52" opacity="0.85"/>
<ellipse cx="783.3" cy="354.5" rx="0.7" ry="0.8" fill="#8a7a68" opacity="0.85"/>
<ellipse cx="819.9" cy="367.9" rx="1.2" ry="0.7" fill="#8a6a52" opacity="0.85"/>
<ellipse cx="783.4" cy="377.8" rx="0.8" ry="0.5" fill="#d2ccc0" opacity="0.85"/>
<ellipse cx="791.6" cy="363.5" rx="1.0" ry="0.7" fill="#6f675a" opacity="0.85"/>
<ellipse cx="830.2" cy="370.3" rx="1.0" ry="0.7" fill="#8a6a52" opacity="0.85"/>
<ellipse cx="800.2" cy="395.8" rx="1.6" ry="0.5" fill="#ece8de" opacity="0.85"/>
<ellipse cx="808.1" cy="371.4" rx="1.3" ry="0.9" fill="#5b4232" opacity="0.85"/>
<ellipse cx="827.9" cy="352.9" rx="1.7" ry="0.7" fill="#8a6a52" opacity="0.85"/>
<ellipse cx="777.2" cy="357.9" rx="1.4" ry="0.5" fill="#4c453c" opacity="0.85"/>
<ellipse cx="819.7" cy="384.6" rx="1.5" ry="0.6" fill="#3e2e25" opacity="0.85"/>
<ellipse cx="798.3" cy="406.9" rx="1.0" ry="0.4" fill="#8a7a68" opacity="0.85"/>
<ellipse cx="834.1" cy="393.5" rx="1.5" ry="0.4" fill="#c29266" opacity="0.85"/>
<ellipse cx="824.2" cy="388.7" rx="0.9" ry="0.7" fill="#c29266" opacity="0.85"/>
<ellipse cx="820.9" cy="397.3" rx="1.8" ry="0.8" fill="#5b4232" opacity="0.85"/>
<ellipse cx="792.6" cy="371.9" rx="1.7" ry="0.8" fill="#6f675a" opacity="0.85"/>
<ellipse cx="775.6" cy="372.6" rx="0.8" ry="0.8" fill="#6f675a" opacity="0.85"/>
<ellipse cx="831.6" cy="394.2" rx="0.9" ry="0.8" fill="#8a6a52" opacity="0.85"/>
<ellipse cx="822.6" cy="355.5" rx="0.9" ry="0.7" fill="#c29266" opacity="0.85"/>
<ellipse cx="786.0" cy="360.4" rx="1.6" ry="0.5" fill="#e0dbd0" opacity="0.85"/>
<ellipse cx="838.9" cy="355.5" rx="1.0" ry="0.7" fill="#c29266" opacity="0.85"/>
<ellipse cx="809.3" cy="395.3" rx="1.6" ry="0.8" fill="#3e2e25" opacity="0.85"/>
<ellipse cx="808.3" cy="357.1" rx="1.2" ry="0.5" fill="#a97b50" opacity="0.85"/>
<ellipse cx="839.7" cy="372.1" rx="1.2" ry="0.5" fill="#8a6a52" opacity="0.85"/>
<ellipse cx="784.9" cy="390.4" rx="0.9" ry="0.6" fill="#ece8de" opacity="0.85"/>
<ellipse cx="813.9" cy="391.9" rx="0.8" ry="0.6" fill="#a97b50" opacity="0.85"/>
<ellipse cx="801.1" cy="394.1" rx="1.7" ry="0.5" fill="#ece8de" opacity="0.85"/>
<ellipse cx="776.5" cy="360.8" rx="1.2" ry="0.5" fill="#e0dbd0" opacity="0.85"/>
<ellipse cx="776.5" cy="352.2" rx="0.9" ry="0.6" fill="#ece8de" opacity="0.85"/>
<ellipse cx="800.2" cy="353.5" rx="1.2" ry="0.5" fill="#c29266" opacity="0.85"/>
<ellipse cx="789.7" cy="356.0" rx="1.2" ry="0.6" fill="#c29266" opacity="0.85"/>
<ellipse cx="818.9" cy="394.7" rx="0.9" ry="0.8" fill="#b98a5e" opacity="0.85"/>
<ellipse cx="782.9" cy="355.5" rx="1.4" ry="0.6" fill="#ece8de" opacity="0.85"/>
<ellipse cx="822.4" cy="387.0" rx="1.6" ry="0.5" fill="#3e2e25" opacity="0.85"/>
<ellipse cx="797.8" cy="393.9" rx="1.4" ry="0.6" fill="#d2ccc0" opacity="0.85"/>
<ellipse cx="801.0" cy="403.5" rx="1.2" ry="0.5" fill="#6f675a" opacity="0.85"/>
<ellipse cx="778.5" cy="362.9" rx="1.1" ry="0.8" fill="#d2ccc0" opacity="0.85"/>
<ellipse cx="822.8" cy="354.5" rx="1.0" ry="0.5" fill="#b98a5e" opacity="0.85"/>
<ellipse cx="775.4" cy="378.0" rx="0.9" ry="0.8" fill="#d2ccc0" opacity="0.85"/>
<ellipse cx="783.1" cy="377.6" rx="1.4" ry="0.5" fill="#6f675a" opacity="0.85"/>
<ellipse cx="815.2" cy="391.4" rx="1.1" ry="0.7" fill="#5b4232" opacity="0.85"/>
<ellipse cx="782.2" cy="355.9" rx="0.7" ry="0.8" fill="#8a7a68" opacity="0.85"/>
<ellipse cx="799.1" cy="406.9" rx="1.0" ry="0.8" fill="#6f675a" opacity="0.85"/>
<ellipse cx="818.7" cy="395.8" rx="1.5" ry="0.4" fill="#5b4232" opacity="0.85"/>
<ellipse cx="778.4" cy="364.7" rx="1.1" ry="0.7" fill="#ece8de" opacity="0.85"/>
<ellipse cx="835.4" cy="356.1" rx="1.4" ry="0.9" fill="#8a6a52" opacity="0.85"/>
<ellipse cx="782.6" cy="358.4" rx="0.8" ry="0.7" fill="#e0dbd0" opacity="0.85"/>
<ellipse cx="811.9" cy="363.1" rx="1.0" ry="0.6" fill="#3e2e25" opacity="0.85"/>
<ellipse cx="809.9" cy="347.7" rx="1.4" ry="0.5" fill="#5b4232" opacity="0.85"/>
<ellipse cx="834.2" cy="393.6" rx="0.9" ry="0.9" fill="#8a6a52" opacity="0.85"/>
<ellipse cx="786.9" cy="354.4" rx="0.7" ry="0.4" fill="#d2ccc0" opacity="0.85"/>
<ellipse cx="812.8" cy="378.8" rx="1.4" ry="0.8" fill="#a97b50" opacity="0.85"/>
<ellipse cx="817.6" cy="370.5" rx="1.3" ry="0.7" fill="#b98a5e" opacity="0.85"/>
<ellipse cx="811.8" cy="372.1" rx="1.2" ry="0.7" fill="#b98a5e" opacity="0.85"/>
<ellipse cx="833.7" cy="380.3" rx="1.3" ry="0.8" fill="#b98a5e" opacity="0.85"/>
<ellipse cx="798.6" cy="405.4" rx="0.8" ry="0.9" fill="#ece8de" opacity="0.85"/>
<ellipse cx="810.4" cy="374.5" rx="1.3" ry="0.8" fill="#5b4232" opacity="0.85"/>
<ellipse cx="810.5" cy="356.8" rx="0.9" ry="0.7" fill="#3e2e25" opacity="0.85"/>
<ellipse cx="787.4" cy="350.3" rx="1.4" ry="0.6" fill="#4c453c" opacity="0.85"/>
<ellipse cx="833.8" cy="354.0" rx="1.4" ry="0.5" fill="#8a6a52" opacity="0.85"/>
<ellipse cx="795.6" cy="391.9" rx="1.2" ry="0.9" fill="#d2ccc0" opacity="0.85"/>
<ellipse cx="779.0" cy="385.5" rx="0.9" ry="0.4" fill="#e0dbd0" opacity="0.85"/>
<ellipse cx="820.8" cy="379.8" rx="1.2" ry="0.6" fill="#a97b50" opacity="0.85"/>
<ellipse cx="774.9" cy="375.7" rx="1.5" ry="0.6" fill="#8a7a68" opacity="0.85"/>
<ellipse cx="833.1" cy="354.3" rx="1.6" ry="0.8" fill="#b98a5e" opacity="0.85"/>
<ellipse cx="782.7" cy="406.1" rx="1.6" ry="0.6" fill="#e0dbd0" opacity="0.85"/>
<ellipse cx="816.4" cy="364.3" rx="0.9" ry="0.8" fill="#5b4232" opacity="0.85"/>
<ellipse cx="774.5" cy="365.9" rx="0.8" ry="0.8" fill="#4c453c" opacity="0.85"/>
<ellipse cx="815.1" cy="368.2" rx="0.7" ry="0.8" fill="#8a6a52" opacity="0.85"/>
<ellipse cx="790.3" cy="387.8" rx="0.7" ry="0.6" fill="#ece8de" opacity="0.85"/>
<ellipse cx="782.9" cy="406.6" rx="1.1" ry="0.8" fill="#ece8de" opacity="0.85"/>
<ellipse cx="823.5" cy="401.3" rx="1.7" ry="0.5" fill="#5b4232" opacity="0.85"/>
<ellipse cx="801.5" cy="392.3" rx="1.7" ry="0.4" fill="#c29266" opacity="0.85"/>
<ellipse cx="820.7" cy="401.6" rx="1.6" ry="0.4" fill="#8a6a52" opacity="0.85"/>
<ellipse cx="827.9" cy="359.2" rx="1.6" ry="0.7" fill="#5b4232" opacity="0.85"/>
<ellipse cx="783.8" cy="396.4" rx="1.4" ry="0.5" fill="#4c453c" opacity="0.85"/>
<ellipse cx="806.9" cy="387.0" rx="1.2" ry="0.7" fill="#a97b50" opacity="0.85"/>
<ellipse cx="797.5" cy="359.3" rx="0.8" ry="0.9" fill="#b98a5e" opacity="0.85"/>
<ellipse cx="780.6" cy="400.6" rx="1.7" ry="0.6" fill="#8a7a68" opacity="0.85"/>
<ellipse cx="807.5" cy="380.3" rx="1.2" ry="0.5" fill="#5b4232" opacity="0.85"/>
<ellipse cx="781.0" cy="380.1" rx="0.9" ry="0.8" fill="#8a7a68" opacity="0.85"/>
<ellipse cx="827.2" cy="351.1" rx="1.1" ry="0.7" fill="#3e2e25" opacity="0.85"/>
<ellipse cx="820.4" cy="359.1" rx="1.7" ry="0.9" fill="#a97b50" opacity="0.85"/>
<ellipse cx="804.1" cy="401.1" rx="1.8" ry="0.5" fill="#e0dbd0" opacity="0.85"/>
<ellipse cx="833.4" cy="353.3" rx="1.5" ry="0.5" fill="#a97b50" opacity="0.85"/>
<ellipse cx="816.3" cy="374.3" rx="0.8" ry="0.5" fill="#5b4232" opacity="0.85"/>
<ellipse cx="790.9" cy="365.7" rx="1.3" ry="0.7" fill="#8a7a68" opacity="0.85"/>
<ellipse cx="821.2" cy="397.3" rx="1.6" ry="0.6" fill="#5b4232" opacity="0.85"/>
<ellipse cx="775.8" cy="349.2" rx="1.5" ry="0.7" fill="#ece8de" opacity="0.85"/>
<ellipse cx="798.4" cy="369.7" rx="1.3" ry="0.6" fill="#8a6a52" opacity="0.85"/>
<ellipse cx="822.9" cy="391.2" rx="0.7" ry="0.9" fill="#b98a5e" opacity="0.85"/>
<ellipse cx="822.2" cy="349.9" rx="0.8" ry="0.9" fill="#8a6a52" opacity="0.85"/>
<ellipse cx="821.1" cy="350.9" rx="1.2" ry="0.8" fill="#3e2e25" opacity="0.85"/>
<ellipse cx="788.6" cy="393.7" rx="1.6" ry="0.9" fill="#8a7a68" opacity="0.85"/>
<ellipse cx="834.0" cy="389.0" rx="1.2" ry="0.5" fill="#b98a5e" opacity="0.85"/>
<ellipse cx="786.2" cy="381.0" rx="1.3" ry="0.9" fill="#e0dbd0" opacity="0.85"/>
<ellipse cx="837.9" cy="352.0" rx="1.7" ry="0.4" fill="#8a6a52" opacity="0.85"/>
<ellipse cx="785.9" cy="354.3" rx="0.8" ry="0.8" fill="#4c453c" opacity="0.85"/>
<ellipse cx="781.1" cy="348.0" rx="1.5" ry="0.6" fill="#e0dbd0" opacity="0.85"/>
<ellipse cx="786.3" cy="389.9" rx="0.7" ry="0.7" fill="#8a7a68" opacity="0.85"/>
<ellipse cx="809.1" cy="374.9" rx="1.3" ry="0.6" fill="#3e2e25" opacity="0.85"/>
<ellipse cx="802.6" cy="373.0" rx="1.0" ry="0.9" fill="#c29266" opacity="0.85"/>
<ellipse cx="806.3" cy="373.9" rx="1.7" ry="0.6" fill="#8a6a52" opacity="0.85"/>
<ellipse cx="788.6" cy="378.6" rx="0.8" ry="0.6" fill="#ece8de" opacity="0.85"/>
<ellipse cx="805.6" cy="352.0" rx="1.1" ry="0.8" fill="#3e2e25" opacity="0.85"/>
<ellipse cx="786.2" cy="352.9" rx="1.3" ry="0.7" fill="#8a7a68" opacity="0.85"/>
<ellipse cx="825.0" cy="388.4" rx="1.4" ry="0.8" fill="#b98a5e" opacity="0.85"/>
<ellipse cx="793.9" cy="398.6" rx="1.5" ry="0.8" fill="#d2ccc0" opacity="0.85"/>
<ellipse cx="775.9" cy="398.7" rx="1.0" ry="0.7" fill="#6f675a" opacity="0.85"/>
<ellipse cx="833.5" cy="404.2" rx="1.1" ry="0.5" fill="#5b4232" opacity="0.85"/>
<ellipse cx="809.0" cy="363.0" rx="1.7" ry="0.6" fill="#8a6a52" opacity="0.85"/>
<ellipse cx="820.7" cy="347.5" rx="1.0" ry="0.8" fill="#5b4232" opacity="0.85"/>
<ellipse cx="830.7" cy="368.4" rx="1.6" ry="0.8" fill="#8a6a52" opacity="0.85"/>
<ellipse cx="829.0" cy="404.2" rx="0.7" ry="0.7" fill="#a97b50" opacity="0.85"/>
<ellipse cx="772.1" cy="392.1" rx="1.7" ry="0.5" fill="#4c453c" opacity="0.85"/>
<ellipse cx="780.0" cy="356.5" rx="0.9" ry="0.6" fill="#d2ccc0" opacity="0.85"/>
<ellipse cx="798.3" cy="359.7" rx="1.3" ry="0.4" fill="#c29266" opacity="0.85"/>
<ellipse cx="780.1" cy="394.5" rx="1.1" ry="0.5" fill="#8a7a68" opacity="0.85"/>
<ellipse cx="830.2" cy="388.5" rx="1.7" ry="0.9" fill="#5b4232" opacity="0.85"/>
<ellipse cx="805.3" cy="319.2" rx="0.9" ry="0.5" fill="#b09a86"/>
<ellipse cx="808.8" cy="325.6" rx="0.9" ry="0.5" fill="#b09a86"/>
<ellipse cx="805.7" cy="323.1" rx="0.9" ry="0.5" fill="#b09a86"/>
<ellipse cx="778.0" cy="319.6" rx="0.9" ry="0.5" fill="#b09a86"/>
<ellipse cx="787.6" cy="324.3" rx="0.9" ry="0.5" fill="#b09a86"/>
<ellipse cx="810.5" cy="318.4" rx="0.9" ry="0.5" fill="#4e3e33"/>
<ellipse cx="783.0" cy="319.3" rx="0.9" ry="0.5" fill="#b09a86"/>
<ellipse cx="789.3" cy="322.5" rx="0.9" ry="0.5" fill="#4e3e33"/>
<ellipse cx="776.1" cy="319.1" rx="0.9" ry="0.5" fill="#4e3e33"/>
<ellipse cx="792.6" cy="319.1" rx="0.9" ry="0.5" fill="#4e3e33"/>
<ellipse cx="804.2" cy="319.3" rx="0.9" ry="0.5" fill="#b09a86"/>
<ellipse cx="785.6" cy="323.9" rx="0.9" ry="0.5" fill="#b09a86"/>
<ellipse cx="808.7" cy="318.8" rx="0.9" ry="0.5" fill="#4e3e33"/>
<ellipse cx="788.6" cy="319.0" rx="0.9" ry="0.5" fill="#b09a86"/>
<ellipse cx="779.4" cy="321.3" rx="0.9" ry="0.5" fill="#b09a86"/>
<ellipse cx="809.5" cy="324.8" rx="0.9" ry="0.5" fill="#b09a86"/>
<ellipse cx="804.5" cy="321.3" rx="0.9" ry="0.5" fill="#b09a86"/>
<ellipse cx="782.6" cy="320.4" rx="0.9" ry="0.5" fill="#4e3e33"/>
<ellipse cx="824.7" cy="321.1" rx="0.9" ry="0.5" fill="#4e3e33"/>
<ellipse cx="793.0" cy="319.0" rx="0.9" ry="0.5" fill="#b09a86"/>
<ellipse cx="789.4" cy="319.5" rx="0.9" ry="0.5" fill="#4e3e33"/>
<ellipse cx="824.7" cy="321.8" rx="0.9" ry="0.5" fill="#4e3e33"/>
<ellipse cx="800.5" cy="325.4" rx="0.9" ry="0.5" fill="#4e3e33"/>
<ellipse cx="780.0" cy="318.3" rx="0.9" ry="0.5" fill="#4e3e33"/>
<ellipse cx="808.9" cy="318.9" rx="0.9" ry="0.5" fill="#b09a86"/>
</g>
<path d="M775.8,308.6 C776.3,308.3 780.5,313.3 781.0,314.0 C781.5,314.7 782.6,318.3 783.3,318.6 C784.0,318.9 790.6,318.5 791.6,318.6 C792.6,318.7 797.4,320.7 798.2,320.3 C799.0,319.9 802.5,313.8 803.0,313.0 C803.5,312.2 805.3,307.9 805.7,307.8 C806.1,307.7 808.6,311.3 809.0,312.0 C809.4,312.7 812.3,317.0 812.3,317.8 C812.3,318.6 809.2,322.4 809.0,323.6 C808.8,324.8 809.6,334.0 809.8,335.2 C810.0,336.4 811.3,340.7 812.3,341.8 C813.3,342.9 823.3,350.1 824.8,351.8 C826.3,353.5 833.8,364.8 834.7,366.7 C835.6,368.6 838.6,378.2 838.9,380.0 C839.2,381.8 839.9,391.8 839.7,393.3 C839.5,394.8 837.2,402.2 836.4,403.2 C835.6,404.2 829.1,407.6 828.1,408.2 C827.1,408.8 821.6,411.3 821.0,412.0 C820.4,412.7 821.7,417.8 819.8,418.2 C817.9,418.6 793.9,419.0 792.0,418.2 C790.1,417.4 791.9,407.2 792.0,406.0 C792.1,404.8 793.8,401.5 793.2,399.9 C792.6,398.3 784.4,384.0 783.3,381.7 C782.2,379.4 777.3,367.2 776.6,365.1 C775.9,363.0 772.8,352.0 772.5,350.1 C772.2,348.2 771.5,338.4 771.6,336.9 C771.7,335.4 773.1,328.1 773.3,326.9 C773.5,325.7 773.9,319.8 774.1,318.6 C774.3,317.4 775.3,308.9 775.8,308.6Z" fill="none" stroke="#3a2c22" stroke-width="0.4"/>
<circle cx="784.1" cy="332" r="2.7" fill="#f2b21a" stroke="#2a2a2a" stroke-width="0.5"/><circle cx="799.9" cy="332" r="2.7" fill="#f2b21a" stroke="#2a2a2a" stroke-width="0.5"/>
<circle cx="784.6" cy="332.2" r="1.1" fill="#111"/><circle cx="799.4" cy="332.2" r="1.1" fill="#111"/>
<path d="M780,329 l7,1.5 M804,329 l-7,1.5" stroke="#3a2c22" stroke-width="0.7"/>
<path d="M791.2,335 L792.4,342 L793.6,335z" fill="#3a3a3a"/>
<path d="M793,402 l-3,6 M797,402 l-2,7" stroke="#555" stroke-width="0.8"/></g><rect x="265.8" y="308.7" width="1.6" height="12.5" fill="#111"/>
<path d="M266.5,315 L186,388" stroke="#222" stroke-width="0.95"/>
<rect x="366" y="265" width="1.6" height="41" fill="#111"/>
<path d="M367,285 L412,350" stroke="#222" stroke-width="0.95"/>
<rect x="540.3" y="270.3" width="1.6" height="40.5" fill="#111"/>
<path d="M541,290 L607.5,332.7" stroke="#222" stroke-width="0.95"/>
<rect x="735.8" y="269.5" width="1.6" height="41.2" fill="#111"/>
<path d="M736.5,289 L790.2,361.5" stroke="#222" stroke-width="0.95"/>
<text x="312.0" y="273.5" font-size="11.5" fill="#3a3a44" stroke="#3a3a44" stroke-width="0.2" textLength="50" lengthAdjust="spacingAndGlyphs">consumer</text>
<text x="265.0" y="288.5" font-size="11.5" fill="#3a3a44" stroke="#3a3a44" stroke-width="0.2" textLength="97" lengthAdjust="spacingAndGlyphs">primary consumer</text>
<text x="338.5" y="303.5" font-size="11.5" fill="#7bc142" stroke="#7bc142" stroke-width="0.2" font-weight="bold" textLength="23.5" lengthAdjust="spacingAndGlyphs">prey</text>
<text x="484.0" y="276.8" font-size="11.5" fill="#3a3a44" stroke="#3a3a44" stroke-width="0.2" textLength="50" lengthAdjust="spacingAndGlyphs">consumer</text>
<text x="427.0" y="291.8" font-size="11.5" fill="#3a3a44" stroke="#3a3a44" stroke-width="0.2" textLength="107" lengthAdjust="spacingAndGlyphs">secondary consumer</text>
<text x="459.0" y="307.2" font-size="11.5" fill="#f8ab2a" stroke="#f8ab2a" stroke-width="0.2" font-weight="bold" textLength="49" lengthAdjust="spacingAndGlyphs">predator</text>
<text x="508.5" y="307.2" font-size="11.5" fill="#3a3a44" stroke="#3a3a44" stroke-width="0.2" textLength="4.5" lengthAdjust="spacingAndGlyphs">/</text>
<text x="513.0" y="307.2" font-size="11.5" fill="#7bc142" stroke="#7bc142" stroke-width="0.2" font-weight="bold" textLength="21" lengthAdjust="spacingAndGlyphs">prey</text>
<text x="681.5" y="276.8" font-size="11.5" fill="#3a3a44" stroke="#3a3a44" stroke-width="0.2" textLength="50" lengthAdjust="spacingAndGlyphs">consumer</text>
<text x="637.5" y="291.8" font-size="11.5" fill="#3a3a44" stroke="#3a3a44" stroke-width="0.2" textLength="94" lengthAdjust="spacingAndGlyphs">tertiary consumer</text>
<text x="683.0" y="307.2" font-size="11.5" fill="#f8ab2a" stroke="#f8ab2a" stroke-width="0.2" font-weight="bold" textLength="49" lengthAdjust="spacingAndGlyphs">predator</text>

<!-- food chain labels -->
<g font-size="11.5">
<text x="270.6" y="318.5" fill="#ea5fa6" class="b" textLength="48" lengthAdjust="spacingAndGlyphs">producer</text>
</g>

<!-- INVERTEBRATE KEY -->
<g id="keyg">
<rect x="24.2" y="448.6" width="453.1" height="259.2" rx="49" ry="45" fill="#fff" stroke="#111" stroke-width="2.1"/>
<text x="59.7" y="465" font-size="12" fill="#111" stroke="#111" stroke-width="0.45" textLength="112" lengthAdjust="spacingAndGlyphs">Invertebrate Key</text>
<rect x="59.7" y="466.3" width="112" height="1.3" fill="#111"/>
<line class="blk" x1="237.2" y1="463.3" x2="237.2" y2="471.7" marker-end="url(#ak)"/>
<line class="red" x1="201.7" y1="481.5" x2="165" y2="498" marker-end="url(#ar)"/>
<line class="grn" x1="278" y1="480.8" x2="315" y2="498.3" marker-end="url(#ag)"/>
<line class="red" x1="315.8" y1="511.3" x2="278.3" y2="529.2" marker-end="url(#ar)"/>
<line class="grn" x1="362.5" y1="511.3" x2="405" y2="526.3" marker-end="url(#ag)"/>
<line class="red" x1="288.8" y1="542.5" x2="250" y2="568.8" marker-end="url(#ar)"/>
<line class="grn" x1="321.3" y1="542.5" x2="369.5" y2="568.8" marker-end="url(#ag)"/>
<line class="red" x1="106.7" y1="533.7" x2="79.2" y2="555.3" marker-end="url(#ar)"/>
<line class="grn" x1="134.2" y1="533.7" x2="162.5" y2="554.2" marker-end="url(#ag)"/>
<line class="red" x1="66.7" y1="568.7" x2="50" y2="616.7" marker-end="url(#ar)"/>
<line class="grn" x1="89.2" y1="568.7" x2="110" y2="616.7" marker-end="url(#ag)"/>
<line class="red" x1="244.8" y1="595.3" x2="202.2" y2="612.3" marker-end="url(#ar)"/>
<line class="grn" x1="261.4" y1="595.3" x2="305" y2="612.9" marker-end="url(#ag)"/>
<line class="red" x1="385.9" y1="595.3" x2="360" y2="634.7" marker-end="url(#ar)"/>
<line class="grn" x1="397" y1="595.3" x2="429.2" y2="634.7" marker-end="url(#ag)"/>
<line class="red" x1="190.8" y1="661" x2="153.5" y2="673" marker-end="url(#ar)"/>
<line class="grn" x1="212.6" y1="661" x2="254.1" y2="668.3" marker-end="url(#ag)"/>
<rect class="kb" x="208.0" y="450.8" width="61.2" height="11.2" rx="2.5"/>
<text class="ktb" x="238.6" y="460" text-anchor="middle" textLength="57" lengthAdjust="spacingAndGlyphs">Start here</text>
<rect class="kb" x="203.0" y="473.0" width="74.0" height="11.5" rx="2.5"/>
<text class="kt" x="240.0" y="482" text-anchor="middle" textLength="70" lengthAdjust="spacingAndGlyphs">Has it got legs?</text>
<rect class="kb" x="78.0" y="494.2" width="85.3" height="38.6" rx="5"/>
<text class="kt" x="120.7" y="504.9" text-anchor="middle" textLength="73" lengthAdjust="spacingAndGlyphs">Has its body got</text>
<text class="kt" x="120.7" y="515.7" text-anchor="middle" textLength="58" lengthAdjust="spacingAndGlyphs">several parts</text>
<text class="kt" x="120.7" y="526.5" text-anchor="middle" textLength="54" lengthAdjust="spacingAndGlyphs">(segments)?</text>
<rect class="kb" x="295.0" y="499.3" width="85.0" height="11.5" rx="2.5"/>
<text class="kt" x="337.5" y="508.2" text-anchor="middle" textLength="79" lengthAdjust="spacingAndGlyphs">Has it got 6 legs?</text>
<rect class="kb" x="406.0" y="514.3" width="61.0" height="47.2" rx="8"/>
<text class="ktb" x="436.5" y="524.5" text-anchor="middle" textLength="29" lengthAdjust="spacingAndGlyphs">Insect</text>
<text class="kt" x="436.5" y="535" text-anchor="middle" textLength="55" lengthAdjust="spacingAndGlyphs">Turn over to</text>
<text class="kt" x="436.5" y="546.2" text-anchor="middle" textLength="38.5" lengthAdjust="spacingAndGlyphs">work out</text>
<text class="kt" x="436.5" y="556.5" text-anchor="middle" textLength="45" lengthAdjust="spacingAndGlyphs">which one.</text>
<rect class="kb" x="262.3" y="530.0" width="85.5" height="12.0" rx="2.5"/>
<text class="kt" x="305.1" y="539.2" text-anchor="middle" textLength="77.7" lengthAdjust="spacingAndGlyphs">Has it got 8 legs?</text>
<rect class="kb" x="34.2" y="555.8" width="86.1" height="12.4" rx="2.5"/>
<text class="kt" x="77.2" y="565.2" text-anchor="middle" textLength="81" lengthAdjust="spacingAndGlyphs">Has it got a shell?</text>
<rect class="kb" x="149.7" y="555.8" width="31.3" height="12.2" rx="2.5"/>
<text class="ktb" x="165.3" y="565.5" text-anchor="middle" textLength="27" lengthAdjust="spacingAndGlyphs">Worm</text>
<rect class="kb" x="213.1" y="569.8" width="85.7" height="24.6" rx="5"/>
<text class="kt" x="255.9" y="579.4" text-anchor="middle" textLength="77" lengthAdjust="spacingAndGlyphs">Has it got an oval</text>
<text class="kt" x="255.9" y="590.2" text-anchor="middle" textLength="60" lengthAdjust="spacingAndGlyphs">shaped body?</text>
<rect class="kb" x="343.1" y="569.5" width="86.0" height="25.1" rx="5"/>
<text class="kt" x="386.1" y="579.4" text-anchor="middle" textLength="81" lengthAdjust="spacingAndGlyphs">Does its body only</text>
<text class="kt" x="386.1" y="590.2" text-anchor="middle" textLength="54.6" lengthAdjust="spacingAndGlyphs">have 1 part?</text>
<rect class="kb" x="34.2" y="617.7" width="31.6" height="12.3" rx="2.5"/>
<text class="ktb" x="50.0" y="628.2" text-anchor="middle" textLength="19.7" lengthAdjust="spacingAndGlyphs">Slug</text>
<rect class="kb" x="99.3" y="617.7" width="31.5" height="12.3" rx="2.5"/>
<text class="ktb" x="115.1" y="628.2" text-anchor="middle" textLength="22" lengthAdjust="spacingAndGlyphs">Snail</text>
<rect class="kb" x="159.2" y="613.4" width="85.7" height="47.1" rx="8"/>
<text class="kt" x="202.1" y="623.4" text-anchor="middle" textLength="71.5" lengthAdjust="spacingAndGlyphs">Has it got 1 pair</text>
<text class="kt" x="202.1" y="634.2" text-anchor="middle" textLength="71" lengthAdjust="spacingAndGlyphs">of legs for each</text>
<text class="kt" x="202.1" y="645.2" text-anchor="middle" textLength="66.4" lengthAdjust="spacingAndGlyphs">segment of it’s</text>
<text class="kt" x="202.1" y="655.9" text-anchor="middle" textLength="25.5" lengthAdjust="spacingAndGlyphs">body?</text>
<rect class="kb" x="267.5" y="613.4" width="53.0" height="12.1" rx="2.5"/>
<text class="ktb" x="294.0" y="623.4" text-anchor="middle" textLength="47" lengthAdjust="spacingAndGlyphs">Woodlouse</text>
<rect class="kb" x="349.0" y="636.2" width="37.0" height="11.5" rx="2.5"/>
<text class="ktb" x="367.5" y="645.2" text-anchor="middle" textLength="28.6" lengthAdjust="spacingAndGlyphs">Spider</text>
<rect class="kb" x="408.5" y="636.2" width="63.8" height="11.5" rx="2.5"/>
<text class="ktb" x="440.4" y="645.2" text-anchor="middle" textLength="54.3" lengthAdjust="spacingAndGlyphs">Harvestman</text>
<rect class="kb" x="93.0" y="669.7" width="48.2" height="12.0" rx="2.5"/>
<text class="ktb" x="117.1" y="679.9" text-anchor="middle" textLength="40.3" lengthAdjust="spacingAndGlyphs">Millipede</text>
<rect class="kb" x="256.5" y="670.0" width="47.4" height="11.9" rx="2.5"/>
<text class="ktb" x="280.2" y="679.8" text-anchor="middle" textLength="44" lengthAdjust="spacingAndGlyphs">Centipede</text>
<text class="kt" x="186.7" y="496" text-anchor="middle" textLength="10" lengthAdjust="spacingAndGlyphs">no</text>
<text class="kt" x="281.7" y="496" text-anchor="middle" textLength="15" lengthAdjust="spacingAndGlyphs">yes</text>
<text class="kt" x="306.7" y="524.3" text-anchor="middle" textLength="10" lengthAdjust="spacingAndGlyphs">no</text>
<text class="kt" x="373.8" y="524.3" text-anchor="middle" textLength="15" lengthAdjust="spacingAndGlyphs">yes</text>
<text class="kt" x="275" y="561" text-anchor="middle" textLength="10" lengthAdjust="spacingAndGlyphs">no</text>
<text class="kt" x="330" y="561" text-anchor="middle" textLength="15" lengthAdjust="spacingAndGlyphs">yes</text>
<text class="kt" x="103.3" y="546.3" text-anchor="middle" textLength="10" lengthAdjust="spacingAndGlyphs">no</text>
<text class="kt" x="135" y="546.3" text-anchor="middle" textLength="15" lengthAdjust="spacingAndGlyphs">yes</text>
<text class="kt" x="65" y="596.3" text-anchor="middle" textLength="10" lengthAdjust="spacingAndGlyphs">no</text>
<text class="kt" x="89.2" y="596.3" text-anchor="middle" textLength="15" lengthAdjust="spacingAndGlyphs">yes</text>
<text class="kt" x="233.4" y="607.6" text-anchor="middle" textLength="10" lengthAdjust="spacingAndGlyphs">no</text>
<text class="kt" x="270.7" y="607.6" text-anchor="middle" textLength="15" lengthAdjust="spacingAndGlyphs">yes</text>
<text class="kt" x="379.7" y="619" text-anchor="middle" textLength="10" lengthAdjust="spacingAndGlyphs">no</text>
<text class="kt" x="403.5" y="619" text-anchor="middle" textLength="15" lengthAdjust="spacingAndGlyphs">yes</text>
<text class="kt" x="184.6" y="674" text-anchor="middle" textLength="10" lengthAdjust="spacingAndGlyphs">no</text>
<text class="kt" x="222" y="674" text-anchor="middle" textLength="15" lengthAdjust="spacingAndGlyphs">yes</text>
<path d="M141,593 Q148,578 158,574 Q168,570.5 178,576.5 Q185,582 190.5,601.5" fill="none" stroke="#777" stroke-width="3.6" stroke-linecap="round"/>
<path d="M141,593 Q148,578 158,574 Q168,570.5 178,576.5 Q185,582 190.5,601.5" fill="none" stroke="#eee" stroke-width="2" stroke-linecap="round"/>
<path d="M24,647.5 Q32,638 50,635.5 Q64,635 72,640 L76,634.5 L75,641 L79,642.5 L72,644 Q66,650 57,651.5 Q40,654 30,653 Q22,651 24,647.5Z" fill="#7a7a7a" stroke="#333" stroke-width="0.6"/>
<path d="M34.9,647.3 l4.9,-0.5" stroke="#2a2a2a" stroke-width="0.5"/>
<path d="M37.1,648.5 l5.4,-0.5" stroke="#2a2a2a" stroke-width="0.5"/>
<path d="M49.2,641.8 l3.0,-0.8" stroke="#2a2a2a" stroke-width="0.5"/>
<path d="M52.6,639.8 l5.4,-1.0" stroke="#2a2a2a" stroke-width="0.5"/>
<path d="M37.8,639.5 l6.0,-0.0" stroke="#2a2a2a" stroke-width="0.5"/>
<path d="M64.8,646.4 l3.1,-0.8" stroke="#2a2a2a" stroke-width="0.5"/>
<path d="M48.9,640.4 l5.9,-0.8" stroke="#2a2a2a" stroke-width="0.5"/>
<path d="M34.5,648.8 l3.4,0.4" stroke="#2a2a2a" stroke-width="0.5"/>
<path d="M47.0,645.6 l4.0,-0.5" stroke="#2a2a2a" stroke-width="0.5"/>
<path d="M35.9,639.4 l5.6,-1.0" stroke="#2a2a2a" stroke-width="0.5"/>
<path d="M60.8,641.5 l5.9,0.3" stroke="#2a2a2a" stroke-width="0.5"/>
<path d="M59.7,648.2 l4.7,-0.0" stroke="#2a2a2a" stroke-width="0.5"/>
<path d="M33.1,644.7 l5.5,-1.1" stroke="#2a2a2a" stroke-width="0.5"/>
<path d="M66.8,649.7 l4.2,-0.8" stroke="#2a2a2a" stroke-width="0.5"/>
<path d="M47.0,643.6 l6.0,-0.7" stroke="#2a2a2a" stroke-width="0.5"/>
<path d="M29.1,640.1 l5.2,0.5" stroke="#2a2a2a" stroke-width="0.5"/>
<path d="M48.8,644.9 l4.7,-0.0" stroke="#2a2a2a" stroke-width="0.5"/>
<path d="M37.3,646.3 l4.7,-0.3" stroke="#2a2a2a" stroke-width="0.5"/>
<path d="M35.6,641.0 l4.0,0.4" stroke="#2a2a2a" stroke-width="0.5"/>
<path d="M42.6,646.2 l3.9,-1.3" stroke="#2a2a2a" stroke-width="0.5"/>
<path d="M30.8,648.8 l5.3,-0.8" stroke="#2a2a2a" stroke-width="0.5"/>
<path d="M56.7,647.1 l5.7,0.4" stroke="#2a2a2a" stroke-width="0.5"/>
<path d="M45.1,650.9 l5.9,-0.3" stroke="#2a2a2a" stroke-width="0.5"/>
<path d="M65.1,644.9 l4.1,-1.0" stroke="#2a2a2a" stroke-width="0.5"/>
<path d="M64.8,640.9 l3.2,0.1" stroke="#2a2a2a" stroke-width="0.5"/>
<path d="M60.5,644.8 l5.5,-1.4" stroke="#2a2a2a" stroke-width="0.5"/>
<path d="M38.8,642.5 l4.3,-1.2" stroke="#2a2a2a" stroke-width="0.5"/>
<path d="M30.9,643.1 l5.7,0.5" stroke="#2a2a2a" stroke-width="0.5"/>
<path d="M59.3,644.7 l3.8,0.4" stroke="#2a2a2a" stroke-width="0.5"/>
<path d="M50.1,647.7 l3.1,-1.1" stroke="#2a2a2a" stroke-width="0.5"/>
<path d="M63.2,648.5 l5.6,-0.3" stroke="#2a2a2a" stroke-width="0.5"/>
<path d="M45.9,646.0 l5.5,-0.9" stroke="#2a2a2a" stroke-width="0.5"/>
<path d="M50.4,642.3 l5.3,-1.5" stroke="#2a2a2a" stroke-width="0.5"/>
<path d="M56.8,650.4 l3.1,-0.3" stroke="#2a2a2a" stroke-width="0.5"/>
<path d="M55.0,649.2 l4.8,-1.0" stroke="#2a2a2a" stroke-width="0.5"/>
<path d="M45.0,650.5 l5.7,-1.2" stroke="#2a2a2a" stroke-width="0.5"/>
<path d="M32.0,640.1 l3.1,-0.6" stroke="#2a2a2a" stroke-width="0.5"/>
<path d="M33.9,649.4 l5.0,-1.2" stroke="#2a2a2a" stroke-width="0.5"/>
<path d="M50.6,642.9 l4.5,-1.1" stroke="#2a2a2a" stroke-width="0.5"/>
<path d="M35.0,641.2 l4.1,-0.1" stroke="#2a2a2a" stroke-width="0.5"/>
<path d="M87,655.5 Q100,651 118,652 L136,651.5 L145.5,641.5 L138.5,651 L152.5,650.5 L138,654 Q120,657.5 87,655.5Z" fill="#c4c4c4" stroke="#555" stroke-width="0.6"/>
<path d="M92.5,654 Q92,640 104,635 Q118,631 126,640 Q130,647 128,653 Z" fill="#d6d6d6" stroke="#555" stroke-width="0.8"/>
<path d="M105,646.5 m-2,0 a2,2 0 1,1 4,0 a4.5,4 0 1,1 -9,0 a7.5,7 0 1,1 15,0" fill="none" stroke="#666" stroke-width="0.8"/>
<circle cx="112.6" cy="636.8" r="0.4" fill="#666"/>
<circle cx="117.7" cy="650.9" r="0.4" fill="#666"/>
<circle cx="119.8" cy="649.4" r="0.4" fill="#666"/>
<circle cx="95.3" cy="643.9" r="0.4" fill="#666"/>
<circle cx="97.0" cy="649.0" r="0.4" fill="#666"/>
<circle cx="100.6" cy="648.1" r="0.4" fill="#666"/>
<circle cx="103.1" cy="647.8" r="0.4" fill="#666"/>
<circle cx="105.0" cy="636.7" r="0.4" fill="#666"/>
<circle cx="107.4" cy="641.3" r="0.4" fill="#666"/>
<circle cx="123.8" cy="641.0" r="0.4" fill="#666"/>
<circle cx="111.1" cy="645.3" r="0.4" fill="#666"/>
<circle cx="125.3" cy="637.7" r="0.4" fill="#666"/>
<circle cx="114.2" cy="644.6" r="0.4" fill="#666"/>
<circle cx="118.5" cy="652.4" r="0.4" fill="#666"/>
<circle cx="104.9" cy="647.9" r="0.4" fill="#666"/>
<circle cx="111.8" cy="645.5" r="0.4" fill="#666"/>
<circle cx="97.0" cy="649.8" r="0.4" fill="#666"/>
<circle cx="126.3" cy="642.0" r="0.4" fill="#666"/>
<circle cx="105.2" cy="652.9" r="0.4" fill="#666"/>
<circle cx="98.4" cy="637.3" r="0.4" fill="#666"/>
<circle cx="97.3" cy="649.8" r="0.4" fill="#666"/>
<circle cx="119.3" cy="643.6" r="0.4" fill="#666"/>
<circle cx="114.9" cy="636.3" r="0.4" fill="#666"/>
<circle cx="115.6" cy="643.5" r="0.4" fill="#666"/>
<circle cx="111.6" cy="642.6" r="0.4" fill="#666"/>
<circle cx="107.8" cy="639.8" r="0.4" fill="#666"/>
<circle cx="96.6" cy="643.4" r="0.4" fill="#666"/>
<circle cx="102.9" cy="648.0" r="0.4" fill="#666"/>
<circle cx="121.2" cy="648.3" r="0.4" fill="#666"/>
<circle cx="109.6" cy="640.0" r="0.4" fill="#666"/>
<circle cx="107.3" cy="644.3" r="0.4" fill="#666"/>
<circle cx="115.2" cy="652.4" r="0.4" fill="#666"/>
<circle cx="97.7" cy="644.2" r="0.4" fill="#666"/>
<circle cx="110.7" cy="648.2" r="0.4" fill="#666"/>
<circle cx="123.5" cy="649.3" r="0.4" fill="#666"/>
<circle cx="115.1" cy="648.9" r="0.4" fill="#666"/>
<circle cx="116.4" cy="650.6" r="0.4" fill="#666"/>
<circle cx="117.4" cy="647.6" r="0.4" fill="#666"/>
<circle cx="102.8" cy="651.6" r="0.4" fill="#666"/>
<circle cx="107.4" cy="646.5" r="0.4" fill="#666"/>
<circle cx="121.4" cy="652.4" r="0.4" fill="#666"/>
<circle cx="126.7" cy="636.1" r="0.4" fill="#666"/>
<circle cx="105.0" cy="641.3" r="0.4" fill="#666"/>
<circle cx="107.5" cy="638.5" r="0.4" fill="#666"/>
<circle cx="112.7" cy="637.4" r="0.4" fill="#666"/>
<path d="M89,698.5 Q100,686 118,685.5 Q136,685 141.5,695.5" fill="none" stroke="#555" stroke-width="4.4" stroke-linecap="round"/>
<path d="M89,698.5 Q100,686 118,685.5 Q136,685 141.5,695.5" fill="none" stroke="#aaa" stroke-width="2.6" stroke-linecap="round"/>
<path d="M137,693 l-4,4 M141,692 l1,5" stroke="#444" stroke-width="0.6"/>
<ellipse cx="291" cy="636.9" rx="22" ry="9.2" fill="#b5b5b5" stroke="#333" stroke-width="0.8"/>
<path d="M273.0,631.2 V642.8" stroke="#333" stroke-width="0.8"/>
<path d="M276.2,630.8 V643.2" stroke="#333" stroke-width="0.8"/>
<path d="M279.4,630.4 V643.6" stroke="#333" stroke-width="0.8"/>
<path d="M282.6,630.0 V644.0" stroke="#333" stroke-width="0.8"/>
<path d="M285.8,629.6 V644.4" stroke="#333" stroke-width="0.8"/>
<path d="M289.0,629.2 V644.8" stroke="#333" stroke-width="0.8"/>
<path d="M292.2,629.2 V644.8" stroke="#333" stroke-width="0.8"/>
<path d="M295.4,629.6 V644.4" stroke="#333" stroke-width="0.8"/>
<path d="M298.6,630.0 V644.0" stroke="#333" stroke-width="0.8"/>
<path d="M301.8,630.4 V643.6" stroke="#333" stroke-width="0.8"/>
<path d="M305.0,630.8 V643.2" stroke="#333" stroke-width="0.8"/>
<path d="M308.2,631.2 V642.8" stroke="#333" stroke-width="0.8"/>
<path d="M270,636.5 H312" stroke="#444" stroke-width="0.5"/>
<path d="M313,633 Q317,630 316,627 M313,640 Q318,642 321,647" fill="none" stroke="#333" stroke-width="0.8"/>
<path d="M247,696 Q270,691 290,690.5 Q298,690.5 303,692" fill="none" stroke="#555" stroke-width="2.6" stroke-linecap="round"/>
<path d="M250.0,695.2 l-3.0,-8.0 M250.0,695.2 l-3.0,8.0" stroke="#555" stroke-width="0.55"/>
<path d="M253.6,694.9 l-3.0,-8.0 M253.6,694.9 l-3.0,8.0" stroke="#555" stroke-width="0.55"/>
<path d="M257.2,694.5 l-3.0,-8.0 M257.2,694.5 l-3.0,8.0" stroke="#555" stroke-width="0.55"/>
<path d="M260.8,694.2 l-3.0,-8.0 M260.8,694.2 l-3.0,8.0" stroke="#555" stroke-width="0.55"/>
<path d="M264.4,693.9 l-3.0,-8.0 M264.4,693.9 l-3.0,8.0" stroke="#555" stroke-width="0.55"/>
<path d="M268.0,693.6 l-3.0,-8.0 M268.0,693.6 l-3.0,8.0" stroke="#555" stroke-width="0.55"/>
<path d="M271.6,693.2 l-3.0,-8.0 M271.6,693.2 l-3.0,8.0" stroke="#555" stroke-width="0.55"/>
<path d="M275.2,692.9 l-3.0,-8.0 M275.2,692.9 l-3.0,8.0" stroke="#555" stroke-width="0.55"/>
<path d="M278.8,692.6 l-3.0,-8.0 M278.8,692.6 l-3.0,8.0" stroke="#555" stroke-width="0.55"/>
<path d="M282.4,692.2 l-3.0,-8.0 M282.4,692.2 l-3.0,8.0" stroke="#555" stroke-width="0.55"/>
<path d="M286.0,691.9 l-3.0,-8.0 M286.0,691.9 l-3.0,8.0" stroke="#555" stroke-width="0.55"/>
<path d="M289.6,691.6 l-3.0,-8.0 M289.6,691.6 l-3.0,8.0" stroke="#555" stroke-width="0.55"/>
<path d="M293.2,691.2 l-3.0,-8.0 M293.2,691.2 l-3.0,8.0" stroke="#555" stroke-width="0.55"/>
<path d="M296.8,690.9 l-3.0,-8.0 M296.8,690.9 l-3.0,8.0" stroke="#555" stroke-width="0.55"/>
<path d="M300.4,690.6 l-3.0,-8.0 M300.4,690.6 l-3.0,8.0" stroke="#555" stroke-width="0.55"/>
<ellipse cx="300" cy="691.5" rx="4" ry="2.4" fill="#666"/>
<path d="M303,691 Q309,686 315,683.5 M303,693 Q308,700 312.5,705" fill="none" stroke="#444" stroke-width="0.6"/>
<g stroke="#333" stroke-width="0.8" fill="none">
<path d="M370,665 Q378,654 392,660"/>
<path d="M371,666 Q382,657 395,665"/>
<path d="M371,669 Q383,673 395,674"/>
<path d="M370,671 Q378,680 389,682"/>
<path d="M366,664 Q360,655 340,657"/>
<path d="M367,664 Q356,658 338,660"/>
<path d="M366,672 Q356,676 339,676"/>
<path d="M368,673 Q365,682 350,683"/>
<path d="M372,664 Q375,652 385,652"/>
</g>
<ellipse cx="357.5" cy="668.5" rx="11" ry="7" fill="#bdbdbd" stroke="#333" stroke-width="0.8"/>
<ellipse cx="372" cy="668" rx="5" ry="4.3" fill="#999" stroke="#333" stroke-width="0.7"/>
<path d="M349,668.5 h17 M352,664 h12 M352,673 h12" stroke="#555" stroke-width="0.5"/>
<g stroke="#555" stroke-width="0.6" fill="none">
<path d="M438.5,666.5 Q420,655 404,670"/>
<path d="M438.5,666.5 Q428,652 426,672"/>
<path d="M438.5,666.5 Q446,650 452,652"/>
<path d="M438.5,666.5 Q455,655 476,660"/>
<path d="M438.5,666.5 Q448,660 470,683"/>
<path d="M438.5,666.5 Q430,668 435,683"/>
<path d="M438.5,666.5 Q420,660 405,668"/>
<path d="M438.5,666.5 Q445,668 462,684"/>
</g>
<ellipse cx="438.5" cy="666.8" rx="3.2" ry="2" fill="#888"/>
</g>

<!-- classification text box -->
<rect x="508.5" y="469.5" width="419" height="175" fill="#fff" stroke="#000" stroke-width="1"/>
<rect x="517" y="489.2" width="401.2" height="132.6" fill="#ffff00"/>
<g font-size="12.5" fill="#111">
<text x="518" y="500.8" textLength="378" lengthAdjust="spacingAndGlyphs">Classification keys can be used to identify and name a variety of</text>
<text x="518" y="517.2" textLength="74" lengthAdjust="spacingAndGlyphs">living things.</text>
<text x="518" y="550.6" textLength="357" lengthAdjust="spacingAndGlyphs">A key is a <tspan font-weight="bold">set of questions</tspan> about the characteristics of living</text>
<text x="518" y="566.6" textLength="37.5" lengthAdjust="spacingAndGlyphs">things.</text>
<text x="518" y="600.8" textLength="396" lengthAdjust="spacingAndGlyphs">You can use a key to identify a living thing or decide which group it</text>
<text x="518" y="617" textLength="226" lengthAdjust="spacingAndGlyphs">belongs to by answering the questions.</text>
</g>

</svg>
</body></html>
